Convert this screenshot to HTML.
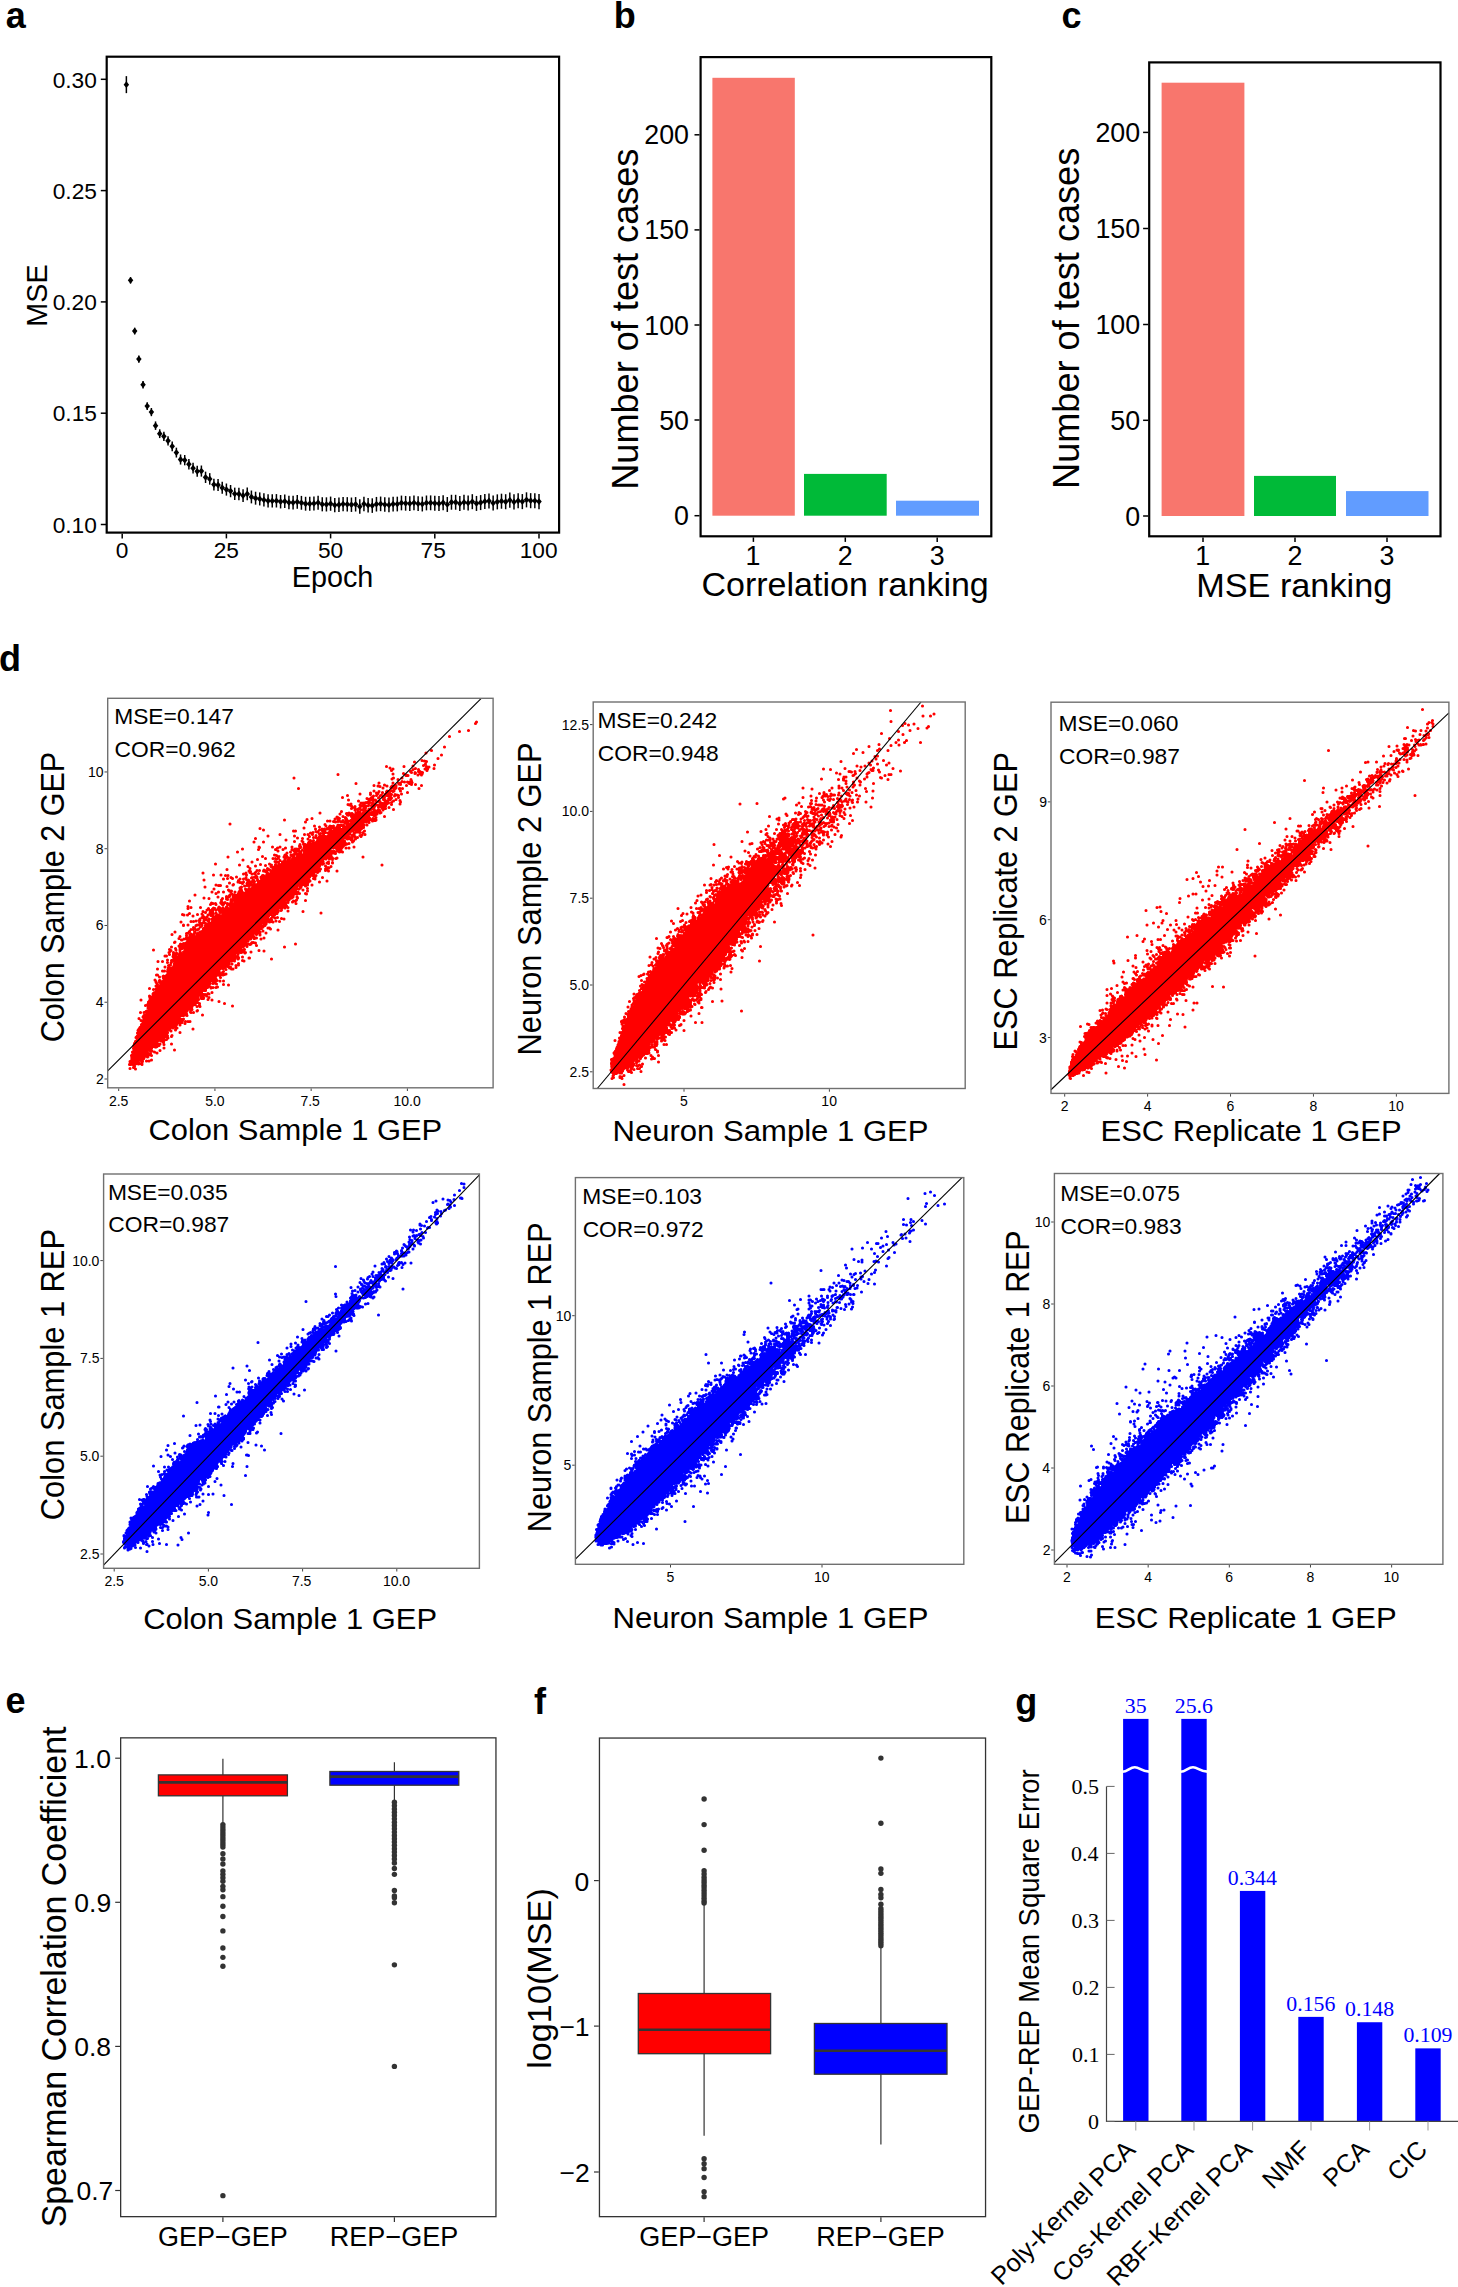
<!DOCTYPE html>
<html><head><meta charset="utf-8"><title>Figure</title>
<style>html,body{margin:0;padding:0;background:#fff;}body{width:1458px;height:2287px;overflow:hidden;}svg{display:block;}</style>
</head><body>
<svg width="1458" height="2287" viewBox="0 0 1458 2287">
<rect x="0" y="0" width="1458" height="2287" fill="#fff"/>
<text x="5.82" y="28.40" font-family='"Liberation Sans", sans-serif' font-size="36" font-weight="bold" fill="#000">a</text>
<text x="613.66" y="28.00" font-family='"Liberation Sans", sans-serif' font-size="36" font-weight="bold" fill="#000">b</text>
<text x="1061.56" y="27.80" font-family='"Liberation Sans", sans-serif' font-size="36" font-weight="bold" fill="#000">c</text>
<text x="-0.94" y="671.00" font-family='"Liberation Sans", sans-serif' font-size="36" font-weight="bold" fill="#000">d</text>
<text x="5.46" y="1713.20" font-family='"Liberation Sans", sans-serif' font-size="36" font-weight="bold" fill="#000">e</text>
<text x="534.06" y="1714.30" font-family='"Liberation Sans", sans-serif' font-size="36" font-weight="bold" fill="#000">f</text>
<text x="1015.26" y="1713.50" font-family='"Liberation Sans", sans-serif' font-size="36" font-weight="bold" fill="#000">g</text>
<rect x="106.70" y="56.70" width="452.40" height="475.90" fill="none" stroke="#000" stroke-width="2.2"/>
<line x1="100.80" y1="79.30" x2="106.00" y2="79.30" stroke="#000" stroke-width="1.5"/>
<text x="52.64" y="87.50" font-family='"Liberation Sans", sans-serif' font-size="22.7" fill="#000">0.30</text>
<line x1="100.80" y1="190.60" x2="106.00" y2="190.60" stroke="#000" stroke-width="1.5"/>
<text x="52.76" y="198.80" font-family='"Liberation Sans", sans-serif' font-size="22.7" fill="#000">0.25</text>
<line x1="100.80" y1="301.90" x2="106.00" y2="301.90" stroke="#000" stroke-width="1.5"/>
<text x="52.64" y="310.10" font-family='"Liberation Sans", sans-serif' font-size="22.7" fill="#000">0.20</text>
<line x1="100.80" y1="413.20" x2="106.00" y2="413.20" stroke="#000" stroke-width="1.5"/>
<text x="52.76" y="421.40" font-family='"Liberation Sans", sans-serif' font-size="22.7" fill="#000">0.15</text>
<line x1="100.80" y1="524.50" x2="106.00" y2="524.50" stroke="#000" stroke-width="1.5"/>
<text x="52.64" y="532.70" font-family='"Liberation Sans", sans-serif' font-size="22.7" fill="#000">0.10</text>
<line x1="122.20" y1="533.70" x2="122.20" y2="538.40" stroke="#000" stroke-width="1.5"/>
<text x="115.84" y="558.40" font-family='"Liberation Sans", sans-serif' font-size="22.7" fill="#000">0</text>
<line x1="226.40" y1="533.70" x2="226.40" y2="538.40" stroke="#000" stroke-width="1.5"/>
<text x="213.69" y="558.40" font-family='"Liberation Sans", sans-serif' font-size="22.7" fill="#000">25</text>
<line x1="330.60" y1="533.70" x2="330.60" y2="538.40" stroke="#000" stroke-width="1.5"/>
<text x="317.94" y="558.40" font-family='"Liberation Sans", sans-serif' font-size="22.7" fill="#000">50</text>
<line x1="434.80" y1="533.70" x2="434.80" y2="538.40" stroke="#000" stroke-width="1.5"/>
<text x="420.61" y="558.40" font-family='"Liberation Sans", sans-serif' font-size="22.7" fill="#000">75</text>
<line x1="539.00" y1="533.70" x2="539.00" y2="538.40" stroke="#000" stroke-width="1.5"/>
<text x="519.65" y="558.40" font-family='"Liberation Sans", sans-serif' font-size="22.7" fill="#000">100</text>
<text x="291.70" y="586.80" font-family='"Liberation Sans", sans-serif' font-size="28.8" fill="#000" textLength="81.59" lengthAdjust="spacingAndGlyphs">Epoch</text>
<text transform="translate(47.00,324.35) rotate(-90)" x="-2.30" y="0" font-family='"Liberation Sans", sans-serif' font-size="28.7" fill="#000">MSE</text>
<line x1="126.37" y1="76.14" x2="126.37" y2="93.14" stroke="#000" stroke-width="1.5"/>
<line x1="130.54" y1="277.11" x2="130.54" y2="283.51" stroke="#000" stroke-width="1.5"/>
<line x1="134.70" y1="327.67" x2="134.70" y2="334.46" stroke="#000" stroke-width="1.5"/>
<line x1="138.87" y1="355.53" x2="138.87" y2="362.69" stroke="#000" stroke-width="1.5"/>
<line x1="143.04" y1="380.95" x2="143.04" y2="388.47" stroke="#000" stroke-width="1.5"/>
<line x1="147.21" y1="402.15" x2="147.21" y2="410.01" stroke="#000" stroke-width="1.5"/>
<line x1="151.38" y1="407.99" x2="151.38" y2="416.18" stroke="#000" stroke-width="1.5"/>
<line x1="155.54" y1="421.42" x2="155.54" y2="429.92" stroke="#000" stroke-width="1.5"/>
<line x1="159.71" y1="429.28" x2="159.71" y2="438.08" stroke="#000" stroke-width="1.5"/>
<line x1="163.88" y1="431.81" x2="163.88" y2="440.89" stroke="#000" stroke-width="1.5"/>
<line x1="168.05" y1="436.13" x2="168.05" y2="445.48" stroke="#000" stroke-width="1.5"/>
<line x1="172.22" y1="441.56" x2="172.22" y2="451.17" stroke="#000" stroke-width="1.5"/>
<line x1="176.38" y1="447.67" x2="176.38" y2="457.53" stroke="#000" stroke-width="1.5"/>
<line x1="180.55" y1="454.45" x2="180.55" y2="464.55" stroke="#000" stroke-width="1.5"/>
<line x1="184.72" y1="455.01" x2="184.72" y2="465.33" stroke="#000" stroke-width="1.5"/>
<line x1="188.89" y1="458.90" x2="188.89" y2="469.45" stroke="#000" stroke-width="1.5"/>
<line x1="193.06" y1="462.81" x2="193.06" y2="473.56" stroke="#000" stroke-width="1.5"/>
<line x1="197.22" y1="465.82" x2="197.22" y2="476.77" stroke="#000" stroke-width="1.5"/>
<line x1="201.39" y1="465.51" x2="201.39" y2="476.64" stroke="#000" stroke-width="1.5"/>
<line x1="205.56" y1="471.65" x2="205.56" y2="482.97" stroke="#000" stroke-width="1.5"/>
<line x1="209.73" y1="473.15" x2="209.73" y2="484.64" stroke="#000" stroke-width="1.5"/>
<line x1="213.90" y1="478.78" x2="213.90" y2="490.43" stroke="#000" stroke-width="1.5"/>
<line x1="218.06" y1="479.07" x2="218.06" y2="490.89" stroke="#000" stroke-width="1.5"/>
<line x1="222.23" y1="481.77" x2="222.23" y2="493.73" stroke="#000" stroke-width="1.5"/>
<line x1="226.40" y1="483.51" x2="226.40" y2="495.62" stroke="#000" stroke-width="1.5"/>
<line x1="230.57" y1="484.98" x2="230.57" y2="497.22" stroke="#000" stroke-width="1.5"/>
<line x1="234.74" y1="487.63" x2="234.74" y2="500.01" stroke="#000" stroke-width="1.5"/>
<line x1="238.90" y1="487.73" x2="238.90" y2="500.23" stroke="#000" stroke-width="1.5"/>
<line x1="243.07" y1="489.31" x2="243.07" y2="501.93" stroke="#000" stroke-width="1.5"/>
<line x1="247.24" y1="487.54" x2="247.24" y2="500.27" stroke="#000" stroke-width="1.5"/>
<line x1="251.41" y1="490.52" x2="251.41" y2="503.37" stroke="#000" stroke-width="1.5"/>
<line x1="255.58" y1="491.72" x2="255.58" y2="504.67" stroke="#000" stroke-width="1.5"/>
<line x1="259.74" y1="492.40" x2="259.74" y2="505.45" stroke="#000" stroke-width="1.5"/>
<line x1="263.91" y1="493.31" x2="263.91" y2="506.46" stroke="#000" stroke-width="1.5"/>
<line x1="268.08" y1="494.15" x2="268.08" y2="507.38" stroke="#000" stroke-width="1.5"/>
<line x1="272.25" y1="494.22" x2="272.25" y2="507.54" stroke="#000" stroke-width="1.5"/>
<line x1="276.42" y1="494.09" x2="276.42" y2="507.50" stroke="#000" stroke-width="1.5"/>
<line x1="280.58" y1="494.98" x2="280.58" y2="508.46" stroke="#000" stroke-width="1.5"/>
<line x1="284.75" y1="494.54" x2="284.75" y2="508.10" stroke="#000" stroke-width="1.5"/>
<line x1="288.92" y1="495.63" x2="288.92" y2="509.27" stroke="#000" stroke-width="1.5"/>
<line x1="293.09" y1="495.77" x2="293.09" y2="509.47" stroke="#000" stroke-width="1.5"/>
<line x1="297.26" y1="495.00" x2="297.26" y2="508.78" stroke="#000" stroke-width="1.5"/>
<line x1="301.42" y1="495.90" x2="301.42" y2="509.73" stroke="#000" stroke-width="1.5"/>
<line x1="305.59" y1="496.80" x2="305.59" y2="510.69" stroke="#000" stroke-width="1.5"/>
<line x1="309.76" y1="496.76" x2="309.76" y2="510.71" stroke="#000" stroke-width="1.5"/>
<line x1="313.93" y1="496.43" x2="313.93" y2="510.44" stroke="#000" stroke-width="1.5"/>
<line x1="318.10" y1="495.64" x2="318.10" y2="509.70" stroke="#000" stroke-width="1.5"/>
<line x1="322.26" y1="497.23" x2="322.26" y2="511.34" stroke="#000" stroke-width="1.5"/>
<line x1="326.43" y1="497.32" x2="326.43" y2="511.48" stroke="#000" stroke-width="1.5"/>
<line x1="330.60" y1="496.58" x2="330.60" y2="510.79" stroke="#000" stroke-width="1.5"/>
<line x1="334.77" y1="497.93" x2="334.77" y2="512.18" stroke="#000" stroke-width="1.5"/>
<line x1="338.94" y1="497.60" x2="338.94" y2="511.90" stroke="#000" stroke-width="1.5"/>
<line x1="343.10" y1="496.88" x2="343.10" y2="511.22" stroke="#000" stroke-width="1.5"/>
<line x1="347.27" y1="497.14" x2="347.27" y2="511.51" stroke="#000" stroke-width="1.5"/>
<line x1="351.44" y1="497.52" x2="351.44" y2="511.93" stroke="#000" stroke-width="1.5"/>
<line x1="355.61" y1="497.06" x2="355.61" y2="511.51" stroke="#000" stroke-width="1.5"/>
<line x1="359.78" y1="499.33" x2="359.78" y2="513.81" stroke="#000" stroke-width="1.5"/>
<line x1="363.94" y1="496.68" x2="363.94" y2="511.19" stroke="#000" stroke-width="1.5"/>
<line x1="368.11" y1="497.92" x2="368.11" y2="512.46" stroke="#000" stroke-width="1.5"/>
<line x1="372.28" y1="498.31" x2="372.28" y2="512.88" stroke="#000" stroke-width="1.5"/>
<line x1="376.45" y1="496.93" x2="376.45" y2="511.52" stroke="#000" stroke-width="1.5"/>
<line x1="380.62" y1="496.55" x2="380.62" y2="511.18" stroke="#000" stroke-width="1.5"/>
<line x1="384.78" y1="497.22" x2="384.78" y2="511.87" stroke="#000" stroke-width="1.5"/>
<line x1="388.95" y1="497.55" x2="388.95" y2="512.22" stroke="#000" stroke-width="1.5"/>
<line x1="393.12" y1="496.71" x2="393.12" y2="511.41" stroke="#000" stroke-width="1.5"/>
<line x1="397.29" y1="496.67" x2="397.29" y2="511.39" stroke="#000" stroke-width="1.5"/>
<line x1="401.46" y1="495.59" x2="401.46" y2="510.33" stroke="#000" stroke-width="1.5"/>
<line x1="405.62" y1="495.93" x2="405.62" y2="510.69" stroke="#000" stroke-width="1.5"/>
<line x1="409.79" y1="496.19" x2="409.79" y2="510.97" stroke="#000" stroke-width="1.5"/>
<line x1="413.96" y1="495.47" x2="413.96" y2="510.27" stroke="#000" stroke-width="1.5"/>
<line x1="418.13" y1="496.25" x2="418.13" y2="511.06" stroke="#000" stroke-width="1.5"/>
<line x1="422.30" y1="496.62" x2="422.30" y2="511.46" stroke="#000" stroke-width="1.5"/>
<line x1="426.46" y1="495.50" x2="426.46" y2="510.36" stroke="#000" stroke-width="1.5"/>
<line x1="430.63" y1="495.40" x2="430.63" y2="510.26" stroke="#000" stroke-width="1.5"/>
<line x1="434.80" y1="495.82" x2="434.80" y2="510.70" stroke="#000" stroke-width="1.5"/>
<line x1="438.97" y1="496.09" x2="438.97" y2="510.99" stroke="#000" stroke-width="1.5"/>
<line x1="443.14" y1="495.30" x2="443.14" y2="510.21" stroke="#000" stroke-width="1.5"/>
<line x1="447.30" y1="497.01" x2="447.30" y2="511.94" stroke="#000" stroke-width="1.5"/>
<line x1="451.47" y1="494.78" x2="451.47" y2="509.71" stroke="#000" stroke-width="1.5"/>
<line x1="455.64" y1="494.80" x2="455.64" y2="509.74" stroke="#000" stroke-width="1.5"/>
<line x1="459.81" y1="496.11" x2="459.81" y2="511.07" stroke="#000" stroke-width="1.5"/>
<line x1="463.98" y1="494.86" x2="463.98" y2="509.83" stroke="#000" stroke-width="1.5"/>
<line x1="468.14" y1="495.44" x2="468.14" y2="510.42" stroke="#000" stroke-width="1.5"/>
<line x1="472.31" y1="494.18" x2="472.31" y2="509.17" stroke="#000" stroke-width="1.5"/>
<line x1="476.48" y1="495.93" x2="476.48" y2="510.93" stroke="#000" stroke-width="1.5"/>
<line x1="480.65" y1="495.07" x2="480.65" y2="510.08" stroke="#000" stroke-width="1.5"/>
<line x1="484.82" y1="493.88" x2="484.82" y2="508.89" stroke="#000" stroke-width="1.5"/>
<line x1="488.98" y1="493.47" x2="488.98" y2="508.49" stroke="#000" stroke-width="1.5"/>
<line x1="493.15" y1="495.57" x2="493.15" y2="510.60" stroke="#000" stroke-width="1.5"/>
<line x1="497.32" y1="494.35" x2="497.32" y2="509.39" stroke="#000" stroke-width="1.5"/>
<line x1="501.49" y1="493.69" x2="501.49" y2="508.73" stroke="#000" stroke-width="1.5"/>
<line x1="505.66" y1="494.20" x2="505.66" y2="509.25" stroke="#000" stroke-width="1.5"/>
<line x1="509.82" y1="492.62" x2="509.82" y2="507.68" stroke="#000" stroke-width="1.5"/>
<line x1="513.99" y1="494.37" x2="513.99" y2="509.43" stroke="#000" stroke-width="1.5"/>
<line x1="518.16" y1="493.22" x2="518.16" y2="508.30" stroke="#000" stroke-width="1.5"/>
<line x1="522.33" y1="494.05" x2="522.33" y2="509.13" stroke="#000" stroke-width="1.5"/>
<line x1="526.50" y1="492.30" x2="526.50" y2="507.38" stroke="#000" stroke-width="1.5"/>
<line x1="530.66" y1="493.14" x2="530.66" y2="508.23" stroke="#000" stroke-width="1.5"/>
<line x1="534.83" y1="493.27" x2="534.83" y2="508.36" stroke="#000" stroke-width="1.5"/>
<line x1="539.00" y1="494.05" x2="539.00" y2="509.15" stroke="#000" stroke-width="1.5"/>
<g fill="#000"><path d="M123.62 84.64L126.37 81.24L129.12 84.64L126.37 88.04Z"/><path d="M127.79 280.31L130.54 276.91L133.29 280.31L130.54 283.71Z"/><path d="M131.95 331.06L134.70 327.66L137.45 331.06L134.70 334.46Z"/><path d="M136.12 359.11L138.87 355.71L141.62 359.11L138.87 362.51Z"/><path d="M140.29 384.71L143.04 381.31L145.79 384.71L143.04 388.11Z"/><path d="M144.46 406.08L147.21 402.68L149.96 406.08L147.21 409.48Z"/><path d="M148.63 412.09L151.38 408.69L154.13 412.09L151.38 415.49Z"/><path d="M152.79 425.67L155.54 422.27L158.29 425.67L155.54 429.07Z"/><path d="M156.96 433.68L159.71 430.28L162.46 433.68L159.71 437.08Z"/><path d="M161.13 436.35L163.88 432.95L166.63 436.35L163.88 439.75Z"/><path d="M165.30 440.80L168.05 437.40L170.80 440.80L168.05 444.20Z"/><path d="M169.47 446.37L172.22 442.97L174.97 446.37L172.22 449.77Z"/><path d="M173.63 452.60L176.38 449.20L179.13 452.60L176.38 456.00Z"/><path d="M177.80 459.50L180.55 456.10L183.30 459.50L180.55 462.90Z"/><path d="M181.97 460.17L184.72 456.77L187.47 460.17L184.72 463.57Z"/><path d="M186.14 464.18L188.89 460.78L191.64 464.18L188.89 467.58Z"/><path d="M190.31 468.18L193.06 464.78L195.81 468.18L193.06 471.58Z"/><path d="M194.47 471.30L197.22 467.90L199.97 471.30L197.22 474.70Z"/><path d="M198.64 471.08L201.39 467.68L204.14 471.08L201.39 474.48Z"/><path d="M202.81 477.31L205.56 473.91L208.31 477.31L205.56 480.71Z"/><path d="M206.98 478.90L209.73 475.50L212.48 478.90L209.73 482.30Z"/><path d="M211.15 484.60L213.90 481.20L216.65 484.60L213.90 488.00Z"/><path d="M215.31 484.98L218.06 481.58L220.81 484.98L218.06 488.38Z"/><path d="M219.48 487.75L222.23 484.35L224.98 487.75L222.23 491.15Z"/><path d="M223.65 489.57L226.40 486.17L229.15 489.57L226.40 492.97Z"/><path d="M227.82 491.10L230.57 487.70L233.32 491.10L230.57 494.50Z"/><path d="M231.99 493.82L234.74 490.42L237.49 493.82L234.74 497.22Z"/><path d="M236.15 493.98L238.90 490.58L241.65 493.98L238.90 497.38Z"/><path d="M240.32 495.62L243.07 492.22L245.82 495.62L243.07 499.02Z"/><path d="M244.49 493.90L247.24 490.50L249.99 493.90L247.24 497.30Z"/><path d="M248.66 496.94L251.41 493.54L254.16 496.94L251.41 500.34Z"/><path d="M252.83 498.20L255.58 494.80L258.33 498.20L255.58 501.60Z"/><path d="M256.99 498.93L259.74 495.53L262.49 498.93L259.74 502.33Z"/><path d="M261.16 499.88L263.91 496.48L266.66 499.88L263.91 503.28Z"/><path d="M265.33 500.76L268.08 497.36L270.83 500.76L268.08 504.16Z"/><path d="M269.50 500.88L272.25 497.48L275.00 500.88L272.25 504.28Z"/><path d="M273.67 500.79L276.42 497.39L279.17 500.79L276.42 504.19Z"/><path d="M277.83 501.72L280.58 498.32L283.33 501.72L280.58 505.12Z"/><path d="M282.00 501.32L284.75 497.92L287.50 501.32L284.75 504.72Z"/><path d="M286.17 502.45L288.92 499.05L291.67 502.45L288.92 505.85Z"/><path d="M290.34 502.62L293.09 499.22L295.84 502.62L293.09 506.02Z"/><path d="M294.51 501.89L297.26 498.49L300.01 501.89L297.26 505.29Z"/><path d="M298.67 502.81L301.42 499.41L304.17 502.81L301.42 506.21Z"/><path d="M302.84 503.74L305.59 500.34L308.34 503.74L305.59 507.14Z"/><path d="M307.01 503.73L309.76 500.33L312.51 503.73L309.76 507.13Z"/><path d="M311.18 503.43L313.93 500.03L316.68 503.43L313.93 506.83Z"/><path d="M315.35 502.67L318.10 499.27L320.85 502.67L318.10 506.07Z"/><path d="M319.51 504.29L322.26 500.89L325.01 504.29L322.26 507.69Z"/><path d="M323.68 504.40L326.43 501.00L329.18 504.40L326.43 507.80Z"/><path d="M327.85 503.69L330.60 500.29L333.35 503.69L330.60 507.09Z"/><path d="M332.02 505.05L334.77 501.65L337.52 505.05L334.77 508.45Z"/><path d="M336.19 504.75L338.94 501.35L341.69 504.75L338.94 508.15Z"/><path d="M340.35 504.05L343.10 500.65L345.85 504.05L343.10 507.45Z"/><path d="M344.52 504.33L347.27 500.93L350.02 504.33L347.27 507.73Z"/><path d="M348.69 504.72L351.44 501.32L354.19 504.72L351.44 508.12Z"/><path d="M352.86 504.29L355.61 500.89L358.36 504.29L355.61 507.69Z"/><path d="M357.03 506.57L359.78 503.17L362.53 506.57L359.78 509.97Z"/><path d="M361.19 503.94L363.94 500.54L366.69 503.94L363.94 507.34Z"/><path d="M365.36 505.19L368.11 501.79L370.86 505.19L368.11 508.59Z"/><path d="M369.53 505.60L372.28 502.20L375.03 505.60L372.28 509.00Z"/><path d="M373.70 504.22L376.45 500.82L379.20 504.22L376.45 507.62Z"/><path d="M377.87 503.86L380.62 500.46L383.37 503.86L380.62 507.26Z"/><path d="M382.03 504.55L384.78 501.15L387.53 504.55L384.78 507.95Z"/><path d="M386.20 504.88L388.95 501.48L391.70 504.88L388.95 508.28Z"/><path d="M390.37 504.06L393.12 500.66L395.87 504.06L393.12 507.46Z"/><path d="M394.54 504.03L397.29 500.63L400.04 504.03L397.29 507.43Z"/><path d="M398.71 502.96L401.46 499.56L404.21 502.96L401.46 506.36Z"/><path d="M402.87 503.31L405.62 499.91L408.37 503.31L405.62 506.71Z"/><path d="M407.04 503.58L409.79 500.18L412.54 503.58L409.79 506.98Z"/><path d="M411.21 502.87L413.96 499.47L416.71 502.87L413.96 506.27Z"/><path d="M415.38 503.66L418.13 500.26L420.88 503.66L418.13 507.06Z"/><path d="M419.55 504.04L422.30 500.64L425.05 504.04L422.30 507.44Z"/><path d="M423.71 502.93L426.46 499.53L429.21 502.93L426.46 506.33Z"/><path d="M427.88 502.83L430.63 499.43L433.38 502.83L430.63 506.23Z"/><path d="M432.05 503.26L434.80 499.86L437.55 503.26L434.80 506.66Z"/><path d="M436.22 503.54L438.97 500.14L441.72 503.54L438.97 506.94Z"/><path d="M440.39 502.76L443.14 499.36L445.89 502.76L443.14 506.16Z"/><path d="M444.55 504.47L447.30 501.07L450.05 504.47L447.30 507.87Z"/><path d="M448.72 502.24L451.47 498.84L454.22 502.24L451.47 505.64Z"/><path d="M452.89 502.27L455.64 498.87L458.39 502.27L455.64 505.67Z"/><path d="M457.06 503.59L459.81 500.19L462.56 503.59L459.81 506.99Z"/><path d="M461.23 502.35L463.98 498.95L466.73 502.35L463.98 505.75Z"/><path d="M465.39 502.93L468.14 499.53L470.89 502.93L468.14 506.33Z"/><path d="M469.56 501.67L472.31 498.27L475.06 501.67L472.31 505.07Z"/><path d="M473.73 503.43L476.48 500.03L479.23 503.43L476.48 506.83Z"/><path d="M477.90 502.58L480.65 499.18L483.40 502.58L480.65 505.98Z"/><path d="M482.07 501.38L484.82 497.98L487.57 501.38L484.82 504.78Z"/><path d="M486.23 500.98L488.98 497.58L491.73 500.98L488.98 504.38Z"/><path d="M490.40 503.08L493.15 499.68L495.90 503.08L493.15 506.48Z"/><path d="M494.57 501.87L497.32 498.47L500.07 501.87L497.32 505.27Z"/><path d="M498.74 501.21L501.49 497.81L504.24 501.21L501.49 504.61Z"/><path d="M502.91 501.73L505.66 498.33L508.41 501.73L505.66 505.13Z"/><path d="M507.07 500.15L509.82 496.75L512.57 500.15L509.82 503.55Z"/><path d="M511.24 501.90L513.99 498.50L516.74 501.90L513.99 505.30Z"/><path d="M515.41 500.76L518.16 497.36L520.91 500.76L518.16 504.16Z"/><path d="M519.58 501.59L522.33 498.19L525.08 501.59L522.33 504.99Z"/><path d="M523.75 499.84L526.50 496.44L529.25 499.84L526.50 503.24Z"/><path d="M527.91 500.69L530.66 497.29L533.41 500.69L530.66 504.09Z"/><path d="M532.08 500.81L534.83 497.41L537.58 500.81L534.83 504.21Z"/><path d="M536.25 501.60L539.00 498.20L541.75 501.60L539.00 505.00Z"/></g>
<rect x="712.40" y="77.80" width="82.40" height="437.90" fill="#F8766D"/>
<rect x="804.00" y="473.90" width="82.70" height="41.80" fill="#00BA38"/>
<rect x="896.00" y="500.70" width="83.00" height="15.00" fill="#619CFF"/>
<rect x="700.60" y="57.10" width="290.70" height="479.20" fill="none" stroke="#000" stroke-width="2.2"/>
<line x1="694.50" y1="515.70" x2="699.50" y2="515.70" stroke="#000" stroke-width="1.5"/>
<text x="674.06" y="525.20" font-family='"Liberation Sans", sans-serif' font-size="26.8" fill="#000">0</text>
<line x1="694.50" y1="420.00" x2="699.50" y2="420.00" stroke="#000" stroke-width="1.5"/>
<text x="659.19" y="429.50" font-family='"Liberation Sans", sans-serif' font-size="26.8" fill="#000">50</text>
<line x1="694.50" y1="325.00" x2="699.50" y2="325.00" stroke="#000" stroke-width="1.5"/>
<text x="644.32" y="334.50" font-family='"Liberation Sans", sans-serif' font-size="26.8" fill="#000">100</text>
<line x1="694.50" y1="229.90" x2="699.50" y2="229.90" stroke="#000" stroke-width="1.5"/>
<text x="644.32" y="239.40" font-family='"Liberation Sans", sans-serif' font-size="26.8" fill="#000">150</text>
<line x1="694.50" y1="134.80" x2="699.50" y2="134.80" stroke="#000" stroke-width="1.5"/>
<text x="644.32" y="144.30" font-family='"Liberation Sans", sans-serif' font-size="26.8" fill="#000">200</text>
<line x1="753.40" y1="537.40" x2="753.40" y2="541.90" stroke="#000" stroke-width="1.5"/>
<text x="745.56" y="565.10" font-family='"Liberation Sans", sans-serif' font-size="26.8" fill="#000">1</text>
<line x1="845.30" y1="537.40" x2="845.30" y2="541.90" stroke="#000" stroke-width="1.5"/>
<text x="837.86" y="565.10" font-family='"Liberation Sans", sans-serif' font-size="26.8" fill="#000">2</text>
<line x1="937.20" y1="537.40" x2="937.20" y2="541.90" stroke="#000" stroke-width="1.5"/>
<text x="929.76" y="565.10" font-family='"Liberation Sans", sans-serif' font-size="26.8" fill="#000">3</text>
<text x="701.50" y="595.90" font-family='"Liberation Sans", sans-serif' font-size="34.1" fill="#000" textLength="287.28" lengthAdjust="spacingAndGlyphs">Correlation ranking</text>
<text transform="translate(637.50,486.90) rotate(-90)" x="-2.89" y="0" font-family='"Liberation Sans", sans-serif' font-size="36.1" fill="#000" textLength="341.19" lengthAdjust="spacingAndGlyphs">Number of test cases</text>
<rect x="1161.60" y="82.70" width="82.80" height="433.30" fill="#F8766D"/>
<rect x="1254.00" y="475.90" width="82.00" height="40.10" fill="#00BA38"/>
<rect x="1346.00" y="491.10" width="82.50" height="24.90" fill="#619CFF"/>
<rect x="1149.20" y="62.40" width="291.30" height="473.90" fill="none" stroke="#000" stroke-width="2.2"/>
<line x1="1143.10" y1="516.00" x2="1148.10" y2="516.00" stroke="#000" stroke-width="1.5"/>
<text x="1125.16" y="525.50" font-family='"Liberation Sans", sans-serif' font-size="26.8" fill="#000">0</text>
<line x1="1143.10" y1="420.30" x2="1148.10" y2="420.30" stroke="#000" stroke-width="1.5"/>
<text x="1110.29" y="429.80" font-family='"Liberation Sans", sans-serif' font-size="26.8" fill="#000">50</text>
<line x1="1143.10" y1="324.50" x2="1148.10" y2="324.50" stroke="#000" stroke-width="1.5"/>
<text x="1095.42" y="334.00" font-family='"Liberation Sans", sans-serif' font-size="26.8" fill="#000">100</text>
<line x1="1143.10" y1="228.50" x2="1148.10" y2="228.50" stroke="#000" stroke-width="1.5"/>
<text x="1095.42" y="238.00" font-family='"Liberation Sans", sans-serif' font-size="26.8" fill="#000">150</text>
<line x1="1143.10" y1="132.40" x2="1148.10" y2="132.40" stroke="#000" stroke-width="1.5"/>
<text x="1095.42" y="141.90" font-family='"Liberation Sans", sans-serif' font-size="26.8" fill="#000">200</text>
<line x1="1203.00" y1="537.40" x2="1203.00" y2="541.90" stroke="#000" stroke-width="1.5"/>
<text x="1195.16" y="565.10" font-family='"Liberation Sans", sans-serif' font-size="26.8" fill="#000">1</text>
<line x1="1295.00" y1="537.40" x2="1295.00" y2="541.90" stroke="#000" stroke-width="1.5"/>
<text x="1287.56" y="565.10" font-family='"Liberation Sans", sans-serif' font-size="26.8" fill="#000">2</text>
<line x1="1387.00" y1="537.40" x2="1387.00" y2="541.90" stroke="#000" stroke-width="1.5"/>
<text x="1379.56" y="565.10" font-family='"Liberation Sans", sans-serif' font-size="26.8" fill="#000">3</text>
<text x="1196.26" y="597.00" font-family='"Liberation Sans", sans-serif' font-size="34.1" fill="#000" textLength="195.96" lengthAdjust="spacingAndGlyphs">MSE ranking</text>
<text transform="translate(1078.70,486.00) rotate(-90)" x="-2.89" y="0" font-family='"Liberation Sans", sans-serif' font-size="36.1" fill="#000" textLength="341.09" lengthAdjust="spacingAndGlyphs">Number of test cases</text>
<path d="M204.5 916.1 202.8 917.1 202.5 918.6 203.2 920.1 205.0 921.1 206.8 920.1 207.0 918.6 206.5 917.1ZM220.5 900.9 219.5 902.1 219.8 903.9 221.8 905.6 223.8 905.6 225.0 904.1 224.8 902.6 222.5 900.9ZM285.8 853.6 284.8 853.9 283.0 856.1 283.2 857.6 285.2 858.9 287.2 858.1 288.2 856.9 287.8 854.9ZM323.8 829.4 322.0 830.4 321.8 832.1 323.0 833.6 324.2 833.9 326.0 832.9 326.2 831.4 325.0 829.6ZM363.0 803.9 362.0 805.1 362.2 806.9 363.8 808.4 365.8 808.4 366.8 807.1 366.5 805.4 365.0 803.9ZM375.2 802.6 372.5 802.6 370.5 805.4 371.0 809.4 372.0 810.6 372.8 810.6 372.8 811.1 369.8 811.6 368.5 809.9 364.8 809.4 363.0 810.4 362.2 812.4 359.5 812.6 358.8 813.4 357.8 812.1 356.8 811.9 355.8 812.1 354.5 813.6 353.8 813.6 352.8 812.6 350.5 812.6 349.0 811.9 346.8 812.6 345.8 813.9 346.0 815.4 348.0 816.6 350.0 816.1 351.5 818.1 350.0 820.1 350.2 822.6 349.0 822.4 349.2 820.9 347.8 819.1 345.8 819.1 343.2 821.6 343.5 823.1 346.0 824.6 345.8 825.6 343.8 825.9 342.2 828.1 341.2 828.1 340.8 827.6 340.8 826.1 339.8 824.9 337.0 824.9 335.2 827.4 334.0 827.4 333.2 828.1 332.5 830.4 332.0 829.6 333.0 827.6 332.8 826.1 331.8 825.1 329.2 825.1 327.5 827.9 327.8 829.4 329.5 830.9 327.5 832.6 328.0 834.9 326.2 835.6 323.2 834.4 322.0 834.9 319.5 834.6 317.2 837.6 316.2 840.6 315.0 841.4 313.0 841.4 311.8 842.9 310.5 841.1 308.5 841.1 306.8 844.1 305.0 843.4 303.2 844.4 303.0 847.9 304.0 849.1 302.8 850.6 303.2 852.6 302.5 853.9 301.2 852.4 300.2 852.1 298.2 853.1 297.2 852.9 299.8 850.6 299.8 849.4 298.8 848.1 296.0 847.9 293.8 848.4 292.8 849.4 292.5 850.9 294.5 853.6 296.8 853.9 296.0 856.4 295.2 856.4 294.0 854.4 292.0 854.4 291.0 855.6 291.0 856.6 291.8 857.6 291.0 859.4 290.0 858.1 288.0 858.1 286.8 860.4 286.0 859.6 284.0 859.6 281.2 861.9 280.8 863.4 279.5 863.1 277.2 864.6 275.0 864.6 272.0 867.1 272.0 869.1 270.2 870.4 270.0 872.6 267.8 871.9 266.8 872.1 265.0 875.4 263.0 874.4 260.0 876.4 259.8 878.1 260.8 879.6 258.5 880.6 257.0 883.1 255.8 883.4 254.2 882.6 252.5 883.4 252.5 881.6 251.5 880.4 250.2 880.4 248.5 879.4 247.5 879.6 245.8 882.9 246.2 885.6 248.5 886.9 251.0 885.9 251.5 887.1 250.8 887.6 248.5 887.6 247.2 888.9 246.5 888.9 245.2 890.4 245.5 891.6 244.8 892.1 242.8 891.1 242.8 889.9 241.8 888.6 239.8 888.6 236.8 894.6 235.0 893.6 233.5 893.9 232.0 896.4 232.5 898.1 232.2 899.9 233.5 901.4 233.5 902.1 233.0 902.4 231.2 901.6 229.2 902.4 228.2 903.4 228.0 905.1 229.5 906.9 229.2 907.6 227.0 906.1 225.8 906.4 224.5 908.1 223.8 907.4 221.8 907.4 219.2 906.1 217.5 907.1 217.2 908.9 218.0 911.1 219.8 913.4 221.2 913.4 221.8 913.9 221.0 915.6 220.0 914.4 217.2 913.6 216.2 913.9 214.2 916.1 214.5 913.9 213.5 910.1 211.8 909.1 210.2 909.4 209.5 910.1 208.8 914.1 211.0 916.6 212.2 917.1 211.2 918.6 211.5 921.4 210.8 922.1 209.5 921.9 207.8 922.9 206.0 922.9 204.2 926.4 202.5 927.6 201.8 929.9 200.0 931.1 199.5 933.4 198.8 932.6 196.8 932.6 195.8 933.9 195.5 935.6 192.0 933.4 189.8 933.4 188.8 934.6 188.8 936.4 186.2 936.6 185.2 937.9 185.5 939.4 186.8 940.6 185.0 943.1 181.0 943.1 179.2 944.1 178.5 945.4 179.2 948.9 181.0 949.9 183.8 949.1 183.8 950.4 182.5 951.9 182.5 953.1 180.5 952.4 179.2 952.6 178.0 953.9 177.2 955.9 176.8 955.6 177.0 954.1 176.0 952.9 174.5 952.6 172.8 953.6 171.8 956.1 172.8 958.9 171.8 960.1 171.8 961.1 173.5 962.6 173.0 963.9 173.2 966.4 170.8 966.9 169.0 965.9 167.2 966.9 166.5 971.6 167.5 973.1 164.8 975.1 163.2 975.1 162.5 975.9 162.2 978.6 162.8 979.4 161.8 980.4 160.5 979.9 158.8 980.9 158.5 982.4 159.5 983.6 159.5 984.6 157.0 985.9 157.0 987.6 156.0 987.9 155.0 989.1 155.2 991.1 153.5 991.6 152.0 993.1 152.0 995.6 150.5 995.4 148.8 996.4 148.5 998.1 149.2 999.1 146.2 1004.6 146.2 1005.6 148.2 1009.6 146.0 1009.9 145.0 1010.9 144.8 1012.4 145.8 1013.6 144.0 1014.1 142.2 1016.1 142.0 1017.6 142.8 1018.6 142.8 1019.9 141.8 1021.1 141.8 1022.9 137.0 1030.1 137.5 1031.8 136.8 1032.8 137.0 1034.6 135.5 1036.3 135.5 1037.6 136.5 1038.8 134.5 1040.8 133.2 1043.3 132.5 1046.6 133.0 1050.3 131.5 1051.8 131.8 1053.8 130.5 1055.3 130.8 1059.3 129.0 1061.6 128.8 1064.3 129.8 1065.6 132.2 1065.8 134.0 1066.8 137.2 1064.8 138.8 1064.8 139.8 1063.6 139.8 1061.1 140.8 1061.8 142.8 1061.8 145.0 1059.1 145.5 1057.6 148.2 1057.3 149.2 1056.1 150.0 1056.1 151.0 1054.8 151.0 1053.8 150.0 1052.6 148.5 1052.1 149.0 1051.6 151.2 1051.6 153.2 1048.1 156.0 1048.3 157.8 1047.3 158.0 1045.8 157.2 1044.8 158.2 1043.6 158.2 1042.1 160.2 1041.8 163.0 1042.8 164.0 1042.6 165.2 1041.1 164.8 1038.3 166.5 1038.6 168.2 1037.6 168.5 1035.3 168.0 1034.6 168.8 1033.1 168.2 1031.1 170.2 1030.8 172.0 1028.6 173.2 1029.1 176.0 1028.1 178.5 1024.3 179.8 1024.8 180.8 1024.6 183.0 1023.1 184.0 1019.4 183.0 1018.1 180.5 1017.9 180.2 1017.4 180.8 1016.9 183.2 1017.1 185.0 1016.1 187.0 1016.1 188.0 1014.9 187.2 1012.6 188.8 1010.4 191.0 1011.4 192.8 1010.4 193.0 1008.6 192.5 1007.9 193.0 1006.6 195.0 1005.9 196.5 1003.9 197.5 1003.6 198.5 1002.4 198.5 1001.1 199.5 999.9 199.0 996.6 199.8 997.1 199.8 998.1 200.8 999.4 202.8 999.6 204.5 998.6 204.8 994.4 203.8 993.1 203.0 993.1 202.8 992.4 203.2 991.9 205.8 991.6 206.5 990.9 206.8 989.4 209.8 986.6 211.5 981.9 212.5 982.9 214.5 982.9 215.5 981.4 217.0 980.4 217.2 978.9 216.5 977.6 217.5 976.6 220.5 976.6 221.2 975.9 221.5 974.4 220.8 973.4 220.2 970.6 221.8 969.6 225.2 969.4 227.0 967.6 228.5 967.4 230.2 964.4 230.2 961.4 231.8 962.1 234.5 961.6 235.5 960.4 236.5 957.4 236.5 956.1 235.8 955.1 236.2 954.6 238.5 954.6 240.2 953.4 243.2 953.6 245.0 952.6 245.0 949.6 244.2 948.9 242.2 948.9 241.8 948.4 243.8 947.9 245.5 946.6 247.0 946.6 247.8 945.9 248.0 944.4 247.0 942.4 248.0 942.1 249.5 939.9 251.5 939.9 252.5 938.6 253.8 938.6 254.5 937.9 254.8 936.1 254.0 935.1 254.5 934.6 256.2 935.4 258.0 934.4 260.2 934.4 261.0 933.6 261.2 931.9 260.0 930.4 260.8 928.1 260.0 927.1 262.0 925.9 262.5 924.4 263.8 925.6 266.0 925.6 267.0 924.6 267.8 922.4 269.5 923.1 271.5 922.6 272.5 921.6 272.5 918.9 271.8 918.1 270.5 917.9 269.2 918.4 268.8 917.9 269.8 916.1 271.2 915.6 272.8 913.9 273.8 915.1 274.8 915.4 277.5 914.4 279.2 911.9 279.5 908.9 282.2 909.1 283.2 907.9 286.0 907.9 287.2 906.6 287.5 904.9 285.5 901.6 288.8 901.6 290.8 899.4 292.2 899.1 294.0 897.4 294.2 895.6 295.2 894.4 295.0 892.9 296.5 891.9 296.8 890.1 297.8 888.9 298.0 886.4 299.2 884.9 300.5 886.4 301.5 886.6 303.0 885.9 306.0 886.6 308.5 885.4 308.8 883.6 310.5 881.1 310.5 880.1 309.5 878.9 311.8 876.6 314.0 876.6 315.0 875.4 314.8 874.1 315.8 872.9 318.2 872.9 320.5 871.4 321.2 868.9 319.8 867.4 321.2 865.6 323.2 865.4 324.2 864.4 324.2 859.9 326.0 860.1 327.8 859.1 329.5 859.9 331.8 859.1 332.8 857.9 332.8 856.9 330.8 855.1 332.2 854.4 335.5 854.4 336.8 851.9 339.5 853.1 341.5 852.9 342.2 852.1 342.2 849.1 347.2 844.4 347.0 842.9 345.5 840.9 344.0 839.9 344.2 839.6 349.0 839.9 351.5 841.1 353.2 840.1 353.2 837.1 352.5 836.4 349.2 836.1 350.5 834.6 350.2 832.6 353.2 831.9 354.2 830.9 355.8 833.4 359.5 833.4 360.5 832.1 360.2 830.6 362.8 829.6 364.5 827.9 365.0 824.9 364.0 823.6 364.5 823.1 369.0 822.6 371.0 819.9 372.2 821.4 375.2 821.9 377.0 820.9 377.2 819.4 376.0 817.6 372.5 817.6 371.2 819.1 370.0 817.1 370.2 815.4 374.0 816.4 376.2 815.9 378.0 814.4 378.5 812.9 380.0 812.9 381.0 811.6 381.0 810.1 380.0 808.9 377.5 808.9 376.5 809.9 375.2 809.1 375.0 807.9 376.2 805.1 376.2 803.9ZM336.2 850.9 334.2 850.1 331.8 850.6 331.2 849.4 331.8 848.9 333.5 849.4 335.0 848.6 336.2 850.1ZM368.8 800.4 367.8 800.6 366.8 801.9 367.0 803.4 368.8 804.4 369.8 804.1 370.8 802.9 370.5 801.4ZM389.0 800.9 388.2 800.1 386.0 799.9 384.2 800.9 383.8 802.4 381.5 801.9 379.8 802.1 377.5 805.4 377.8 806.9 378.5 807.6 380.5 807.9 382.0 809.9 385.0 809.6 386.0 808.4 386.8 805.6 389.5 803.1ZM372.0 796.6 371.0 796.9 370.0 798.1 370.2 799.6 372.0 800.6 373.0 800.4 374.0 799.1 373.8 797.6ZM386.5 790.1 385.5 791.4 385.8 792.9 384.5 793.9 384.2 795.4 385.2 796.6 388.2 797.4 388.2 798.9 389.2 800.1 391.2 800.1 392.2 798.9 391.5 796.4 392.5 795.1 392.5 794.1 388.8 790.1ZM390.0 786.6 389.8 788.1 390.8 789.4 392.5 789.4 394.2 790.4 395.5 790.1 397.2 788.1 397.0 785.6 395.2 784.6 392.0 784.9ZM407.8 781.6 407.5 783.1 409.2 784.9 412.0 784.9 413.2 783.1 413.2 782.1 412.2 780.9 409.5 780.6ZM421.2 771.1 419.5 772.1 419.2 773.6 420.5 775.1 421.5 775.4 423.2 774.4 423.5 772.6 422.5 771.4ZM427.0 766.6 426.0 766.9 425.0 768.1 425.2 769.9 427.0 770.9 428.0 770.6 429.0 769.4 428.8 767.6Z" fill="#FF0000" fill-rule="evenodd"/><path d="M129.5 1064.5h0m0.5 4h0m0 -7h0m0 2.5h0m0 0h0m0.5 -2.5h0m0 3h0m1 -9h0m0.5 4h0m0 -1h0m0 -2h0m0 1h0m0 2.5h0m0.5 -8h0m0.5 1h0m0 0.5h0m0 -1.5h0m0.5 15.5h0m0 -19h0m0.5 17h0m0 -18.5h0m0 19.5h0m0 -21h0m0 4h0m0.5 17h0m0 -16.5h0m0 -6h0m0.5 -1h0m0.5 -1h0m0 27h0m0 -27.5h0m0.5 -4h0m0.5 -0.5h0m0.5 0h0m0.5 -1h0m0 4h0m0 -7h0m0.5 -2.5h0m0 30.5h0m0.5 3h0m0 -0.5h0m0.5 -45h0m0 10.5h0m0.5 34.5h0m0.5 -36h0m0.5 -15h0m0.5 8h0m0 -20.5h0m0.5 61h0m0 -36.5h0m0.5 36.5h0m0 0h0m0 2h0m0 1.5h0m0 -3h0m0.5 0h0m0.5 -44.5h0m0 5h0m0 -1h0m0.5 37.5h0m0.5 -1h0m0 -38h0m0 -4h0m0 -3h0m1 3h0m0.5 -3.5h0m0 -6.5h0m0.5 6h0m0.5 49.5h0m0.5 -50h0m0 2h0m0.5 43h0m0 1h0m0.5 -0.5h0m0 -52h0m0 3.5h0m0.5 -6h0m0.5 59h0m0.5 -72.5h0m0 21.5h0m0 44.5h0m0 -58.5h0m0.5 1.5h0m0 53h0m0 -50.5h0m0.5 53.5h0m0.5 -3.5h0m0.5 5.5h0m0 -7.5h0m0 12h0m0.5 -9h0m1 -57h0m0.5 -44h0m0 39.5h0m0.5 3.5h0m0.5 59h0m0.5 -72h0m0.5 67h0m0.5 -58h0m0 -7.5h0m0 65.5h0m0 -61h0m0 -4h0m0.5 8h0m0 -7h0m0 -8h0m0.5 68h0m0 10h0m0 -6.5h0m0.5 -3h0m0 -74.5h0m0 6h0m0 9.5h0m0.5 -23h0m0 25.5h0m1 58.5h0m0.5 -63.5h0m0 0h0m0 -1.5h0m0 -3.5h0m0.5 73.5h0m0 -6.5h0m0 -63.5h0m1 3.5h0m0.5 57h0m1 -79.5h0m0 9.5h0m0.5 5.5h0m0.5 66h0m0 -4h0m0 -60.5h0m0 61.5h0m0 -63.5h0m0.5 64.5h0m0 4h0m0 3.5h0m0.5 -77h0m0.5 -15h0m0 11h0m1.5 72.5h0m0 -83.5h0m0.5 77.5h0m0 -1.5h0m0.5 4h0m0 -76h0m0 72.5h0m0 -58h0m0 -12h0m0 9h0m0.5 66.5h0m0 -68.5h0m0.5 -1.5h0m0 -2.5h0m0.5 7h0m0 -20h0m0 14.5h0m0.5 -12.5h0m0 -5h0m0 80.5h0m0.5 -78.5h0m0.5 13.5h0m0.5 -14.5h0m0 80.5h0m0 -68h0m0.5 -1h0m0 74.5h0m0 -89.5h0m0 97h0m0 -83.5h0m0.5 75h0m0 -67.5h0m0 -7.5h0m0 -26h0m1 22h0m0 11h0m0 0h0m0 60.5h0m0.5 -75.5h0m0 1.5h0m0 0.5h0m0.5 11.5h0m0 -8h0m0 1.5h0m0 6h0m0.5 84.5h0m0 -85.5h0m0 -22h0m0 21h0m0.5 -0.5h0m0 -21h0m0 85h0m0 -95h0m0.5 28h0m0 70h0m0 -81.5h0m0 77.5h0m0.5 -6.5h0m0 -69.5h0m0 4.5h0m0 70.5h0m0.5 -72h0m0 14h0m0.5 61h0m1.5 -9.5h0m0.5 -62.5h0m0 -17.5h0m0 16h0m0 -8.5h0m0.5 8.5h0m0.5 -4h0m0 82h0m0 -7.5h0m0 -72.5h0m0 -16h0m0 11.5h0m0 70.5h0m0 0.5h0m0 -69.5h0m0.5 -5.5h0m0 8.5h0m0 1h0m0.5 -5.5h0m0 -26h0m0.5 18h0m0 0h0m0.5 0h0m0 8.5h0m0 74h0m0.5 -2h0m0 -106h0m0 101h0m1 -90.5h0m0 94h0m0 -3.5h0m0 -63.5h0m0 -26.5h0m0 18h0m0.5 -28.5h0m0 24h0m1 10h0m0 1.5h0m0 -7h0m0 80h0m0.5 -2h0m0.5 -6.5h0m0 -72h0m0 69h0m0.5 -76.5h0m0 78.5h0m0 -80.5h0m0 5.5h0m0 -1.5h0m0 1h0m0.5 72.5h0m0 4.5h0m0.5 -70h0m0 -30.5h0m0.5 27h0m0 -9h0m0 88.5h0m0 -115h0m0 34.5h0m0 -16h0m0 -16.5h0m1.5 23h0m0 -30.5h0m0 12.5h0m0.5 108h0m0 -86.5h0m0 1h0m0 0.5h0m0.5 75.5h0m0.5 -90.5h0m0 8h0m0 83h0m0 -78.5h0m0 73.5h0m0 -100h0m0.5 100.5h0m0.5 -1.5h0m0 3h0m1 -93.5h0m0 113h0m0.5 -107.5h0m0 14.5h0m0 -6.5h0m0 -2h0m0 85h0m0.5 -78.5h0m0.5 -2h0m0 -4h0m0.5 0.5h0m0 76h0m0 -109.5h0m0.5 108.5h0m0.5 -82.5h0m0 4.5h0m0.5 4.5h0m0.5 76.5h0m0 -73h0m0 2h0m0 -10.5h0m0 86h0m0.5 -14.5h0m0 -66.5h0m0 72.5h0m0 -88h0m0 96h0m0 -12.5h0m0.5 -73h0m0 8.5h0m0.5 66h0m0 -70.5h0m0.5 -8.5h0m0 4h0m0.5 80.5h0m0 -1.5h0m0 -81.5h0m0.5 10h0m0 -12h0m0 86.5h0m0 -87.5h0m0.5 8h0m0 -19.5h0m0.5 16.5h0m0 8h0m0 65.5h0m0.5 1h0m0 -5.5h0m0.5 -79h0m0 11.5h0m0 -8h0m0.5 5.5h0m0 92h0m0.5 -99.5h0m0 -4h0m0 -38.5h0m0.5 56.5h0m0 69h0m0 -70h0m0 69h0m0 -79.5h0m0.5 -20h0m0 22.5h0m0 74h0m0 -114.5h0m0 37.5h0m1 -30.5h0m0 103.5h0m0 -67.5h0m0.5 67.5h0m0 -64.5h0m0 64h0m0 -1h0m0 -76.5h0m0 13h0m0 69h0m0 -75h0m0.5 0h0m0 75.5h0m0.5 1h0m0 -72h0m0.5 -7h0m0 -7h0m0.5 77.5h0m0.5 6h0m0 6h0m0 -84.5h0m0 6h0m0.5 -12.5h0m0 12h0m0 65.5h0m0.5 0h0m0 -87.5h0m0 99h0m0 -77.5h0m0 2h0m0 72h0m0 -75h0m1 64.5h0m0 -73h0m0 3.5h0m0 -1h0m0.5 -8.5h0m0 82.5h0m0.5 1h0m0 -72.5h0m0.5 -12.5h0m0.5 -11h0m0 100.5h0m0 -73.5h0m0 81h0m0.5 -91h0m0 10.5h0m0 2h0m0 -8h0m0 -1.5h0m0.5 1.5h0m0 -3.5h0m0 73.5h0m0 -69h0m0 -11h0m0 84h0m0.5 -112.5h0m0 42h0m0 -9h0m0.5 73.5h0m0 -92.5h0m1 93.5h0m0 -74h0m0 68.5h0m0 6h0m0.5 -79.5h0m0 -39.5h0m0.5 115h0m0 8.5h0m0 -94h0m0 90h0m0 -73.5h0m0 -25h0m0 28h0m0 -8.5h0m0.5 79.5h0m0 -68.5h0m0.5 65h0m0.5 6.5h0m0.5 -72h0m0 -18h0m0.5 -5h0m0 16.5h0m0 -23h0m0.5 86h0m0 -64.5h0m0 94.5h0m0 -91.5h0m0.5 -24.5h0m0 87.5h0m0 2h0m0.5 -62.5h0m0 63h0m0 5.5h0m0 -65.5h0m0.5 62h0m0 -92h0m0.5 17h0m0 72h0m0 -56h0m0 -43.5h0m0 28h0m0.5 -3h0m1 74h0m0 -1.5h0m0 -68h0m0 11h0m0 -17h0m0.5 76.5h0m0 -61.5h0m0 55h0m0 -54h0m0 2h0m0 -8.5h0m0 -3h0m0.5 -13h0m0 79.5h0m0 -92.5h0m0 105.5h0m0 -3.5h0m0.5 -63.5h0m0 -14h0m0.5 71h0m0 29h0m0.5 -101h0m0.5 -27h0m0.5 33h0m0 61h0m0 4.5h0m0.5 -76.5h0m0 9.5h0m0 -10.5h0m0 2.5h0m0.5 -0.5h0m0 -12h0m0 -17h0m0 37.5h0m0.5 -3.5h0m0 -4h0m0 5h0m0 -26h0m0.5 -21.5h0m0 109.5h0m0 -91h0m0 89.5h0m0.5 -75h0m0 95h0m0 -88h0m0.5 65h0m0 2h0m0.5 4h0m0 -85h0m0 8h0m0 5.5h0m0 -1h0m0.5 9.5h0m0 4.5h0m0 58.5h0m0 -144h0m0.5 143h0m0 -72.5h0m0 -3.5h0m0.5 16h0m0 -29.5h0m0 22h0m0 1h0m0 0.5h0m0 -9h0m0.5 -1h0m0 78h0m0 -66.5h0m0 58.5h0m0 0h0m0.5 -60h0m0 -7h0m0 70h0m0.5 -85.5h0m0 127.5h0m0.5 -37h0m0 -84h0m0 14.5h0m0 -2.5h0m0.5 -12.5h0m0 11.5h0m0.5 -1h0m0.5 60.5h0m0 5.5h0m0 -66h0m0.5 63.5h0m0 -57.5h0m0 -9h0m0.5 64.5h0m0.5 11h0m0 -2h0m0.5 -88.5h0m0.5 79.5h0m0 -61.5h0m0.5 -43h0m0.5 102.5h0m0 4h0m0 0.5h0m0 -77h0m0.5 -1.5h0m0 78h0m0 5h0m0 1.5h0m0 -71.5h0m0 64h0m0.5 -65.5h0m0 5.5h0m0.5 -32.5h0m0 33h0m0.5 -10h0m0 -9h0m0 11.5h0m0 -8h0m0.5 13h0m0 -8h0m0.5 1h0m0 -6h0m0 70h0m0.5 -62h0m0 -3.5h0m1 73.5h0m0 -77h0m0 73.5h0m0 -108h0m0.5 98h0m0 -87h0m0 86.5h0m0.5 -72.5h0m0 8h0m0 -3h0m0.5 18h0m0 64h0m0.5 -11.5h0m0 -63.5h0m0 0h0m0.5 67h0m0.5 -0.5h0m0 -63.5h0m0 54h0m0 -0.5h0m0.5 -65h0m0 -4.5h0m0 17.5h0m0.5 -11h0m0 -4.5h0m0.5 15h0m0 -4.5h0m0 -2h0m0 63h0m0.5 -66.5h0m0.5 -13.5h0m0 14.5h0m0 59h0m0 1h0m0 3h0m0.5 -64h0m0.5 78h0m0 -69.5h0m0 -17.5h0m0.5 87h0m0 -72.5h0m0.5 -17h0m0 4h0m0 72h0m0.5 -73h0m0 67.5h0m0.5 5h0m0 -61.5h0m0 61h0m0 8.5h0m0.5 -74h0m0.5 -16h0m0 19.5h0m0 -4h0m0 -3.5h0m0 68.5h0m1 -55.5h0m0.5 -7h0m0 62.5h0m0 -6h0m0 0h0m0.5 1h0m0 -95.5h0m0 96.5h0m0 -55h0m0.5 55h0m0 -57h0m0 -8h0m0 3.5h0m1 61h0m0 -99.5h0m0 34h0m0 70.5h0m0 -77h0m0 11.5h0m0.5 -2h0m0 62.5h0m0 0h0m0 -4h0m0.5 0.5h0m0 3.5h0m0 7.5h0m0.5 -67h0m0 -1.5h0m0 -6.5h0m0 0h0m0.5 -11h0m0 21h0m0 -1h0m1 -30h0m0 77.5h0m0 -53.5h0m0 9.5h0m0.5 67.5h0m0 -20.5h0m0 -83h0m0.5 0.5h0m0 23h0m0.5 64.5h0m0 -106.5h0m0 100h0m0 6h0m0 -2h0m0 -0.5h0m0.5 -51h0m0 -16.5h0m0.5 13h0m0 -0.5h0m0 48.5h0m0 -48.5h0m0 3.5h0m0 58.5h0m0 -13.5h0m0.5 3h0m0 -2h0m0.5 1h0m0 -1.5h0m0 0h0m0.5 -69.5h0m0 19h0m0.5 55.5h0m0 -4h0m0.5 -97h0m0 41h0m0 4.5h0m0 -33.5h0m0.5 109h0m0 -81h0m0 68h0m0 -57.5h0m0.5 45h0m0 0h0m0.5 0h0m0 -55h0m0 54h0m0.5 -66h0m0 7h0m0 6h0m0 -6h0m0.5 67.5h0m0 -9h0m0 -1.5h0m0.5 -51.5h0m0.5 0h0m0 1h0m0 2h0m0.5 -5.5h0m0 49h0m0.5 -81.5h0m0 92h0m0.5 -12h0m0.5 -46.5h0m0.5 52.5h0m0 -38.5h0m0 -4.5h0m0 49h0m0 -64h0m1 65h0m0 -58.5h0m0 0h0m0 0h0m0.5 48h0m0 -4h0m0 -48h0m0.5 92.5h0m0 -39h0m0 -53h0m0 4.5h0m0 -6.5h0m0 56.5h0m0.5 -54.5h0m0.5 12.5h0m0 36.5h0m0 -69h0m0 20.5h0m0.5 -9h0m0 57.5h0m0 1h0m0 5h0m1 -7.5h0m0.5 -59.5h0m0 60h0m0.5 -53.5h0m0 56.5h0m0.5 -59.5h0m0 6h0m0 -15h0m0.5 71.5h0m0.5 -59h0m0 -6.5h0m0.5 3.5h0m0 54.5h0m0 -1h0m0.5 5h0m0 -69.5h0m0.5 63.5h0m0 -60.5h0m0 79h0m0 -20h0m0.5 -52h0m0 4.5h0m0 -5h0m0.5 -1h0m0 8h0m0.5 57h0m0.5 -61h0m0 -26h0m0 12.5h0m1 63.5h0m0.5 -46h0m0 45.5h0m0 8.5h0m0.5 -10.5h0m0 -37.5h0m0.5 -8.5h0m0.5 -12.5h0m1 69.5h0m0 -62h0m0 44.5h0m0.5 0.5h0m0 -82h0m0 127h0m0.5 -92h0m0 14.5h0m0 33.5h0m0 5h0m0 -48.5h0m0.5 -1.5h0m0 -10h0m0 56.5h0m0.5 -64.5h0m0.5 66h0m0 -50h0m0.5 -3h0m0.5 49h0m0.5 9h0m0 -53.5h0m0 45h0m0 -42.5h0m0 47.5h0m0.5 -48.5h0m0.5 41h0m0 -34.5h0m0 -0.5h0m0.5 -7h0m0 0h0m1 -6h0m0.5 3h0m0.5 1h0m0 42h0m0.5 -51h0m0 2.5h0m0 17h0m0.5 35.5h0m0 -36.5h0m0 -6.5h0m0.5 38h0m0 -0.5h0m0.5 -40.5h0m0 -25h0m0 70h0m0 -44.5h0m0 -2h0m0.5 -3.5h0m0 -73h0m0 77h0m0.5 39h0m0 -52.5h0m0 -5.5h0m0.5 13h0m0.5 52h0m0 -47.5h0m0 37.5h0m0 53h0m0 -113h0m0.5 60.5h0m0 12h0m0.5 -3.5h0m0 -46h0m0 32.5h0m0 -37.5h0m0.5 39.5h0m0 -2.5h0m0 11h0m0 -42.5h0m0 39.5h0m0.5 -56h0m0 16.5h0m0 2h0m0 41.5h0m0.5 -13h0m0 7h0m0.5 -103.5h0m0 62.5h0m0.5 -2.5h0m0 3h0m0 37.5h0m0.5 4.5h0m0 -47.5h0m0.5 7h0m0 -6.5h0m0 5h0m0 -7h0m0 42h0m0.5 -40h0m0 41.5h0m0 -40.5h0m0.5 6h0m0 -1.5h0m0 35h0m0.5 -1.5h0m0.5 -44.5h0m0.5 9h0m0 -11.5h0m0.5 73h0m0 -21.5h0m0 -48h0m0.5 2h0m0.5 3.5h0m0 -19.5h0m0 17h0m0.5 6.5h0m0 2h0m0 -19h0m1 10h0m0 49h0m0 7h0m0 -78.5h0m0 64h0m1 8h0m0.5 -74.5h0m0.5 69h0m0 -3.5h0m0 6h0m0.5 -52h0m0 43.5h0m0 -4h0m0 -44h0m0.5 8.5h0m0.5 -1h0m0.5 -5.5h0m0 21.5h0m0 22.5h0m0 -3.5h0m0.5 4h0m0 -38h0m0.5 -2.5h0m0 0h0m0 -7.5h0m1.5 14.5h0m0 37.5h0m0 -66.5h0m0.5 16h0m0 23h0m0.5 18h0m0 -43h0m0 9.5h0m0.5 -1.5h0m0 38h0m0 -4h0m0 -37h0m0.5 35h0m0 6h0m0.5 -2h0m0 -50.5h0m0.5 51.5h0m0 1.5h0m0.5 -50h0m0.5 2.5h0m0 44h0m0 -40h0m0 2h0m1 -5.5h0m0.5 40h0m0 0.5h0m0 -40.5h0m0.5 9h0m0 -0.5h0m0 -1h0m0 -8h0m1 6h0m0 0h0m0.5 -7.5h0m0 36h0m0 -32h0m0 48h0m0 -11h0m0 -44h0m0 41.5h0m0.5 -33h0m0 -22.5h0m0.5 20.5h0m0 35.5h0m0.5 44h0m1 -84h0m0.5 35h0m0 13.5h0m0 -46.5h0m0 29.5h0m0.5 -27h0m0 28h0m0.5 -27h0m0 29h0m1 -34.5h0m0.5 7.5h0m0 -12h0m0.5 8h0m0 33.5h0m0 -36.5h0m0 39.5h0m0 1.5h0m0.5 -14.5h0m0 3h0m0 10h0m0 -43h0m1 55h0m0 -11.5h0m0 -6.5h0m0.5 -42h0m0 7.5h0m0.5 7.5h0m0 31.5h0m0 -38.5h0m0 4h0m0.5 21h0m0 8h0m0 -5h0m0 14h0m0 -34h0m0 26.5h0m0.5 4.5h0m0 -35.5h0m0.5 -5.5h0m0 7.5h0m0 24.5h0m0.5 -33h0m0 23h0m0 1h0m0 -29h0m0.5 9.5h0m0.5 23.5h0m0 -25h0m0 26.5h0m0 11h0m0.5 -40h0m0 5h0m0.5 26h0m0 -24.5h0m0 -1.5h0m0 -4.5h0m0.5 35.5h0m0 -3h0m0 -33h0m0 36.5h0m0 -11.5h0m0 8h0m0.5 -1h0m0.5 -32.5h0m0 -4.5h0m0 26.5h0m0 -17h0m0 -3.5h0m0.5 3h0m0.5 -2h0m0 23h0m0.5 -19.5h0m0 -13h0m0 13.5h0m0.5 21h0m0 -31.5h0m0.5 12.5h0m0 24h0m0.5 -10h0m0.5 9.5h0m0 0h0m0 -31h0m0 44h0m0 -54h0m0.5 34h0m0.5 -26h0m0 -6h0m0 -44.5h0m0 47h0m0 -4h0m0 3.5h0m0.5 -1.5h0m1 -1h0m0 9.5h0m0 -2h0m0 26h0m0.5 -38h0m0.5 7.5h0m0 3.5h0m0.5 0.5h0m0 25h0m0 -0.5h0m0 -25h0m0.5 -13.5h0m0.5 36h0m0.5 4.5h0m0 -12.5h0m0 -17.5h0m0 -24.5h0m0.5 28h0m0 -5h0m0 -4h0m0 27h0m0.5 -18h0m0 0.5h0m0 2h0m1 13h0m0.5 -18h0m0.5 21.5h0m0 -26h0m0 -1h0m0.5 0.5h0m0 30h0m0.5 -27.5h0m0 -7h0m0 5.5h0m0.5 25h0m0 -19h0m0.5 -10.5h0m0 24.5h0m0 -43.5h0m0.5 19.5h0m0 21.5h0m0 -32h0m0.5 -4.5h0m0 15h0m0.5 33h0m0 -4.5h0m0 -22.5h0m0 -8h0m0.5 -8h0m0 29h0m0.5 0h0m0.5 -2.5h0m0.5 -27.5h0m0.5 36h0m0 -31.5h0m0 11.5h0m0 -3.5h0m0 5h0m0 -15.5h0m0.5 29.5h0m0 3h0m0 -25h0m0 22h0m0.5 -28h0m0 28.5h0m0 6h0m0 -23h0m0 12h0m0.5 -13h0m0.5 16.5h0m0 6.5h0m0.5 6h0m0.5 -13.5h0m0 -0.5h0m0.5 -23h0m0 -2h0m0 -1.5h0m0 30.5h0m0 -0.5h0m0 -4h0m0.5 6.5h0m0 -13.5h0m0.5 -42h0m0 29h0m0.5 1h0m0.5 6h0m0 2h0m0.5 8.5h0m0 -0.5h0m0 -16h0m0 24h0m0 -28h0m0 8.5h0m1 -17h0m0 10.5h0m0 15.5h0m0.5 -18.5h0m0 22.5h0m1 -26h0m0 3h0m0 -14h0m0 41.5h0m0 -5.5h0m0 -17.5h0m0 20h0m0.5 -26h0m0.5 3.5h0m0 10h0m0 9h0m0 7.5h0m0 -33.5h0m0 26h0m1 6h0m0 -29h0m1 26.5h0m0 -23h0m0 14h0m0 -20.5h0m0 54h0m0.5 -47h0m0 17.5h0m0 -15h0m0.5 -2h0m0 14.5h0m0 -21h0m0.5 5h0m0 22h0m0 -24h0m0 -4h0m0.5 31.5h0m0.5 -28.5h0m0 2h0m0.5 -5.5h0m0 19.5h0m0.5 -11h0m0 -5h0m0.5 -7.5h0m0 26.5h0m0.5 -22.5h0m0.5 8.5h0m0.5 0h0m0 -5.5h0m0 10.5h0m0.5 6h0m0 -21.5h0m0 8.5h0m0 -5.5h0m0 19h0m0.5 -4.5h0m0 -19h0m0.5 3.5h0m0.5 -8h0m0 25h0m0 -26.5h0m0 17h0m0.5 -10.5h0m0.5 -0.5h0m0 15.5h0m0 -9h0m0 -8h0m0.5 9.5h0m0.5 -9h0m0 9.5h0m0 5h0m0 8.5h0m0 -18h0m0.5 15.5h0m0 -17h0m0 -2.5h0m0.5 -3h0m0.5 19.5h0m0 -6.5h0m0 -23.5h0m0 5.5h0m0.5 15.5h0m0.5 14h0m0 -16.5h0m0.5 10.5h0m0 -14.5h0m0.5 17.5h0m0 2.5h0m0.5 -27h0m0 2.5h0m0 6h0m0.5 12.5h0m0 -9h0m1 -11.5h0m0 16.5h0m0 -24h0m0.5 21.5h0m0 -9.5h0m0.5 -6.5h0m0 -8.5h0m0 23.5h0m0 -5h0m0 8.5h0m0.5 0.5h0m0 0.5h0m0.5 -6.5h0m0 -2.5h0m0 11h0m0 -17h0m0 -9.5h0m0 15h0m1 11h0m0.5 -17.5h0m0.5 70h0m0 -57h0m0.5 -15.5h0m0 11h0m0.5 6.5h0m0 -22h0m0 9.5h0m0.5 2h0m0 -1.5h0m1 18.5h0m0 -19.5h0m0 -12h0m0.5 9.5h0m0 7.5h0m0 -2.5h0m0.5 6.5h0m0 2.5h0m0 -7.5h0m0 4h0m1 -38.5h0m0 25.5h0m0 12h0m0.5 -13h0m0 -5h0m1 15h0m0.5 2h0m0 -4h0m0 -7.5h0m0.5 16h0m0.5 -8h0m0.5 -2h0m0 -29.5h0m0.5 31.5h0m0.5 -12h0m0 3h0m0 4.5h0m0 3.5h0m0.5 -28h0m0 27.5h0m0 6.5h0m0 -10h0m0 8h0m0.5 -16.5h0m0 -7h0m1 4h0m0 -14h0m0 22.5h0m0 -17.5h0m0.5 35.5h0m0 -18.5h0m0 -13h0m0 23h0m0.5 -10h0m0.5 5h0m0 -7h0m0.5 5.5h0m1 5h0m0 -13.5h0m0 2h0m0 -2.5h0m1 9.5h0m1 -15.5h0m0.5 16h0m0 -12.5h0m0 14.5h0m0.5 -13.5h0m0.5 4.5h0m0 0.5h0m0.5 11.5h0m0 -12h0m0 15.5h0m0.5 -13h0m0 11h0m0 -19h0m0 1.5h0m1 9.5h0m0.5 -12.5h0m0 -3.5h0m0.5 10.5h0m1 -15h0m0.5 -7h0m0.5 15.5h0m1.5 -6.5h0m0.5 10h0m0 -10.5h0m1 17.5h0m0 -10.5h0m0.5 -6.5h0m0.5 7h0m1 1h0m1 -12h0m0.5 0h0m0 8h0m0.5 -7h0m0 12h0m0 -3.5h0m0.5 1.5h0m1 -16.5h0m0 3.5h0m1.5 -7.5h0m0.5 10.5h0m0 1h0m0.5 -0.5h0m0 -4.5h0m0 16h0m2.5 -9.5h0m0.5 -5.5h0m0 2h0m0.5 17h0m1 -17h0m0 2h0m0.5 -1.5h0m1 3h0m0 10.5h0m0.5 -25h0m0 13.5h0m0.5 -1.5h0m1 -7h0m1 -4.5h0m0.5 8h0m0.5 -5h0m0.5 -11h0m0.5 8.5h0m0 5h0m0.5 4h0m0.5 -1.5h0m1.5 -2h0m2.5 -16.5h0m2.5 18h0m0.5 -3.5h0m3.5 -6.5h0m3.5 -3.5h0m3 -8h0m5 -10.5h0m10 -5h0m9 -1h0m7 -7h0m1 -1.5h0" stroke="#FF0000" stroke-width="3.1" stroke-linecap="round" fill="none"/>
<line x1="107.70" y1="1070.78" x2="481.25" y2="698.30" stroke="#000" stroke-width="1.1"/>
<rect x="107.70" y="698.30" width="385.40" height="389.50" fill="none" stroke="#707070" stroke-width="1.4"/>
<line x1="118.70" y1="1088.50" x2="118.70" y2="1091.00" stroke="#444" stroke-width="1"/>
<text x="108.90" y="1105.70" font-family='"Liberation Sans", sans-serif' font-size="14" fill="#000">2.5</text>
<line x1="214.93" y1="1088.50" x2="214.93" y2="1091.00" stroke="#444" stroke-width="1"/>
<text x="205.16" y="1105.70" font-family='"Liberation Sans", sans-serif' font-size="14" fill="#000">5.0</text>
<line x1="311.15" y1="1088.50" x2="311.15" y2="1091.00" stroke="#444" stroke-width="1"/>
<text x="300.44" y="1105.70" font-family='"Liberation Sans", sans-serif' font-size="14" fill="#000">7.5</text>
<line x1="407.38" y1="1088.50" x2="407.38" y2="1091.00" stroke="#444" stroke-width="1"/>
<text x="393.48" y="1105.70" font-family='"Liberation Sans", sans-serif' font-size="14" fill="#000">10.0</text>
<line x1="104.50" y1="1079.00" x2="107.00" y2="1079.00" stroke="#444" stroke-width="1"/>
<text x="95.93" y="1084.00" font-family='"Liberation Sans", sans-serif' font-size="14" fill="#000">2</text>
<line x1="104.50" y1="1002.24" x2="107.00" y2="1002.24" stroke="#444" stroke-width="1"/>
<text x="95.65" y="1007.24" font-family='"Liberation Sans", sans-serif' font-size="14" fill="#000">4</text>
<line x1="104.50" y1="925.48" x2="107.00" y2="925.48" stroke="#444" stroke-width="1"/>
<text x="95.79" y="930.48" font-family='"Liberation Sans", sans-serif' font-size="14" fill="#000">6</text>
<line x1="104.50" y1="848.72" x2="107.00" y2="848.72" stroke="#444" stroke-width="1"/>
<text x="95.79" y="853.72" font-family='"Liberation Sans", sans-serif' font-size="14" fill="#000">8</text>
<line x1="104.50" y1="771.96" x2="107.00" y2="771.96" stroke="#444" stroke-width="1"/>
<text x="87.95" y="776.96" font-family='"Liberation Sans", sans-serif' font-size="14" fill="#000">10</text>
<text x="114.18" y="724.30" font-family='"Liberation Sans", sans-serif' font-size="22.8" fill="#000">MSE=0.147</text>
<text x="114.56" y="756.90" font-family='"Liberation Sans", sans-serif' font-size="22.8" fill="#000">COR=0.962</text>
<text x="148.45" y="1140.10" font-family='"Liberation Sans", sans-serif' font-size="28.8" fill="#000" textLength="293.80" lengthAdjust="spacingAndGlyphs">Colon Sample 1 GEP</text>
<text transform="translate(64.00,1040.70) rotate(-90)" x="-1.53" y="0" font-family='"Liberation Sans", sans-serif' font-size="32.8" fill="#000" textLength="290.46" lengthAdjust="spacingAndGlyphs">Colon Sample 2 GEP</text>
<path d="M714.2 975.5 713.0 975.8 711.8 977.3 712.2 979.3 714.0 980.3 715.0 980.0 716.2 978.3 716.0 976.5ZM774.0 886.5 773.0 887.8 773.2 889.3 775.0 891.8 777.0 891.8 778.0 890.5 777.8 888.3 776.0 886.5ZM773.2 841.8 770.8 842.3 769.5 844.5 769.8 846.0 773.2 848.3 774.2 848.0 775.8 845.8 775.0 842.8ZM820.0 840.5 818.8 840.8 817.8 842.0 818.0 843.8 819.8 844.8 820.8 844.5 822.0 843.0 821.8 841.5ZM801.8 840.0 801.5 841.5 803.2 844.0 805.8 844.3 807.5 843.3 808.0 841.0 805.8 838.5 803.5 838.5ZM813.5 832.8 812.2 833.0 811.2 834.3 811.5 836.0 813.2 837.0 814.2 836.8 815.5 835.3 815.2 833.8ZM799.2 838.3 798.2 838.0 796.2 839.0 795.5 837.3 793.8 836.3 790.8 836.5 789.2 838.0 787.8 837.3 788.8 837.0 790.0 835.3 789.8 833.8 787.8 832.5 786.2 833.0 786.5 830.8 785.5 829.5 782.5 829.5 781.0 832.0 779.5 832.3 778.8 833.0 778.5 834.5 779.5 836.0 778.5 836.3 777.2 838.0 777.5 839.5 780.0 841.0 778.2 842.5 777.8 844.5 776.8 845.8 776.8 847.3 775.0 848.3 774.5 850.3 772.5 849.8 771.0 850.0 769.8 852.3 768.5 852.3 766.8 855.0 767.8 858.0 766.0 858.3 765.2 856.8 763.5 855.8 760.8 857.3 759.5 856.8 758.5 857.0 755.8 861.3 755.0 859.8 753.2 858.8 750.5 860.3 749.5 861.5 747.8 861.0 746.0 861.3 744.8 863.0 744.8 864.0 745.8 865.3 748.2 866.3 750.2 865.0 751.2 865.8 751.0 866.8 749.5 867.8 748.0 867.0 744.8 867.5 743.0 869.5 741.5 866.8 739.5 866.8 737.8 868.8 738.2 870.5 737.8 872.0 738.0 873.5 739.8 874.5 743.2 873.0 745.8 874.0 744.8 874.5 741.8 874.5 739.5 876.8 740.0 878.8 740.8 879.5 742.5 879.5 743.5 881.3 741.5 881.5 740.2 882.8 739.0 882.5 737.8 880.3 732.5 879.5 731.5 879.8 730.2 881.3 731.0 884.3 728.0 884.3 726.8 886.8 725.0 885.0 722.5 885.0 721.5 886.3 721.0 888.3 721.2 890.0 720.8 890.5 718.5 890.5 717.5 891.5 717.2 893.3 715.8 894.8 716.5 897.3 715.8 898.0 714.2 898.0 713.2 899.3 713.2 901.0 715.0 902.5 714.8 903.3 714.2 903.5 713.2 902.3 711.2 902.3 710.0 900.8 708.0 900.8 707.0 902.0 707.2 904.0 708.0 905.0 706.2 906.8 705.0 906.8 702.8 909.3 702.5 910.8 703.5 912.0 703.0 913.5 701.5 914.5 701.0 916.3 699.8 915.8 698.5 916.0 697.2 917.5 696.8 920.3 696.2 919.8 696.5 917.8 695.2 916.0 693.0 916.0 691.5 919.0 690.2 919.5 689.2 920.8 689.2 921.8 690.2 923.0 689.8 924.5 688.0 924.8 687.0 925.8 684.8 924.5 683.0 925.5 682.8 927.3 685.0 930.8 682.8 934.5 681.0 935.5 680.5 937.3 679.2 937.3 678.0 939.0 674.8 939.0 673.8 940.8 672.8 941.0 671.8 942.3 672.0 946.5 672.8 947.3 674.2 947.3 674.8 947.8 671.8 948.3 669.8 950.8 666.2 950.5 665.2 951.8 666.0 955.3 664.5 957.5 663.0 954.5 661.0 954.3 659.0 955.5 658.2 957.0 659.0 960.8 656.8 961.0 655.5 962.5 655.8 964.8 657.2 965.5 657.5 966.3 653.5 967.8 652.5 969.0 652.2 971.3 651.2 971.5 650.2 972.5 650.0 973.8 648.2 974.8 648.0 977.0 647.0 977.3 646.0 978.5 646.2 980.5 647.5 982.0 646.0 982.5 644.2 984.3 643.5 984.3 641.0 987.8 641.0 989.0 642.0 991.0 639.8 991.3 636.2 994.0 634.8 997.3 635.5 999.5 634.0 999.8 632.5 1002.5 632.5 1003.8 633.8 1005.5 631.8 1005.8 629.8 1008.8 629.8 1010.0 628.0 1011.0 627.8 1013.0 626.8 1014.3 627.2 1016.0 627.0 1017.5 625.8 1018.5 624.2 1018.5 623.2 1019.5 621.5 1019.8 620.2 1021.3 620.2 1022.3 621.8 1024.5 622.8 1024.8 624.0 1024.3 624.5 1024.8 622.5 1026.0 621.5 1028.0 622.0 1030.8 620.2 1032.3 620.8 1034.3 620.0 1036.5 618.5 1038.0 619.0 1040.3 618.0 1041.5 617.0 1045.5 616.0 1046.8 615.5 1049.8 613.0 1052.3 613.0 1053.8 614.2 1055.8 613.2 1057.3 611.5 1058.0 610.5 1059.3 610.8 1062.0 610.0 1063.0 610.0 1064.0 610.5 1064.8 610.5 1067.0 611.2 1068.3 610.0 1069.8 610.0 1071.5 613.0 1075.0 614.0 1075.3 617.0 1074.5 618.2 1073.0 619.8 1074.0 621.8 1074.0 624.5 1070.0 625.5 1069.3 628.2 1069.3 629.5 1067.0 630.5 1068.3 631.5 1068.5 633.2 1067.8 635.0 1065.3 635.0 1063.8 634.2 1062.5 635.0 1060.8 636.2 1061.3 637.2 1061.0 638.5 1058.5 640.2 1059.3 641.2 1059.0 644.8 1055.0 648.0 1054.8 649.8 1053.5 650.0 1049.3 650.8 1047.0 649.5 1045.5 650.5 1043.8 652.2 1043.8 653.5 1042.5 654.0 1045.5 654.8 1046.3 656.8 1046.3 658.0 1044.5 658.0 1042.5 657.0 1041.3 655.5 1041.3 655.2 1040.0 655.8 1039.5 657.2 1040.3 658.2 1040.0 659.5 1038.5 659.0 1036.5 660.0 1035.8 660.8 1036.0 660.0 1038.5 661.8 1041.0 663.0 1041.3 664.8 1040.3 665.8 1036.5 664.5 1035.0 665.8 1033.8 668.5 1033.8 670.0 1031.8 669.8 1030.3 668.0 1029.3 668.0 1027.8 667.2 1026.8 670.2 1025.3 670.5 1023.8 670.0 1022.0 671.0 1021.8 673.0 1023.5 675.0 1023.5 676.5 1021.3 677.8 1020.5 679.0 1020.5 681.0 1017.8 680.8 1016.3 679.8 1015.3 678.0 1014.8 678.5 1014.0 678.0 1012.0 679.2 1012.0 679.2 1013.8 680.2 1015.0 684.0 1015.3 685.8 1014.3 685.8 1012.0 683.8 1010.3 680.8 1010.5 680.8 1009.3 682.0 1009.8 683.2 1009.3 685.0 1009.8 687.2 1011.8 688.2 1012.0 690.0 1011.0 690.2 1009.5 689.5 1008.3 691.5 1008.0 692.5 1006.8 692.5 1005.8 691.0 1004.3 692.0 1002.5 692.0 1000.8 691.0 999.5 689.2 998.8 689.0 997.3 691.5 996.8 693.0 997.5 694.2 997.3 695.8 996.0 696.0 994.5 697.0 994.3 696.8 996.3 697.8 997.5 698.8 997.8 699.8 997.5 701.5 995.0 701.0 992.8 700.2 992.0 698.5 992.0 698.0 990.5 698.8 989.3 701.0 989.3 702.2 987.8 702.2 986.5 701.2 985.3 700.2 985.0 698.0 985.8 697.5 984.0 698.2 983.3 700.0 984.3 701.8 983.5 704.2 986.3 706.5 986.3 707.8 984.8 707.2 981.8 709.0 980.8 709.2 977.5 711.2 976.3 711.2 973.5 712.8 972.5 713.0 971.5 715.2 972.5 717.2 972.0 718.5 970.3 720.5 969.3 721.0 966.8 722.2 965.8 723.0 964.3 722.2 962.0 722.8 961.8 724.5 962.8 725.5 962.5 728.0 959.5 730.0 959.5 732.5 956.8 732.8 955.3 731.5 953.8 732.0 952.8 732.0 951.5 731.2 950.5 731.5 948.0 729.0 945.8 730.8 945.0 733.8 946.0 734.8 945.8 735.8 944.0 737.5 942.8 737.8 941.3 737.2 940.5 737.8 938.8 737.2 938.0 738.0 937.5 740.0 937.5 741.0 936.3 741.2 933.8 739.8 931.5 740.5 930.8 741.2 931.0 741.2 932.0 742.2 933.3 744.8 933.3 746.5 932.3 746.5 930.0 744.8 929.0 746.0 927.5 745.5 925.3 746.5 924.5 747.8 925.0 749.0 924.8 750.8 923.0 750.8 922.0 749.8 920.8 747.5 920.8 746.8 920.3 747.8 918.3 747.8 917.3 746.8 916.0 749.0 915.8 749.5 918.0 751.2 919.0 753.0 918.0 753.8 915.5 755.8 917.3 757.8 917.3 759.0 915.8 759.0 914.5 757.0 911.8 759.2 909.8 759.8 908.3 761.8 909.0 762.8 908.8 764.5 906.5 764.2 905.0 761.0 903.0 762.0 901.5 762.0 900.5 762.5 900.0 763.2 902.0 765.2 903.3 767.5 902.3 769.2 903.3 771.2 902.0 771.5 900.3 769.5 897.8 771.5 895.8 771.0 892.8 772.0 891.5 772.0 890.3 770.8 887.8 769.0 887.8 768.5 887.3 769.2 885.8 769.2 884.8 768.5 883.8 769.5 882.8 772.5 884.8 774.8 885.0 775.8 884.8 777.8 882.5 779.8 882.8 781.5 884.8 783.0 885.3 784.8 884.3 785.2 882.8 785.0 881.0 785.8 880.0 787.8 881.3 789.0 881.0 790.0 880.0 790.0 877.3 787.8 875.8 786.8 876.0 785.2 878.0 783.8 876.5 782.8 876.3 781.0 877.3 778.2 877.0 777.0 878.8 774.2 877.5 775.2 875.5 779.8 874.5 780.8 873.3 782.5 874.3 787.8 874.8 788.8 873.5 788.8 872.3 787.8 871.0 790.5 870.8 791.8 870.3 792.8 869.0 792.8 868.0 791.5 866.5 788.0 866.3 787.0 866.5 786.0 867.8 783.5 867.5 782.0 870.5 779.8 868.3 780.8 867.0 780.8 866.0 779.5 864.5 778.5 864.3 776.8 865.3 775.5 865.3 773.2 863.5 776.0 863.3 777.0 862.0 776.8 860.8 777.5 860.0 779.2 862.8 782.5 863.3 785.8 862.0 786.8 860.8 786.5 859.0 787.5 857.8 787.5 856.8 786.0 853.8 785.2 853.0 783.2 852.5 780.8 849.5 779.8 849.3 781.2 847.0 782.0 847.3 782.0 848.5 783.0 849.8 785.2 850.0 786.0 852.8 787.5 853.5 789.0 855.8 790.2 856.0 790.8 857.8 792.8 859.0 791.5 860.5 791.8 862.0 792.8 863.0 794.8 863.0 796.0 861.5 795.5 859.8 797.5 857.8 799.0 858.0 800.8 857.0 801.2 854.8 802.8 853.5 803.5 852.0 803.5 850.3 802.5 849.0 801.5 848.8 799.2 849.5 798.8 847.0 795.8 845.3 793.8 846.5 793.2 848.5 790.2 847.0 791.8 846.0 793.0 846.0 794.2 843.8 796.2 844.8 800.0 842.8 801.0 841.5 801.0 840.5ZM728.2 953.3 729.0 954.0 726.8 957.3 725.5 957.3 725.0 956.5 726.8 955.3 727.0 953.3ZM775.5 855.3 778.2 854.3 780.2 856.5 777.5 856.3ZM807.2 828.8 806.2 828.5 805.0 829.0 803.8 828.5 802.0 829.5 802.0 831.8 801.0 833.0 801.0 834.0 802.0 835.3 804.5 835.3 807.5 833.0 808.2 830.0ZM810.5 822.8 809.5 824.0 809.8 825.8 810.5 826.5 813.5 826.8 814.5 825.5 814.2 823.5 812.5 822.5ZM806.0 822.5 804.0 822.0 801.8 823.5 801.5 825.0 802.8 826.8 805.2 826.8 806.5 825.8 807.0 823.8ZM796.0 821.0 795.0 821.3 791.8 824.3 791.5 825.8 792.5 827.0 794.5 827.0 795.8 828.5 796.8 828.8 798.5 827.8 799.5 826.3 799.5 825.3 798.5 823.8 798.5 822.0 797.8 821.3ZM832.2 817.5 831.2 817.8 829.8 819.3 829.5 821.0 830.8 822.5 832.8 823.0 834.5 822.0 834.8 820.5 834.2 818.8ZM821.5 808.5 821.5 810.8 822.8 812.0 825.5 812.0 825.5 813.8 826.5 815.0 829.0 816.0 830.8 815.0 830.8 812.5 828.8 811.3 826.5 811.5 826.5 809.8 824.8 807.8 823.2 807.5ZM842.0 804.3 838.2 804.0 836.8 805.8 837.0 807.5 839.2 809.0 841.5 808.3 843.0 806.5 843.0 805.5ZM847.5 791.8 845.8 792.8 845.5 794.3 846.8 795.8 847.8 796.0 849.5 795.0 849.8 793.3 848.8 792.0Z" fill="#FF0000" fill-rule="evenodd"/><path d="M611 1070h0m0.5 -6.5h0m0 8h0m0 -12h0m0.5 6.5h0m0 -4h0m0 5h0m0 0h0m0 11.5h0m0.5 -6h0m0 -4.5h0m0.5 8h0m0.5 -1h0m0 2.5h0m0.5 -24.5h0m0.5 -0.5h0m0.5 5h0m0 -3h0m0 0h0m0 -14h0m0 14.5h0m0.5 -4h0m0.5 22.5h0m0.5 -24.5h0m0.5 24h0m0 -25.5h0m0.5 -0.5h0m0.5 -2h0m1 -1.5h0m0 -2h0m0.5 -3.5h0m0.5 1h0m0 -6.5h0m0 45h0m0 -1h0m0 -3.5h0m1.5 4h0m0 0.5h0m0 -56h0m0 11.5h0m0 3.5h0m0 -1h0m0 0.5h0m0 37h0m0.5 5.5h0m0 -54.5h0m0.5 4.5h0m0 -7.5h0m0 50h0m0.5 -45h0m0.5 4.5h0m0 -3.5h0m0.5 48.5h0m0 9h0m0.5 -67.5h0m0 2.5h0m1.5 -6h0m1.5 56.5h0m0.5 -2.5h0m0 -52.5h0m0 -8h0m0.5 11h0m0 -1h0m0 54.5h0m0 -60h0m0.5 1.5h0m0.5 -11.5h0m0 69.5h0m1 0.5h0m0.5 -2h0m0 -2h0m0 -58h0m0 -0.5h0m0.5 59h0m0 4.5h0m0.5 -67.5h0m0 1.5h0m0.5 60h0m0.5 -62.5h0m0 57.5h0m0.5 3.5h0m0 -4.5h0m0 3.5h0m0 -65.5h0m0 66h0m0.5 -64h0m0 2.5h0m0 66.5h0m0 -75.5h0m0.5 3.5h0m0.5 8.5h0m1 -8h0m0.5 67.5h0m0 -4h0m0 1.5h0m0 -67h0m0.5 66h0m0 -3h0m0 -64.5h0m0.5 74h0m1 -3h0m0.5 -72h0m0 -17h0m0 84.5h0m0.5 4h0m0 -74.5h0m0 78h0m1 -82.5h0m0 72.5h0m0 -0.5h0m0.5 13.5h0m0 -96h0m0.5 91h0m0 -86h0m0 76h0m0 -68h0m0.5 -4h0m0.5 79.5h0m1 -89.5h0m0 16.5h0m0 64h0m0 -69.5h0m0 0h0m0 1h0m0.5 -12.5h0m0.5 8h0m1 76h0m1 -74h0m0.5 -5.5h0m0 2.5h0m0 72.5h0m0.5 -69.5h0m0 -10h0m0.5 72h0m0 -1h0m0.5 -73h0m0 79.5h0m0.5 -7h0m0 5.5h0m0 -1.5h0m0 -83h0m0 87.5h0m0 -77.5h0m0.5 71.5h0m0 -70h0m0.5 6h0m0 -0.5h0m0 -25.5h0m0.5 90.5h0m0 -76h0m0.5 84h0m0 -82.5h0m0.5 73.5h0m0 0h0m0 12.5h0m0 -94.5h0m0.5 80h0m0 -82h0m0.5 94.5h0m0.5 -91h0m0 81h0m0.5 11.5h0m0 -87h0m0.5 -12.5h0m0 11h0m0 70.5h0m0 -72h0m0.5 78.5h0m0 11.5h0m0.5 -99.5h0m0 83.5h0m0 1.5h0m0 1.5h0m0.5 -80.5h0m0 84.5h0m0.5 -85h0m0 -7h0m0.5 10h0m0 -29h0m0 107h0m0 -85h0m0 0.5h0m0.5 2.5h0m0 80.5h0m0 -2h0m0 -2.5h0m0.5 11.5h0m0 1h0m0 -90h0m0.5 -8.5h0m0 -5.5h0m0.5 107.5h0m0 -103.5h0m0 11h0m0 -2h0m0 101h0m0 -96.5h0m0.5 72.5h0m0 -74h0m0 0h0m0.5 -3.5h0m0 -2.5h0m0.5 2h0m0 -3.5h0m0 -8h0m0 89.5h0m0.5 -82.5h0m1 85.5h0m0 -97.5h0m0 19h0m0.5 78h0m0 -4h0m0.5 3h0m0 -94h0m0.5 11h0m0 -2h0m0 -8.5h0m0.5 84.5h0m0 -83h0m0.5 97h0m0 -90h0m0 83h0m0 -4h0m0.5 -83.5h0m0 1h0m0.5 89.5h0m0.5 -3.5h0m0.5 -80h0m0.5 -5.5h0m0 81h0m0 -82.5h0m0 81.5h0m0 -1h0m0 14h0m0 -92.5h0m0 1h0m0 -7.5h0m0 82.5h0m0.5 2h0m0 -84h0m0 -8.5h0m0 12.5h0m0 -2h0m0 -3.5h0m0.5 10h0m0 -10.5h0m0 -6.5h0m1 96.5h0m0 -12.5h0m0.5 1h0m0 -86h0m0 88.5h0m0 -82h0m0 88.5h0m0.5 3h0m0 -4h0m0.5 -82h0m0 76.5h0m0 -0.5h0m0.5 0.5h0m0 -93h0m0 7.5h0m0.5 87.5h0m0.5 -79h0m0 84.5h0m0 -84.5h0m0 -27h0m0.5 25.5h0m0 82h0m0 -82h0m0 3h0m0 -8.5h0m0.5 83.5h0m0 -81.5h0m0.5 6.5h0m0 78h0m0 0.5h0m0 -82.5h0m0.5 -6.5h0m0 -15.5h0m0 98.5h0m0 -85.5h0m0.5 87.5h0m0.5 4h0m0 -3h0m0.5 -3.5h0m0 -83h0m0 2h0m0.5 8.5h0m0 -10h0m0 -9h0m0.5 17h0m0 83h0m1.5 -94h0m0 -7.5h0m0 85h0m0.5 -76h0m0 -3h0m0 -26h0m0.5 111h0m0.5 -88h0m0 -1.5h0m0 19.5h0m0.5 59.5h0m0 7.5h0m0 9h0m0 -87h0m0 79h0m0 -6.5h0m0.5 0.5h0m0 0h0m0 -73h0m0 75h0m0 -78h0m0.5 -14h0m0 103.5h0m0.5 -0.5h0m0 -95.5h0m0 6.5h0m0 -8h0m0.5 -12h0m0 0h0m0 16.5h0m0 4h0m0.5 72.5h0m0 -81.5h0m0 0h0m0.5 -6.5h0m0 10h0m0 83.5h0m0 -2.5h0m0 -80h0m0.5 -18h0m0.5 13.5h0m0.5 103.5h0m0 -18.5h0m0 -75h0m0 -2.5h0m0 86h0m0.5 -6.5h0m0 -89h0m0 8.5h0m0 75h0m0 -81h0m0.5 86h0m0 -84h0m0.5 83.5h0m0.5 -90.5h0m0 9.5h0m0.5 2.5h0m0.5 71h0m0 -91.5h0m0.5 97.5h0m0.5 -1h0m0 -12h0m0 -69h0m0 0h0m0 7.5h0m1 -11h0m0 84.5h0m0.5 -89h0m0.5 83h0m0 -83.5h0m0 0h0m0.5 13.5h0m0 69.5h0m0 -8h0m0 8.5h0m0 5.5h0m0 -8h0m0.5 -94.5h0m0 99.5h0m0 -77.5h0m0 86.5h0m0.5 -16h0m0 -76.5h0m0 -11.5h0m0.5 94.5h0m0 -7h0m0.5 -0.5h0m0.5 -86h0m0 6.5h0m0 76.5h0m0 -79h0m0.5 -1.5h0m0.5 85h0m0.5 3.5h0m0 -8.5h0m0 4.5h0m0 -5h0m0.5 -77.5h0m0 87h0m0 -84h0m0 0h0m0 -2h0m0.5 -15.5h0m0 119.5h0m0.5 -22.5h0m0 -15.5h0m0.5 -76h0m0 84.5h0m0 -7h0m0 0h0m0.5 -63h0m0 -22.5h0m0 90h0m0 -1h0m0 6.5h0m0.5 2.5h0m0.5 3.5h0m0 -6h0m0 -75.5h0m0 -24.5h0m0 16.5h0m0.5 6h0m0 -1h0m0.5 96h0m0 -105h0m0 94.5h0m0 0h0m0 -2h0m0.5 -85.5h0m0 81h0m0.5 -4h0m0 -8.5h0m0 7h0m0 -0.5h0m0 -68.5h0m0 -8h0m0 72.5h0m0 -2.5h0m0 -72h0m0 76.5h0m0 -79.5h0m0.5 77h0m0 13h0m0 -75h0m0.5 75.5h0m0 -104.5h0m0 12.5h0m0 91h0m0.5 -88h0m0 97h0m0 -13h0m0 -86h0m0 -6.5h0m0.5 8.5h0m0 -8h0m0 120h0m0 -107.5h0m0 92.5h0m0.5 -20h0m0 -85h0m0.5 2h0m0.5 79h0m0 -74h0m0.5 0.5h0m0 -4h0m0 7h0m0.5 -8h0m0 -20h0m0 103h0m0 -83h0m0 82h0m0 -1.5h0m0.5 -78.5h0m0 -5h0m0 6h0m0.5 84.5h0m0.5 -1h0m0 -9.5h0m0.5 -82.5h0m0 -7h0m0 92.5h0m0 -94.5h0m0.5 94h0m0.5 -85.5h0m0.5 8h0m0 73.5h0m0 -1h0m0 -77.5h0m0 76.5h0m0.5 11h0m0 -86h0m0.5 2h0m0 -1h0m0.5 -14h0m0 97.5h0m0.5 -85.5h0m0 73.5h0m0 -91h0m0 98.5h0m0 -87h0m0 4.5h0m0.5 73.5h0m0 2h0m0 10.5h0m0 -90h0m0.5 -18.5h0m0 6h0m0 96h0m0 -3h0m1 -5.5h0m0 -84.5h0m0 2h0m0.5 112h0m0 -13.5h0m0 -85h0m0 -9.5h0m0.5 81h0m0 3.5h0m0.5 -86.5h0m0 6h0m0 -32.5h0m0 115h0m0 -81.5h0m0.5 78.5h0m0 -92h0m0 97.5h0m0 -85.5h0m0 83h0m0 -135.5h0m0.5 131h0m0 -74.5h0m0 78.5h0m0 -80.5h0m0 -4h0m0.5 77h0m0 -81.5h0m0 85.5h0m0.5 -94h0m0.5 12.5h0m0 0.5h0m0.5 -10.5h0m0 18.5h0m0 57.5h0m0 -69.5h0m0 80h0m0 -90.5h0m0.5 7.5h0m0 0.5h0m0 7h0m0.5 82.5h0m0 -81h0m1 -4.5h0m0 1.5h0m0.5 -10h0m0 -2.5h0m0 87.5h0m0.5 -6h0m0 6h0m0 -113.5h0m0 36h0m0 76.5h0m0.5 -79.5h0m0 -9h0m0.5 94.5h0m0 5.5h0m0.5 9.5h0m0 -23.5h0m0 -82h0m0 78h0m0.5 -75.5h0m0 -8h0m0 86h0m0.5 -80h0m0 7.5h0m0 109.5h0m0.5 -114.5h0m0 3h0m0 -1.5h0m0.5 15.5h0m0.5 -34.5h0m0 11.5h0m0 22h0m0 -21.5h0m0.5 83h0m0 4h0m0.5 -4h0m0 -2.5h0m0 -75.5h0m0 80.5h0m0.5 -90.5h0m0 3h0m0 86.5h0m0 -4h0m0.5 -65h0m0 0h0m0 57.5h0m0 12h0m0 -85.5h0m0 72.5h0m0 -14h0m0.5 0.5h0m0.5 -72h0m0 0h0m0 92h0m0 -75.5h0m0 -2h0m0 12.5h0m0.5 0h0m0 -11h0m0 19h0m0 1h0m0 55.5h0m0 -1h0m0 -82.5h0m0 1h0m0 4h0m0.5 85.5h0m0 -91.5h0m0 83.5h0m0.5 -12h0m0 -77h0m0 16.5h0m0.5 -18.5h0m0 17.5h0m0 62.5h0m0.5 -62h0m0 71.5h0m0 -24h0m0 5.5h0m0 0.5h0m0 -50h0m0.5 -3h0m0 10.5h0m0 63.5h0m0 -5h0m0.5 -10.5h0m0 -65h0m0 71h0m0 9h0m0.5 -5.5h0m0 12h0m0.5 6.5h0m0 -15.5h0m0 -99.5h0m0 15h0m0 10h0m0 70h0m0.5 -4h0m0 -63.5h0m0.5 71h0m0 -71h0m0 -15h0m0 99h0m0.5 -32.5h0m0 -55.5h0m0 -4h0m0 68h0m0 -57.5h0m0 -15h0m0.5 2h0m0 77.5h0m0 -16.5h0m0 16.5h0m0 -14h0m0 -50h0m1 63.5h0m0 -74.5h0m0 11.5h0m0 -10h0m0.5 -11.5h0m0 88h0m0 -70h0m0 60.5h0m0 -67.5h0m0.5 3.5h0m0 -2.5h0m0.5 77h0m1 -18.5h0m0 -50h0m0 52.5h0m0 -2h0m0.5 4.5h0m0 -73h0m0.5 9.5h0m0 -17h0m0 19.5h0m0.5 0h0m0 -1h0m0.5 -2h0m0.5 -0.5h0m0 -0.5h0m0 56h0m0 -60.5h0m0 64h0m0 -11h0m0 -62.5h0m0 21h0m0.5 -8.5h0m0 1h0m0 -6h0m0 75h0m0 -10h0m0 -67.5h0m0.5 5.5h0m0 -69.5h0m0 72.5h0m1 3h0m0 62h0m0.5 -78h0m0 79.5h0m0 -6h0m0 74h0m0 -143h0m0 -5.5h0m0 87.5h0m0.5 -16.5h0m0 -67h0m0 -4.5h0m0 -20.5h0m0 31h0m0 10.5h0m0 74.5h0m0.5 -82h0m0 50h0m0 -43h0m0 55h0m0 -7h0m0 20.5h0m0 -25.5h0m0 7h0m1 -43.5h0m0.5 -8.5h0m0 60.5h0m0.5 1h0m0 -17.5h0m0 7.5h0m0 -5h0m0 -11.5h0m0 -48h0m0 81h0m0.5 -76h0m0 -21.5h0m0 76.5h0m0 -58.5h0m0.5 61.5h0m0 -2.5h0m0 -7.5h0m0 0h0m0 -56.5h0m0 0h0m0.5 71h0m0 0h0m0.5 -73.5h0m0 70.5h0m0 -14h0m0.5 14h0m0 -41.5h0m0 -16h0m0 -12.5h0m0 26.5h0m0 29.5h0m0.5 -28.5h0m0 -21h0m0 3h0m0 43.5h0m0 -83h0m0.5 104.5h0m0 -10.5h0m0 6h0m0 -67.5h0m0 60h0m0 -57.5h0m0 62h0m0 12.5h0m0.5 -79h0m0 72.5h0m0 -17h0m0 -65.5h0m0 77.5h0m0 -65.5h0m0 55h0m0 -54.5h0m0.5 1h0m0 8.5h0m0 47.5h0m0 8h0m0 -11.5h0m0.5 12.5h0m0 -8h0m0.5 -67h0m0 -12h0m0 87h0m0.5 -60h0m0 45.5h0m0.5 -43h0m0 62.5h0m0 -5.5h0m0 -59h0m0 -10h0m0 69h0m0.5 7.5h0m0.5 -66h0m0 55h0m0 -62h0m0 -21.5h0m0 72h0m0.5 19.5h0m0 -15.5h0m0 -1.5h0m0 -51.5h0m0 67.5h0m0 -69h0m0 17.5h0m0 31h0m0 -55h0m0 1.5h0m0.5 -1.5h0m0 1.5h0m0 0h0m0 62h0m1 -61.5h0m0 -4h0m0.5 68h0m0 1h0m0.5 5h0m0 -52h0m0 -5.5h0m0 42h0m0 -58h0m0.5 0h0m0 8h0m0 47.5h0m0.5 5.5h0m0 -6.5h0m0 -29h0m0 28.5h0m0 -56.5h0m0 61.5h0m0.5 -37.5h0m0 -12h0m0 46.5h0m0.5 -109.5h0m0 118.5h0m0 -5h0m0 17.5h0m0 -73.5h0m0 19.5h0m0.5 -19h0m0 19h0m0 40.5h0m0 -6.5h0m0 -65.5h0m1 7h0m0 53h0m0 -50.5h0m0.5 64h0m0 -65h0m0 58h0m0 13h0m0.5 -16.5h0m0 -60.5h0m0 70.5h0m0 39h0m0 -102.5h0m0.5 56h0m0 -50h0m0 -17h0m0.5 20h0m0 -16.5h0m0 95.5h0m0 -29.5h0m0.5 -15.5h0m0 -70h0m0 73h0m0 -62h0m0.5 9h0m0.5 50.5h0m0 -57.5h0m0 6h0m0 61.5h0m0.5 -4h0m0 -58.5h0m0 72h0m0 -9h0m0.5 8h0m0 -73.5h0m0 29h0m0 30.5h0m0 8.5h0m0.5 -58h0m0 -15.5h0m0 9.5h0m0 4.5h0m0 37h0m0.5 -35.5h0m0 -9h0m0 53h0m0.5 -59h0m0.5 1.5h0m0 59h0m0 7h0m0 0.5h0m0 -54.5h0m0 48.5h0m0 12h0m0 -12.5h0m0.5 -47.5h0m0 55h0m0 -55.5h0m0 -5h0m0 5h0m0.5 1h0m0 -27h0m0 5h0m0.5 56.5h0m0 -40h0m0 4.5h0m0 58.5h0m0 -74h0m0 35.5h0m0.5 -42h0m0 12h0m0 68h0m0.5 -29.5h0m0 -31.5h0m0 -2.5h0m0 36h0m0 -30.5h0m0.5 57h0m0 -53.5h0m0 46h0m0 -68.5h0m0 48.5h0m0 19h0m0 3h0m0 -56h0m0 31.5h0m0.5 -42.5h0m0 5.5h0m0 0.5h0m0 -20h0m0.5 27.5h0m0 44.5h0m0 1.5h0m0 -41.5h0m0.5 1h0m0 -11.5h0m0 45h0m0 0.5h0m0 -76.5h0m0.5 66h0m0 -42.5h0m0 -2h0m0 8h0m0 56h0m0.5 -6h0m0 -53.5h0m0 47.5h0m0 -1.5h0m0.5 -45h0m0 39h0m0 13h0m0.5 -44h0m0 -2h0m0 50.5h0m0.5 9.5h0m0 -46.5h0m0.5 28.5h0m0.5 5h0m0 -48.5h0m0 -9h0m0 39h0m0 14h0m0 13h0m0 -20.5h0m0.5 11h0m0 0.5h0m0 -53.5h0m0 9h0m0 -4h0m0.5 29h0m0 12h0m0 -47.5h0m0 3h0m0 51h0m0 1.5h0m0 -54.5h0m0 0.5h0m0.5 -9h0m0 12h0m0 76.5h0m0.5 -35h0m0 -24.5h0m0 24.5h0m0 1h0m0 2.5h0m0.5 -42h0m0 31h0m0 3.5h0m0 11.5h0m0 -45.5h0m0.5 36h0m0 -28h0m0 42h0m0 -57.5h0m0 21h0m0.5 -33h0m0 73.5h0m0 -14h0m0 12.5h0m0.5 -62.5h0m0 46.5h0m0 -32h0m0 -34.5h0m0.5 74h0m0 -43.5h0m0 -10.5h0m0.5 60.5h0m0 -15h0m0 -8.5h0m0 9.5h0m0 -39.5h0m0 0.5h0m0 48.5h0m0 -18h0m0 14h0m0 -55.5h0m0.5 3.5h0m0 40h0m0 -14h0m0 -30h0m0 51.5h0m0 -62.5h0m0 41.5h0m0.5 -45.5h0m0 37h0m0 8.5h0m0 12h0m0 -33h0m0 0h0m0 18h0m0 19h0m0 4h0m0 -8h0m0 -39.5h0m0 -20h0m0 42h0m0.5 13.5h0m0 5h0m0 -35.5h0m0 4.5h0m0 48.5h0m0 -26.5h0m0 -15h0m0 -7h0m0.5 51.5h0m0 -65.5h0m0 17.5h0m0.5 36h0m0 -36.5h0m0 -10h0m0 48h0m0.5 2.5h0m0 -24h0m0 36.5h0m0.5 2h0m0 -69h0m0 54.5h0m0 -35.5h0m0 27.5h0m0 -8h0m0 -45.5h0m0 23h0m0.5 20.5h0m0.5 -24h0m0 35h0m0 -6.5h0m0 -13h0m0 -32.5h0m0.5 30.5h0m0 3.5h0m0 -18.5h0m0 20.5h0m0.5 2.5h0m0 -71.5h0m0 26h0m0 53h0m0 -8.5h0m0.5 14.5h0m0 -18.5h0m0 16.5h0m0 5h0m0.5 -38h0m0 30.5h0m0 -6h0m0 -46h0m0 5h0m0.5 22h0m0 -0.5h0m0 15h0m0 -9.5h0m0 -3.5h0m0 -58h0m0 32h0m0.5 18h0m0 -17h0m0 18h0m0 -25.5h0m0 29.5h0m0.5 33h0m0 -25.5h0m0 -35h0m0 12.5h0m0 -24h0m0 43.5h0m0.5 21.5h0m0 -17.5h0m0 10h0m0 -21.5h0m0 14h0m0 -12h0m0.5 -36.5h0m0 58.5h0m0 11.5h0m0 -9h0m0 -16h0m0.5 7.5h0m0 12h0m0 13.5h0m0 -18h0m0 -9h0m0 -37.5h0m0 5h0m0.5 23.5h0m0 15h0m0 3.5h0m0 -15.5h0m0 -21.5h0m0 10h0m0.5 -18h0m0 27.5h0m0 1h0m0 -23.5h0m0 8.5h0m0 37.5h0m0 -54.5h0m0 31.5h0m0 -32.5h0m0.5 8h0m0 -9.5h0m0 53h0m0 1.5h0m0 -56.5h0m0 38.5h0m0 -8h0m0.5 1.5h0m0 15h0m0 -8h0m0.5 -20h0m0.5 4.5h0m0 -24.5h0m0 53.5h0m0 -54h0m0.5 17h0m0 29h0m0.5 -9.5h0m0 -28.5h0m0 56.5h0m0 -58.5h0m0 0h0m0 10.5h0m0.5 -8.5h0m0 39.5h0m0 16h0m0 -58h0m0 29.5h0m0 -19h0m0 -3.5h0m0.5 27h0m0 -10h0m0 13.5h0m0 -45h0m0 25h0m0 16h0m0.5 -36h0m0 24h0m0 -3h0m0 19.5h0m0 7.5h0m0 -9h0m0.5 -44h0m0 12h0m0 -5h0m0 3.5h0m0 43.5h0m0 -11h0m0.5 -39h0m0 11.5h0m0 -0.5h0m0 3h0m0 -5h0m0 0h0m0.5 -1h0m0 7h0m0 -9.5h0m0 19h0m0 11.5h0m0 2h0m0 -13.5h0m0.5 20h0m0 -9.5h0m0 -39h0m0 26h0m0.5 -32.5h0m0 8h0m0 30h0m0.5 -6h0m0 22.5h0m0 -40.5h0m0 30.5h0m0 -38.5h0m0 30.5h0m0 -16.5h0m0 38h0m0 -34.5h0m0.5 33h0m0 -64.5h0m0 38.5h0m0.5 -16.5h0m0 8.5h0m0.5 47h0m0 -54.5h0m0 4.5h0m0 -7.5h0m0.5 -2.5h0m0 25h0m0 -8.5h0m0.5 3.5h0m0 7.5h0m0 10h0m0 -45.5h0m0 25h0m0 12.5h0m0.5 -49h0m0 9.5h0m0.5 44.5h0m0 -26.5h0m0 29.5h0m0 25.5h0m0 -59.5h0m0.5 30.5h0m0 -1.5h0m0 -14h0m0 3.5h0m0 -15h0m0.5 27.5h0m0 20.5h0m0 -41.5h0m0 25h0m0 10h0m0 -57.5h0m0 8.5h0m0 46.5h0m0 -27h0m0.5 0h0m0 33.5h0m0 -37.5h0m0 12.5h0m0 -13.5h0m0 0h0m0 23h0m0 -40.5h0m0.5 43.5h0m0 -16h0m0 6.5h0m0 -46.5h0m0 34.5h0m0.5 -5.5h0m0 1h0m0 -8h0m0.5 23h0m0 -4h0m0 -14h0m0 7.5h0m0 0h0m0 -12h0m0 -4.5h0m0 2h0m0 22h0m0 1h0m0.5 -5h0m0 -56.5h0m0 29.5h0m0 41.5h0m0 -28h0m0 32.5h0m0 -66h0m0.5 46h0m0 -13.5h0m0 13.5h0m0 -14.5h0m0 1h0m0.5 -7h0m0 -6.5h0m0 22h0m0 -15h0m0.5 10.5h0m0 24h0m0 -37.5h0m0 -4.5h0m0 37.5h0m0.5 -5.5h0m0 21.5h0m0 -31.5h0m0.5 -26.5h0m0 3h0m0 24h0m0.5 -14.5h0m0.5 2.5h0m0 6h0m0 -3h0m0.5 11.5h0m0 -24.5h0m0 13h0m0 -17h0m0 33.5h0m0 -10h0m0 8h0m0 -9h0m0.5 -15.5h0m0 25.5h0m0 1.5h0m0 -24h0m0 8h0m0.5 -14.5h0m0 18.5h0m0 29.5h0m0 -3.5h0m0.5 -53.5h0m0.5 51.5h0m0.5 -38h0m0 10h0m0 15h0m0 6h0m0 -28.5h0m0 3h0m0.5 17h0m0 22.5h0m0.5 -11.5h0m0 -47.5h0m0 14h0m0 4.5h0m0 -21.5h0m0 40h0m0.5 -47.5h0m0 16.5h0m0 35h0m0 -1h0m0.5 -35h0m0 -11h0m0 41h0m0 -38h0m0.5 5.5h0m0 23h0m0 -8h0m0 -35h0m0 24h0m0 24.5h0m0 -2.5h0m0.5 -4h0m0 0h0m0 9.5h0m0 7.5h0m0 12h0m0 -52h0m0.5 5.5h0m0 13h0m0 108.5h0m0.5 -109h0m0 -6h0m0 4h0m0 10h0m0 -7h0m0 13h0m0.5 -30.5h0m0 35h0m0 -37h0m0 32h0m0 -22.5h0m0 -4h0m0 8.5h0m1 0.5h0m0 46h0m0 -20.5h0m0 -0.5h0m0 -12h0m0 -4h0m0 -3h0m0 -9h0m0.5 -8.5h0m0 25.5h0m0 -21.5h0m0 40.5h0m0.5 -41.5h0m0 -12.5h0m0 3.5h0m0 44.5h0m0.5 -12h0m0 -23h0m0 32.5h0m0 -48.5h0m0 11.5h0m0.5 10h0m0 7h0m0 3h0m0 12h0m1 0.5h0m0 -33.5h0m0.5 -3.5h0m0 7h0m0 18.5h0m0 -14.5h0m0.5 10h0m0 7h0m0 -11h0m0.5 7.5h0m0 14h0m0 -50h0m0 51h0m0 -20h0m0 13.5h0m0.5 -33h0m0 16.5h0m0 20h0m0.5 -17h0m0 -5h0m0 0h0m0 -8h0m0 12.5h0m0 5h0m0.5 -6h0m0 -4.5h0m0 9.5h0m0 2.5h0m0.5 -15.5h0m0 17h0m0 -53h0m0 36h0m0.5 -17.5h0m0 45.5h0m0 -38h0m0 5h0m0 13.5h0m1 -27h0m0 -0.5h0m0 13h0m0 22.5h0m0.5 2.5h0m0 -65h0m0 48.5h0m0 22.5h0m0 -40h0m0 32.5h0m0 -21h0m0 11h0m0 12.5h0m0.5 -41.5h0m0 33h0m0 -34h0m0 16h0m0.5 -6.5h0m0 4h0m0 26h0m0.5 -21h0m0.5 14.5h0m0 -2h0m0 -27.5h0m0.5 18h0m0.5 -19.5h0m0 15.5h0m0 0.5h0m0.5 2h0m0 11h0m0 11.5h0m0.5 -17h0m0 14h0m0 -23h0m0 25h0m0.5 10h0m0 -47.5h0m0 3h0m0.5 37.5h0m0 -28h0m0.5 14h0m0 3.5h0m0 -19h0m0 8h0m0.5 -15h0m0 12h0m0 -12h0m0 -10h0m0.5 23.5h0m0 1.5h0m0.5 4.5h0m0 -50.5h0m0 26.5h0m0 3h0m0 47.5h0m0.5 -52.5h0m0 27.5h0m0.5 -4.5h0m0 13h0m0 -4h0m0 -4.5h0m0.5 3.5h0m0 -17h0m0 -20h0m0 53.5h0m0.5 -24.5h0m0.5 0.5h0m0 -22.5h0m0.5 24.5h0m0 -7h0m0 -13h0m0 22h0m0 0.5h0m0 -15h0m0 -1.5h0m0.5 21.5h0m0.5 -18.5h0m0 -13.5h0m0 18.5h0m0.5 3.5h0m0 17.5h0m1 -20.5h0m0.5 -2.5h0m0 -38.5h0m0 55h0m0 -16.5h0m0.5 -5h0m0 13h0m0.5 -21h0m0 12h0m0 -8h0m0.5 22h0m0 6.5h0m0.5 -36h0m0 -15.5h0m0 28.5h0m0 -3.5h0m0.5 -16.5h0m0 5h0m0 8h0m0 7h0m0 -22h0m0.5 19.5h0m0 5h0m0.5 -36.5h0m0 25h0m0 13.5h0m0 3h0m1 -54h0m0 39h0m0 36.5h0m0 -26.5h0m0.5 -3.5h0m0 -11h0m0 39.5h0m0.5 -47.5h0m0 28.5h0m0 -11.5h0m0 -3h0m0.5 4h0m1 -15.5h0m0 -10.5h0m0 -1.5h0m0 0.5h0m0.5 33.5h0m0 -35.5h0m0 41.5h0m0.5 -17.5h0m0.5 -32.5h0m0 46h0m0 -5.5h0m0.5 -9h0m0.5 -16.5h0m0 -2.5h0m0 12.5h0m0 5.5h0m0 -22h0m1 10h0m0 14.5h0m0 -8.5h0m0.5 1.5h0m0 10h0m0.5 -2.5h0m0.5 -7h0m0 -1.5h0m0.5 -22h0m0.5 28h0m0 24h0m0 -33.5h0m0.5 6h0m0 -24.5h0m0 36.5h0m0.5 7.5h0m1 -43.5h0m0.5 29.5h0m0 -9h0m0.5 10h0m0 -2.5h0m0 20.5h0m0.5 -33.5h0m0 -11.5h0m0.5 9h0m0 -31h0m0 28.5h0m0.5 -7h0m0 10.5h0m0 -0.5h0m0 22h0m0.5 -22h0m0.5 -13.5h0m0.5 2h0m0.5 17h0m0.5 -41h0m0 45.5h0m0.5 -29h0m0 12h0m0.5 24h0m0.5 -3h0m1.5 -3h0m0 -15h0m0.5 4h0m0 -14.5h0m0 11h0m0.5 0.5h0m0.5 -15h0m2 -14.5h0m1.5 26.5h0m0.5 -13h0m0.5 22.5h0m0.5 13.5h0m0.5 -10.5h0m0.5 -14.5h0m0 -3h0m1 -1h0m1 -10h0m0 -16.5h0m0 26h0m1.5 -7.5h0m0.5 4.5h0m0 37.5h0m1 -36.5h0m0 -9.5h0m0.5 37h0m0.5 -27.5h0m0 20.5h0m0.5 -7.5h0m0 -15.5h0m1.5 -11.5h0m1 2.5h0m1.5 -3h0m0 -5.5h0m0 13.5h0m1 6h0m0.5 -25.5h0m0.5 27.5h0m0 -23h0m1 28.5h0m1 0.5h0m0 -44.5h0m2 27h0m1.5 15h0m1.5 -10.5h0m1.5 -14.5h0m0 29h0m1 -5h0m0 -11.5h0m0.5 -24.5h0m1 -28h0m0.5 64h0m0 -53h0m0 24h0m2 23h0m3 -26h0m2.5 -11h0m0 8.5h0m0.5 5h0m1.5 26h0m2 -45.5h0m0.5 9h0m1.5 8h0m0.5 -19h0m1.5 17h0m2 -15.5h0m1.5 5.5h0m4 -6.5h0m4 4.5h0m2.5 14h0m2 -36.5h0m0.5 10h0m4 12h0m1.5 -1.5h0m2 -10.5h0m3.5 -2h0" stroke="#FF0000" stroke-width="3.1" stroke-linecap="round" fill="none"/>
<line x1="597.31" y1="1088.50" x2="921.03" y2="702.00" stroke="#000" stroke-width="1.1"/>
<rect x="593.20" y="702.00" width="372.00" height="386.50" fill="none" stroke="#707070" stroke-width="1.4"/>
<line x1="684.00" y1="1089.20" x2="684.00" y2="1091.70" stroke="#444" stroke-width="1"/>
<text x="680.12" y="1106.40" font-family='"Liberation Sans", sans-serif' font-size="14" fill="#000">5</text>
<line x1="829.40" y1="1089.20" x2="829.40" y2="1091.70" stroke="#444" stroke-width="1"/>
<text x="821.35" y="1106.40" font-family='"Liberation Sans", sans-serif' font-size="14" fill="#000">10</text>
<line x1="590.00" y1="1071.80" x2="592.50" y2="1071.80" stroke="#444" stroke-width="1"/>
<text x="569.60" y="1076.80" font-family='"Liberation Sans", sans-serif' font-size="14" fill="#000">2.5</text>
<line x1="590.00" y1="985.00" x2="592.50" y2="985.00" stroke="#444" stroke-width="1"/>
<text x="569.53" y="990.00" font-family='"Liberation Sans", sans-serif' font-size="14" fill="#000">5.0</text>
<line x1="590.00" y1="898.20" x2="592.50" y2="898.20" stroke="#444" stroke-width="1"/>
<text x="569.60" y="903.20" font-family='"Liberation Sans", sans-serif' font-size="14" fill="#000">7.5</text>
<line x1="590.00" y1="811.40" x2="592.50" y2="811.40" stroke="#444" stroke-width="1"/>
<text x="561.76" y="816.40" font-family='"Liberation Sans", sans-serif' font-size="14" fill="#000">10.0</text>
<line x1="590.00" y1="724.60" x2="592.50" y2="724.60" stroke="#444" stroke-width="1"/>
<text x="561.83" y="729.60" font-family='"Liberation Sans", sans-serif' font-size="14" fill="#000">12.5</text>
<text x="597.38" y="728.30" font-family='"Liberation Sans", sans-serif' font-size="22.8" fill="#000">MSE=0.242</text>
<text x="597.76" y="760.90" font-family='"Liberation Sans", sans-serif' font-size="22.8" fill="#000">COR=0.948</text>
<text x="612.51" y="1141.10" font-family='"Liberation Sans", sans-serif' font-size="28.8" fill="#000" textLength="316.01" lengthAdjust="spacingAndGlyphs">Neuron Sample 1 GEP</text>
<text transform="translate(541.00,1053.00) rotate(-90)" x="-2.46" y="0" font-family='"Liberation Sans", sans-serif' font-size="32.8" fill="#000" textLength="313.07" lengthAdjust="spacingAndGlyphs">Neuron Sample 2 GEP</text>
<path d="M1276.5 892.5 1274.8 893.5 1274.5 895.2 1275.8 897.0 1277.0 897.2 1279.0 896.0 1279.3 894.2 1278.3 893.0ZM1234.8 885.8 1232.8 885.8 1231.0 887.2 1230.8 888.8 1232.0 890.2 1233.3 890.5 1235.0 889.5 1235.8 887.0ZM1245.0 877.5 1243.8 879.5 1244.0 881.0 1245.3 882.2 1248.0 882.2 1249.5 879.8 1249.3 878.2 1247.5 877.2ZM1350.0 807.2 1349.3 806.5 1347.5 806.5 1346.8 805.8 1345.3 805.5 1343.8 806.0 1342.5 807.5 1341.5 807.2 1339.5 808.5 1337.5 808.5 1336.0 810.5 1333.8 809.2 1332.0 809.8 1330.8 811.0 1329.8 813.5 1328.5 814.5 1328.3 816.0 1328.8 817.0 1327.5 818.5 1327.5 819.8 1329.5 822.2 1329.5 823.2 1329.0 823.2 1328.0 821.5 1327.3 821.5 1326.3 820.5 1325.0 820.2 1323.3 821.2 1321.5 820.2 1320.0 820.8 1319.0 822.0 1319.0 823.2 1320.0 824.5 1322.0 824.5 1322.8 823.8 1323.3 824.2 1321.5 828.0 1319.5 826.8 1318.5 827.0 1316.0 829.2 1314.8 829.0 1313.3 829.8 1311.8 827.8 1309.3 828.0 1307.5 830.2 1308.3 833.5 1307.5 834.0 1305.0 834.0 1304.0 835.2 1304.5 837.0 1302.5 837.2 1301.0 840.0 1299.3 840.0 1298.3 841.2 1298.0 843.0 1297.3 843.5 1295.8 843.0 1294.0 844.0 1293.3 848.2 1291.8 849.0 1290.8 850.2 1291.0 852.0 1292.0 853.2 1293.0 853.5 1292.8 854.2 1292.0 854.2 1291.0 853.2 1289.5 853.2 1288.0 852.5 1287.0 852.8 1285.8 850.2 1283.5 850.2 1282.3 851.8 1282.3 855.5 1283.3 857.0 1281.8 858.0 1281.5 859.2 1280.5 860.2 1278.0 859.2 1276.0 859.8 1274.5 862.5 1271.8 862.8 1270.5 865.0 1269.0 865.2 1266.8 863.0 1264.8 863.0 1263.8 864.2 1263.8 866.2 1265.0 867.8 1266.0 868.0 1262.5 869.2 1261.5 870.5 1261.5 872.5 1259.8 873.2 1258.5 875.5 1257.8 875.2 1256.8 873.2 1253.3 873.0 1251.5 874.0 1251.3 875.5 1252.0 876.5 1252.0 877.5 1253.0 879.5 1254.8 880.5 1252.5 882.2 1252.3 884.8 1250.8 884.5 1249.5 883.0 1248.5 882.8 1246.5 883.5 1245.0 882.8 1243.5 883.0 1242.5 884.2 1243.5 887.5 1243.0 888.0 1242.0 887.0 1240.5 886.8 1239.5 887.0 1237.5 889.0 1237.5 890.0 1238.5 891.2 1240.8 892.0 1242.5 891.5 1242.5 892.8 1241.8 893.5 1239.5 893.5 1238.0 895.0 1237.3 894.8 1235.8 892.8 1232.5 892.5 1231.3 893.8 1230.0 893.8 1226.0 899.8 1224.3 896.8 1221.3 896.8 1220.3 898.0 1221.3 901.5 1218.8 900.8 1216.8 901.0 1215.8 902.2 1215.8 903.2 1216.8 904.5 1219.3 905.2 1220.5 905.0 1221.5 903.8 1222.5 906.8 1220.3 905.8 1218.5 906.5 1216.0 904.8 1214.0 904.8 1213.0 906.0 1213.0 907.0 1214.0 908.2 1213.8 909.5 1211.5 909.8 1210.5 910.8 1209.3 910.8 1208.3 912.0 1208.5 915.0 1209.3 915.8 1210.5 915.8 1211.0 917.2 1208.8 916.5 1207.5 916.8 1207.0 916.2 1207.3 915.0 1206.3 913.8 1203.3 913.5 1200.8 916.5 1200.8 918.0 1201.8 919.8 1198.3 920.0 1197.3 921.2 1196.3 924.2 1193.3 923.5 1191.5 924.5 1190.5 926.5 1190.5 928.0 1191.5 929.2 1193.3 929.2 1193.8 930.2 1192.3 931.2 1191.8 932.8 1191.3 932.5 1191.5 931.0 1190.5 929.8 1188.8 929.0 1187.8 929.2 1186.8 930.5 1186.8 931.8 1188.8 933.5 1187.8 933.8 1185.5 935.8 1184.8 938.0 1181.3 938.2 1179.5 940.5 1178.0 941.2 1176.0 944.5 1174.5 944.0 1172.8 945.0 1171.5 947.8 1171.8 950.2 1171.0 952.2 1170.5 952.2 1168.8 950.0 1166.8 950.0 1166.0 950.8 1164.3 951.0 1162.8 952.2 1162.5 953.8 1163.0 954.5 1162.3 956.2 1158.3 956.0 1157.0 957.5 1157.3 959.0 1158.5 960.2 1157.5 961.5 1158.0 963.5 1157.0 964.5 1156.8 965.8 1154.3 966.0 1153.0 967.2 1152.5 968.8 1151.0 968.8 1150.3 969.5 1149.5 971.2 1147.3 971.2 1146.0 973.0 1144.8 973.0 1144.0 973.8 1143.8 975.2 1145.3 977.2 1145.0 977.8 1143.3 977.8 1142.0 979.0 1139.3 977.8 1137.3 978.2 1136.0 980.0 1136.5 982.5 1135.8 983.0 1134.8 982.0 1133.5 981.8 1131.3 983.2 1131.0 984.8 1131.8 985.8 1131.3 987.2 1129.3 987.2 1128.3 988.2 1125.3 988.2 1124.3 989.5 1124.8 991.5 1124.3 995.2 1124.8 996.0 1123.8 996.5 1122.0 995.0 1120.0 995.0 1119.0 996.2 1119.0 998.2 1117.5 998.5 1116.5 999.8 1116.3 1003.8 1115.3 1005.8 1113.0 1004.8 1111.0 1005.0 1110.3 1005.8 1110.3 1007.5 1107.8 1012.5 1108.0 1014.0 1105.8 1015.5 1105.3 1017.2 1104.0 1017.2 1103.3 1018.0 1103.0 1019.8 1102.0 1020.2 1100.3 1019.5 1098.8 1020.2 1097.3 1020.2 1095.8 1022.0 1095.5 1023.5 1097.5 1025.5 1095.3 1026.5 1093.8 1026.0 1091.5 1026.2 1090.5 1027.2 1090.3 1028.8 1088.8 1030.2 1089.0 1031.5 1086.0 1032.0 1085.3 1032.8 1085.0 1034.2 1085.8 1035.2 1084.3 1036.8 1084.8 1039.5 1084.3 1041.0 1082.8 1043.2 1081.3 1043.2 1078.3 1046.8 1077.3 1049.2 1077.5 1051.0 1075.8 1052.5 1076.0 1053.8 1074.8 1055.8 1072.3 1057.0 1071.3 1059.2 1071.3 1060.5 1070.3 1061.8 1070.0 1065.2 1068.5 1066.8 1069.0 1069.2 1068.0 1071.2 1068.5 1073.0 1067.8 1074.0 1068.0 1075.5 1070.3 1077.0 1073.8 1076.5 1075.3 1075.8 1076.3 1074.5 1079.3 1074.0 1081.3 1071.0 1083.3 1071.0 1086.3 1069.0 1088.0 1069.2 1090.8 1068.2 1094.8 1064.5 1094.8 1062.2 1096.5 1062.0 1097.8 1059.5 1100.0 1059.5 1101.8 1057.0 1103.8 1057.8 1105.5 1057.5 1108.0 1053.0 1110.8 1053.8 1113.5 1052.5 1114.8 1051.0 1114.8 1049.5 1113.8 1048.2 1112.8 1048.0 1113.0 1047.5 1115.8 1047.8 1117.5 1046.2 1118.0 1044.2 1119.3 1044.8 1121.0 1044.5 1122.3 1042.5 1123.8 1042.0 1125.5 1040.2 1126.0 1038.2 1128.0 1038.0 1131.8 1035.8 1133.8 1032.5 1136.3 1031.0 1136.5 1029.5 1135.5 1028.2 1137.3 1028.0 1138.3 1027.0 1138.8 1025.2 1141.3 1025.2 1142.5 1023.5 1144.3 1024.2 1145.3 1024.0 1147.8 1019.0 1149.3 1019.0 1150.5 1017.5 1152.5 1017.5 1155.0 1015.5 1156.5 1015.2 1157.8 1014.2 1158.0 1012.0 1156.8 1010.2 1157.8 1009.0 1159.5 1009.0 1160.3 1008.2 1160.3 1006.0 1161.5 1005.5 1162.5 1006.8 1164.8 1006.8 1165.8 1005.5 1165.3 1003.5 1165.5 1001.2 1167.8 1000.5 1169.8 1000.8 1171.5 999.8 1171.8 998.2 1170.5 996.8 1170.3 995.5 1170.8 995.0 1172.3 995.2 1175.8 994.0 1177.0 992.0 1181.5 991.5 1182.5 990.2 1182.3 988.2 1184.0 986.8 1184.0 984.2 1185.8 984.5 1187.5 983.5 1187.8 982.0 1187.3 980.0 1188.3 978.2 1189.5 980.0 1190.5 980.2 1192.0 980.0 1194.5 976.5 1194.3 974.5 1195.0 971.5 1196.3 972.0 1197.3 971.8 1200.0 967.5 1201.3 970.0 1203.8 970.2 1205.5 969.2 1206.0 968.2 1205.8 966.8 1204.8 965.8 1203.3 965.5 1202.5 964.5 1204.5 960.8 1205.0 961.2 1204.5 962.2 1204.8 963.8 1206.8 964.8 1209.5 963.2 1209.5 960.5 1210.0 960.0 1212.3 961.5 1213.8 961.2 1215.8 958.5 1215.8 957.5 1215.0 956.5 1215.8 954.8 1217.5 957.0 1220.5 957.0 1221.5 955.8 1221.3 954.2 1222.8 953.5 1224.0 952.0 1223.8 949.2 1222.8 948.0 1223.5 945.8 1222.5 944.2 1224.8 943.0 1225.8 943.2 1227.3 942.5 1229.3 943.2 1230.5 943.0 1232.5 940.5 1232.3 937.2 1233.0 935.2 1235.8 934.8 1237.5 935.8 1238.5 935.5 1239.5 934.2 1239.3 932.2 1236.3 929.5 1240.5 929.0 1241.5 927.8 1241.8 924.0 1242.3 923.8 1243.5 925.2 1245.5 925.2 1247.0 923.2 1249.0 922.8 1250.3 921.8 1250.3 920.0 1252.0 918.8 1252.5 917.2 1254.0 917.8 1255.8 916.8 1256.0 915.2 1255.3 913.0 1251.5 910.0 1253.0 909.0 1254.3 909.5 1255.0 912.0 1256.5 913.0 1257.8 913.2 1259.8 912.2 1260.8 911.0 1260.8 910.0 1259.8 908.8 1262.0 908.5 1263.3 906.0 1264.5 906.5 1266.0 906.2 1267.8 904.0 1267.8 902.8 1267.0 901.8 1267.3 899.2 1265.0 896.8 1265.8 896.5 1267.3 898.0 1269.8 898.0 1270.8 896.8 1270.8 895.8 1270.0 894.8 1270.5 893.8 1272.0 894.5 1273.0 894.2 1274.3 892.2 1276.0 892.2 1277.8 890.0 1280.5 889.5 1281.5 887.5 1283.3 886.0 1283.0 884.2 1281.3 883.0 1281.0 881.0 1283.8 881.0 1284.8 879.8 1285.3 877.8 1286.3 878.0 1287.3 879.2 1289.0 879.5 1290.0 879.2 1291.3 877.2 1293.0 878.0 1294.8 877.0 1294.8 875.0 1293.0 873.5 1291.5 873.0 1294.3 868.8 1294.0 867.2 1295.5 866.8 1296.8 867.2 1300.3 865.5 1301.3 864.2 1301.3 863.0 1300.5 862.0 1300.8 861.2 1303.0 862.0 1304.0 861.8 1305.0 860.5 1306.0 861.8 1307.0 862.0 1308.5 861.2 1310.0 861.2 1311.3 860.2 1311.8 858.2 1310.3 855.2 1312.3 854.0 1312.8 852.5 1312.5 850.8 1311.3 849.8 1313.5 849.0 1314.8 847.5 1314.8 845.0 1313.8 843.8 1316.0 842.5 1318.3 843.2 1321.3 842.5 1322.5 840.2 1324.0 842.2 1325.3 842.5 1327.0 841.5 1327.3 840.0 1326.0 838.5 1326.0 837.5 1328.0 837.2 1329.0 836.0 1329.0 834.5 1327.8 833.0 1327.8 831.2 1327.0 830.2 1327.3 829.0 1328.0 830.8 1329.8 831.8 1330.8 831.5 1331.8 829.8 1333.0 829.0 1334.8 830.0 1336.0 831.8 1338.0 831.8 1338.8 831.0 1339.3 829.2 1339.0 827.5 1334.5 822.8 1337.5 822.5 1338.3 821.8 1338.5 823.2 1339.8 824.8 1341.8 824.8 1343.5 823.0 1343.8 821.5 1345.0 820.0 1345.0 819.0 1344.0 817.8 1340.5 817.2 1338.8 818.2 1338.5 816.5 1340.8 816.2 1342.3 814.0 1343.3 815.0 1345.8 815.0 1347.0 813.5 1346.5 811.0 1348.3 811.5 1350.0 810.5ZM1344.3 798.8 1343.3 800.0 1343.3 802.5 1345.0 803.5 1347.0 803.2 1348.0 802.0 1347.8 800.2 1346.3 798.8ZM1359.5 788.8 1357.5 788.8 1356.5 789.8 1356.3 791.2 1357.3 792.5 1356.8 793.2 1355.3 792.8 1354.0 793.0 1353.0 794.0 1351.5 794.0 1350.5 795.0 1347.8 795.2 1346.8 796.5 1346.8 797.8 1347.8 799.0 1349.3 799.2 1350.8 801.2 1352.5 801.2 1353.0 801.8 1350.3 805.5 1350.3 806.8 1351.3 808.0 1353.5 808.0 1355.8 806.8 1356.8 805.5 1356.5 804.2 1357.5 803.0 1360.5 803.0 1362.3 800.5 1362.3 799.5 1361.0 798.0 1362.3 796.2 1361.5 792.8 1360.0 791.8 1360.5 790.0ZM1357.5 795.5 1358.8 797.8 1356.3 800.8 1355.3 800.2 1355.3 798.2ZM1364.0 784.2 1363.0 784.5 1362.0 785.8 1362.0 787.5 1362.8 789.0 1361.8 790.0 1361.5 791.5 1362.5 792.8 1363.3 792.8 1364.3 794.2 1363.8 795.2 1364.0 796.8 1365.8 797.8 1368.8 795.8 1369.3 793.5 1367.8 791.2 1367.8 789.2 1365.8 788.0 1366.5 786.8 1366.3 785.2 1365.5 784.5ZM1379.5 778.8 1378.5 779.0 1377.5 780.2 1377.8 782.0 1379.5 783.0 1380.5 782.8 1381.5 781.5 1381.3 779.8ZM1372.8 777.5 1370.8 777.5 1369.8 778.8 1367.0 778.5 1366.3 779.2 1366.3 781.5 1368.5 784.5 1369.8 784.8 1371.5 784.2 1373.8 782.5 1374.3 780.2ZM1412.5 751.8 1410.3 753.2 1410.0 754.8 1411.3 756.2 1413.0 756.5 1414.8 755.5 1415.0 753.8 1413.8 752.0ZM1406.5 748.0 1405.3 748.2 1404.0 750.2 1404.3 751.8 1406.0 752.8 1407.3 752.5 1408.5 750.5 1408.3 749.0Z" fill="#FF0000" fill-rule="evenodd"/><path d="M1069 1074.5h0m0 0.5h0m0.5 -3h0m0.5 6h0m0 -11h0m0 3.5h0m0 -2h0m0 7.5h0m0.5 2.5h0m0 -10h0m0 0h0m1 -4.5h0m0 2h0m0 -1h0m0 -3h0m0 1h0m1 -6.5h0m0 3.5h0m0.5 -5.5h0m0 21h0m0.5 -18h0m1 17h0m0.5 -23.5h0m1 0.5h0m0 0.5h0m0 0h0m0.5 3h0m0.5 18.5h0m1.5 -24h0m0.5 23.5h0m0 -0.5h0m0.5 -24.5h0m0 23h0m0.5 -24.5h0m0 -4.5h0m0.5 -15.5h0m1 16h0m0 1.5h0m0 0h0m1 26h0m1 5.5h0m1 -33h0m0 27h0m0 -33h0m0.5 -3h0m0.5 0h0m0.5 5h0m0 2.5h0m0 -7h0m1 38h0m0 -37h0m0.5 -11h0m0.5 9h0m0 35h0m1 4.5h0m0 -48h0m0.5 6h0m1.5 -3h0m0.5 41h0m2.5 -41h0m0 36.5h0m2 -4h0m0 -37h0m0.5 38h0m0 -33.5h0m0.5 35.5h0m0 0h0m0.5 -42h0m0 42h0m0 -41h0m1 40h0m0.5 -36h0m1 33h0m0 -48.5h0m0 10h0m0.5 0.5h0m0.5 -6h0m0 47h0m0.5 0.5h0m0 -45h0m1 -7.5h0m0 3.5h0m0.5 -0.5h0m0 5h0m0.5 0h0m0 38.5h0m0.5 -38.5h0m0 1h0m1.5 37.5h0m0 7h0m0 -50h0m0.5 2h0m0 57.5h0m0 -64h0m0.5 45h0m0 -38h0m0 41.5h0m0 -5h0m0.5 -63h0m0 20h0m0 -14h0m0 7.5h0m0.5 54.5h0m0 0.5h0m1.5 -45h0m0.5 39.5h0m0.5 -40.5h0m0 46.5h0m0 -49h0m0.5 -15.5h0m0.5 11.5h0m0 -2.5h0m0 3h0m0 0h0m0 47.5h0m0.5 -65h0m0 20h0m0 39.5h0m0 -40h0m0.5 -8.5h0m0.5 -3.5h0m0 6.5h0m0.5 -5.5h0m0 1.5h0m0.5 -37.5h0m0 45h0m0 45h0m0 -1.5h0m0.5 -48h0m0 3.5h0m0 -42h0m0.5 35h0m0 6.5h0m0 -4h0m0 46h0m0.5 0h0m1 13h0m0.5 -15.5h0m0 -38.5h0m0 0h0m0.5 -20h0m0 64.5h0m0 1h0m0.5 -58.5h0m0 53h0m0 -42.5h0m0 -1h0m0.5 -2.5h0m0 1.5h0m0.5 65.5h0m0.5 -23h0m0.5 4h0m0.5 -49.5h0m0.5 -1.5h0m0 53.5h0m0.5 -7h0m0 -0.5h0m0.5 -46.5h0m0.5 -19h0m0 79h0m0.5 4.5h0m0.5 -70.5h0m0 -8h0m0 63.5h0m0 -5h0m0.5 -68.5h0m1 96h0m0 -80.5h0m0 -4h0m0 56h0m1 -49h0m0 55h0m0 -51h0m0 -6h0m0.5 5.5h0m0 -1.5h0m0.5 69h0m0 -78.5h0m0.5 54h0m0.5 19h0m0 -119h0m0.5 23.5h0m1.5 75.5h0m0.5 0h0m0 -48.5h0m0.5 1h0m0.5 46h0m0.5 0h0m0.5 18.5h0m0 -8h0m0 -60.5h0m0 49h0m0.5 -1h0m0.5 6h0m0 -51.5h0m0 -8.5h0m0 -12.5h0m0.5 17h0m0 -4.5h0m0.5 -6.5h0m0.5 56.5h0m0 -45h0m0 -4h0m0.5 60h0m0 -9h0m0.5 -75h0m0 2.5h0m0 15.5h0m0.5 83h0m0 -26.5h0m0 -62.5h0m0.5 7.5h0m0 56.5h0m0.5 -96h0m0.5 45.5h0m0 44h0m0 -45.5h0m0 -8h0m0.5 11h0m0 45h0m0.5 1h0m0.5 6.5h0m0.5 -6h0m0 -50.5h0m0 -1.5h0m0 50h0m0.5 14h0m0.5 -65h0m0.5 49h0m1.5 0.5h0m0 2h0m0 -54h0m0.5 -11.5h0m0 -20.5h0m0 33.5h0m0.5 -5h0m0.5 9h0m0 43.5h0m0 26.5h0m0.5 -82.5h0m0 -27.5h0m0 98.5h0m0.5 -63.5h0m0 1h0m0 79.5h0m0 -32.5h0m0 7h0m0.5 -6h0m0 2.5h0m0.5 -49.5h0m0 -11h0m0 54.5h0m0 0h0m0 -109h0m0.5 54.5h0m0.5 -40h0m0 40.5h0m0 -15h0m0 77.5h0m0.5 -62.5h0m0 2h0m0 57h0m0 -51.5h0m0 -19h0m0.5 18.5h0m0 -3.5h0m0.5 0h0m0 55h0m0 7h0m0 -67h0m1 54.5h0m0 -50.5h0m0.5 -10h0m1 -6.5h0m0 14.5h0m0 -7h0m0 12.5h0m0 -2h0m0.5 -3.5h0m0 -24.5h0m0.5 84.5h0m0 -1h0m0 -80.5h0m0 73.5h0m1 -53h0m0 -9.5h0m0 84h0m0 -75h0m0.5 -3h0m0 54h0m0 -92.5h0m0.5 42.5h0m0 3h0m0 -12h0m1.5 2.5h0m0 8h0m0 44h0m1 -48h0m0 97h0m0 -42h0m0 -9h0m0 -54.5h0m0.5 -47h0m0 40h0m0 65h0m0 2h0m0 4h0m0.5 -59.5h0m0.5 -19.5h0m0 25.5h0m0 -7h0m0 67.5h0m0.5 18h0m0 -116.5h0m0 35h0m0 -13h0m0.5 2.5h0m0 56.5h0m0 -56.5h0m0 11.5h0m0.5 -15.5h0m0 64.5h0m0 -5h0m0 -50.5h0m0 55.5h0m0.5 -51.5h0m0 -53.5h0m0 103h0m0.5 -56.5h0m0 -14h0m0.5 10.5h0m0 -38.5h0m0 101.5h0m0.5 -4h0m0 -55.5h0m0.5 -30.5h0m0 34.5h0m0.5 78h0m0.5 -115h0m0 25h0m0 60h0m0 -53h0m0.5 3h0m0 51.5h0m0.5 -4h0m0 -43.5h0m0.5 45h0m0 -3h0m0 -66h0m1 16.5h0m0 -5h0m0.5 0.5h0m0.5 57.5h0m0 -56.5h0m0 -35h0m0 86h0m0.5 -40h0m0.5 -9.5h0m0 -20.5h0m0.5 82.5h0m0 -63h0m0 53.5h0m1 -50.5h0m0 44.5h0m0.5 -48h0m0 77h0m1 -100.5h0m0 94.5h0m0 -62.5h0m0 42.5h0m0 -1h0m1 5h0m1 -9h0m0 -53.5h0m0 54.5h0m0 -44h0m0 -3h0m0.5 0.5h0m0.5 -1.5h0m0 56h0m0 -59h0m0.5 -14.5h0m0 63h0m0.5 -47.5h0m1 47h0m0.5 -56.5h0m0 -15.5h0m0 11.5h0m0.5 -7.5h0m0 74.5h0m0.5 -4.5h0m0 5.5h0m0.5 -61h0m0 1.5h0m0 -4.5h0m0 3h0m0 75h0m0.5 -70.5h0m0 -5.5h0m1 -10h0m0 13.5h0m0.5 -39h0m0.5 34.5h0m0 -38.5h0m0 95h0m1 -52.5h0m0 49.5h0m0.5 -43h0m0 42h0m0.5 -59.5h0m0 5h0m0 3.5h0m0 1h0m0.5 51h0m0 -7h0m0 11h0m0.5 20h0m0 -29.5h0m1 9.5h0m0 -7h0m0.5 3h0m0 -66.5h0m0 23.5h0m0 -15h0m0 16h0m0.5 -14.5h0m0 1.5h0m0 91.5h0m1 -98.5h0m0 2.5h0m0 69.5h0m0 -17h0m0 -3h0m0.5 -43.5h0m0 45.5h0m0 -4h0m0 11h0m0.5 -58.5h0m0 -51.5h0m0.5 105.5h0m0.5 -68h0m0.5 18h0m0 -39h0m0.5 33.5h0m0.5 -3h0m0 59.5h0m0 -7h0m0.5 -48h0m0.5 0.5h0m0 47.5h0m0.5 -48h0m0.5 -4h0m0 3.5h0m0.5 -2h0m0 50h0m0.5 -59h0m0 5h0m0.5 85.5h0m0 -23h0m0 -108.5h0m0 15.5h0m0 80h0m0 0h0m0.5 -42h0m0 41h0m0 -52.5h0m0 51.5h0m0.5 31h0m0 -26.5h0m0.5 -52h0m0 4.5h0m1 -9.5h0m0 -6.5h0m0.5 63.5h0m0 -82.5h0m0 31.5h0m0.5 -53h0m0 99h0m0.5 31.5h0m0 -95h0m0 63h0m0 -43h0m0.5 -15h0m0 55.5h0m0 -45h0m0.5 -2.5h0m0.5 53.5h0m0 -54h0m0 47h0m0 -50h0m0 -41h0m0.5 41.5h0m0.5 57h0m0.5 -47.5h0m0.5 1h0m0 -46.5h0m1 83h0m0 0.5h0m0 2h0m0 -49.5h0m0 51h0m0.5 -6h0m0 -44.5h0m0 -2h0m0.5 4.5h0m0 -21h0m0.5 -13.5h0m0 75h0m0 -1h0m0.5 -45h0m0.5 -1.5h0m0 53h0m0.5 -48.5h0m0 49.5h0m0.5 2.5h0m0 -7.5h0m0.5 -55.5h0m0.5 -16.5h0m0 30h0m0 -6h0m0.5 46.5h0m0 4.5h0m0 1h0m0 -52h0m0.5 50h0m0 -47h0m1.5 42.5h0m0 7.5h0m0 -82h0m0.5 32h0m0 -13.5h0m0 62h0m0 -62h0m0 -5.5h0m0 9h0m0.5 -27.5h0m0 34h0m0 48.5h0m0 6h0m0 -57h0m0 1.5h0m0 51h0m1.5 -57.5h0m0.5 56.5h0m0 -58h0m0.5 55h0m0 -50.5h0m0 -14.5h0m0 20.5h0m0.5 70.5h0m1.5 -26.5h0m0 -4.5h0m0 -0.5h0m0 -0.5h0m0 -48h0m1 51.5h0m0 -48.5h0m0 -4h0m0 -20h0m0 78h0m0 -54h0m0.5 -7h0m1 8h0m0.5 -4h0m0 -31.5h0m0 -4h0m0.5 84.5h0m0 -52h0m0 -2h0m1 -34.5h0m0.5 89h0m0 -52h0m1 -1.5h0m0 4.5h0m0.5 -4.5h0m0 46.5h0m0 -43h0m0 49.5h0m0.5 -50.5h0m0.5 -9h0m0 3h0m0 59h0m0 -9.5h0m0.5 -71.5h0m0.5 24.5h0m0 7h0m0 -41.5h0m0 82.5h0m0.5 -40h0m0 43h0m0.5 -9.5h0m0 44h0m0 -82.5h0m0.5 47.5h0m0 -46h0m0 40.5h0m0 -49h0m0.5 0h0m0 -8h0m0.5 58h0m0.5 -52h0m0.5 5h0m0 41.5h0m0 -33.5h0m0 41h0m0 -42h0m0.5 -20h0m0.5 5.5h0m0.5 0.5h0m0 8.5h0m0 -8h0m0 59.5h0m0.5 -63h0m0 8.5h0m0.5 -6h0m0.5 4h0m0 47.5h0m0 -51.5h0m0.5 63h0m0 -23.5h0m0 1.5h0m0 14h0m0.5 -3h0m0 -3.5h0m0 -46.5h0m0.5 53h0m0 4.5h0m0.5 -14.5h0m0 -1h0m0.5 -48h0m0 -0.5h0m0.5 47h0m0 -63.5h0m0.5 68.5h0m0 -7h0m0.5 -40h0m0 -4h0m0 51h0m0 -57.5h0m0.5 2h0m0.5 49h0m0 -45h0m1 -2h0m0 6.5h0m0.5 37h0m0 -36.5h0m0 44h0m0.5 -47h0m0.5 50h0m0 -9.5h0m0 -38.5h0m0 38.5h0m0 4.5h0m0.5 -86.5h0m0.5 78.5h0m0 -38.5h0m1 43.5h0m0 1.5h0m0.5 -44.5h0m0 -1h0m0 -4h0m0 43h0m0.5 -46.5h0m0.5 11.5h0m0 0h0m0 1h0m0 1h0m0 32h0m0 -40.5h0m0 8h0m0.5 31h0m0 0h0m0 -41.5h0m0 56.5h0m0.5 -48.5h0m0.5 37h0m0 -44.5h0m0 0h0m0 4h0m0.5 42.5h0m0.5 -2.5h0m0.5 -48h0m0 4h0m0 51h0m0 -5h0m1 -38h0m0 31h0m0 -39.5h0m0.5 41h0m0 -52.5h0m0 14h0m0.5 38.5h0m0 -47h0m0 6h0m0 -54.5h0m0.5 93.5h0m0.5 -42h0m0.5 -7h0m1 -9h0m0 2.5h0m0.5 13.5h0m0 3.5h0m0 -23.5h0m0 61h0m0 10h0m0.5 -53h0m0.5 -2.5h0m0 5.5h0m0 43h0m0.5 -3.5h0m0.5 -38.5h0m0.5 27.5h0m0 -31h0m0.5 1.5h0m0 -6h0m0 -7h0m0 18h0m1 25.5h0m0.5 7.5h0m0 0h0m0 -36h0m0 -9h0m1 3h0m0 39.5h0m0.5 -37h0m0.5 29h0m0 -34.5h0m0 39h0m0.5 43h0m0 -39h0m0.5 -46.5h0m0 45.5h0m0 4.5h0m0 -41.5h0m0.5 32.5h0m0 -1h0m0.5 23h0m0 -59h0m0 34.5h0m0 -37.5h0m0.5 37.5h0m0.5 -3h0m0 -36h0m0 -3h0m0 46h0m0.5 -42h0m0 -1.5h0m0.5 -1h0m0 45h0m0.5 -4h0m0.5 1.5h0m0 -41.5h0m0 4.5h0m0 -30.5h0m0.5 30.5h0m0.5 33h0m0.5 -47.5h0m0 51h0m0.5 -44h0m0 46.5h0m0.5 -50.5h0m0 43h0m0 2.5h0m0 2.5h0m0 -36h0m0.5 37h0m0 -41h0m0 4h0m0 2h0m0 -5h0m0.5 -8.5h0m1 42h0m0.5 -6.5h0m0.5 -31.5h0m0 2.5h0m0 -5h0m0 -6.5h0m0.5 46.5h0m0.5 -14h0m0 0h0m0 10h0m0 6h0m0 -30.5h0m0 -13h0m0 36.5h0m0.5 -25h0m0 29h0m1 -42h0m0 3.5h0m0.5 32h0m0.5 8h0m0.5 -3h0m0 17h0m0 -25h0m0 3h0m0.5 -0.5h0m0 -35h0m0.5 4.5h0m0 38h0m0 -44h0m0.5 36.5h0m0.5 0h0m0.5 -33h0m0.5 0h0m0 -13h0m0 13.5h0m0 31h0m0 -0.5h0m0 -1.5h0m0.5 9.5h0m0 -8.5h0m0 -38.5h0m1 44h0m0 -5.5h0m0.5 -33.5h0m0.5 -38h0m0 36.5h0m0.5 35h0m0 -24h0m0.5 21h0m0 18h0m0 -56h0m0 44h0m0 -39.5h0m0.5 40h0m0 -7.5h0m0 -29h0m1 32.5h0m0 -15.5h0m0.5 -28h0m0.5 21.5h0m0 -16h0m0 40.5h0m0 -7.5h0m0 -36.5h0m0 7h0m0.5 35.5h0m0 -40.5h0m0.5 -4.5h0m0.5 2h0m0 4.5h0m0 -4.5h0m0.5 31.5h0m0 -1h0m0 -36.5h0m0 37h0m0 -0.5h0m0.5 33h0m0 -26.5h0m0 -9h0m0.5 -24h0m0 22.5h0m0.5 -21h0m0 36h0m0.5 -7h0m0 -38h0m0 36.5h0m0.5 -13h0m0 3.5h0m0 -19.5h0m0 -3.5h0m0 7.5h0m0.5 -13h0m0 33.5h0m0 -10h0m0 11h0m0.5 -2.5h0m0 1h0m0.5 -2h0m0 -24.5h0m0 37h0m0.5 -38.5h0m0 25.5h0m0 7h0m0.5 -2.5h0m0 -41.5h0m0.5 37h0m0 0h0m0 -28.5h0m0 36h0m0 -31.5h0m0.5 -1.5h0m0 24h0m0 -31.5h0m0 3.5h0m0 29h0m0 -28h0m0 -19.5h0m0 42h0m0 9h0m0 -30h0m0 -1.5h0m0.5 36h0m0 -39h0m0.5 -9h0m0 38h0m0.5 -1.5h0m0 8.5h0m0 -3h0m0.5 0h0m0 -24.5h0m0 25h0m0.5 -34.5h0m0 33.5h0m0 -28.5h0m1 -4h0m0 2h0m0 30.5h0m0.5 -29h0m0 -30.5h0m0 22.5h0m0 6h0m0.5 7h0m0 -10h0m0.5 6h0m0 25h0m0.5 5h0m0 -10h0m0 3h0m0 -3h0m0.5 4.5h0m0 -27.5h0m0 -2.5h0m0 -8h0m0 36.5h0m0.5 -21h0m0 25h0m0.5 -10h0m0 1.5h0m0.5 7h0m0 -31.5h0m1 10h0m0 11.5h0m0 -17.5h0m0 14h0m0.5 -17.5h0m0 2.5h0m0 -9h0m0.5 39h0m0 -36h0m0.5 3.5h0m0 36h0m0.5 -8h0m0.5 -6.5h0m0 -35h0m0 37.5h0m1 1.5h0m0 -39h0m0 30h0m0.5 -35h0m0 39.5h0m0 -26h0m0 36.5h0m0.5 -36.5h0m0 8h0m0.5 13.5h0m0 -20.5h0m0 1.5h0m0 -3h0m0.5 24.5h0m0 -28h0m0 -2.5h0m0 30.5h0m0.5 -29.5h0m0 -8h0m0.5 8h0m0 36h0m0.5 -4.5h0m0 4h0m0.5 0h0m0 -31.5h0m0 22.5h0m0 -28.5h0m0.5 4.5h0m0 32h0m0 0h0m0.5 -8h0m0.5 -27h0m0 26.5h0m0.5 5h0m0.5 -30h0m0 -54.5h0m0 91.5h0m0.5 -36.5h0m0 -4h0m0 4h0m0.5 4h0m0.5 24.5h0m0.5 -3.5h0m0 1.5h0m0 -27h0m0.5 15.5h0m0 10.5h0m0 -10.5h0m1.5 -20h0m0.5 -5h0m0 13.5h0m0.5 24.5h0m0 -11h0m0 -18.5h0m0 22.5h0m0 -24.5h0m0 -3h0m0.5 0h0m0 22h0m0 -1h0m1 11.5h0m0.5 -3h0m0 -5h0m0 -24.5h0m1 -3h0m0 25.5h0m0 -37h0m0.5 33.5h0m0.5 -1h0m0.5 9.5h0m0 -2h0m0 -29.5h0m0 10.5h0m0.5 -1.5h0m0 8h0m0 -14h0m0 -16h0m0 18h0m0.5 26.5h0m0 -31h0m0.5 24h0m0 -5h0m0 -25h0m0 3h0m0 29.5h0m0 0h0m0.5 -27h0m0 25h0m0 2.5h0m0 -30.5h0m0.5 -3.5h0m0.5 6.5h0m0.5 10h0m1 7h0m0 -22.5h0m0 27.5h0m0 -5h0m0 2h0m0.5 -16h0m0 18.5h0m0.5 -19h0m0 -1h0m0 -1h0m0.5 10h0m0 -9h0m0 11.5h0m0 -11h0m0 -1.5h0m0 -3.5h0m0 2h0m1 -15.5h0m0.5 15h0m0 -5h0m0 23.5h0m0.5 -21.5h0m0 -8.5h0m0 -3.5h0m0.5 10.5h0m0.5 -26.5h0m0.5 35h0m0 -12.5h0m0 -27h0m0 38.5h0m0 22h0m0.5 -6h0m0 -16.5h0m0.5 15.5h0m0 -17.5h0m0 -2.5h0m0.5 16.5h0m0 -27.5h0m0 11h0m0.5 -1h0m0 -2h0m0 11.5h0m1 11h0m0 -8h0m0 -1.5h0m0 1h0m0 -15.5h0m0 23h0m0.5 1h0m0 -39h0m0 14.5h0m0 -2h0m0.5 21h0m0.5 -12.5h0m0 14h0m0 -2.5h0m0.5 -16h0m0 -68h0m0 64.5h0m0.5 9.5h0m0 -5h0m0 10.5h0m0 0h0m0.5 -10h0m0.5 22.5h0m0 -35.5h0m0 10.5h0m0.5 -10h0m0 23h0m0 -7.5h0m0 10.5h0m0.5 -9.5h0m0 25.5h0m0 -18h0m0 -17.5h0m0.5 6h0m0 11.5h0m0.5 -20h0m1.5 10.5h0m0.5 -17h0m0 28.5h0m0 -23h0m0 -2h0m0.5 24.5h0m0 -12h0m0 -1.5h0m1 5h0m0.5 -34.5h0m0.5 40.5h0m0 -3.5h0m1 -5.5h0m0 -4h0m0 -15.5h0m0 8.5h0m0.5 21h0m0 -22h0m0 -2.5h0m0 21.5h0m0.5 -24.5h0m0.5 32.5h0m0 -3h0m0 -6h0m0.5 -4.5h0m0.5 8h0m0 -4.5h0m0 -28.5h0m0 24h0m0 -19.5h0m0.5 16h0m0 -1.5h0m0 7h0m0.5 0.5h0m0 -5.5h0m0 -11h0m0.5 8h0m0 0h0m0.5 -24h0m0 6.5h0m0 -10.5h0m0.5 15h0m0 19.5h0m0 -25.5h0m0.5 1h0m0 -0.5h0m0 6.5h0m0 14.5h0m1 -20h0m0 3.5h0m0 -4h0m0 16h0m0.5 5.5h0m0 -12.5h0m0 21.5h0m0 -28h0m0.5 -2h0m0 15.5h0m0.5 -2.5h0m0 -11.5h0m0.5 7h0m0 10.5h0m0 -15h0m0 14.5h0m0.5 -3.5h0m0 8h0m0 -2.5h0m0 -16.5h0m0 -16.5h0m0.5 30.5h0m0.5 -3.5h0m0 -16.5h0m0 19.5h0m0.5 -15h0m0 12h0m0 -16.5h0m0 1h0m0.5 7h0m0 7.5h0m0 -7h0m0.5 4h0m0 -11h0m0 9.5h0m0.5 -1h0m0 -1.5h0m0 8.5h0m0 -12h0m0 9h0m0 -9.5h0m0.5 16.5h0m0.5 -21.5h0m0 10h0m0 -5h0m0.5 -1.5h0m0 0h0m0.5 -6.5h0m0 22.5h0m0 -9h0m0.5 7h0m0 -25h0m0.5 -8.5h0m0 27h0m0.5 19.5h0m0 -23h0m1 -14h0m0 11.5h0m0.5 -1.5h0m0 -9.5h0m0 -2.5h0m0 5h0m0 20.5h0m0 -24.5h0m0 4.5h0m0 4h0m0.5 4.5h0m0 -14.5h0m0 14.5h0m0.5 -11.5h0m0 5.5h0m0.5 13.5h0m0.5 -3.5h0m0 2.5h0m0 2.5h0m0.5 -20h0m0.5 3.5h0m0 8.5h0m0 -8.5h0m0.5 9h0m0 -2.5h0m0.5 -3h0m0 -8h0m0 2h0m0.5 1h0m0 -10h0m0 16.5h0m0.5 -14.5h0m0 11.5h0m0 2h0m0 11.5h0m0.5 -7.5h0m0.5 -30h0m0 18h0m0 4h0m0.5 10.5h0m0 -5h0m0 0.5h0m0 8.5h0m0.5 -12.5h0m0 -3.5h0m0 -1.5h0m1 0h0m0.5 0.5h0m0 -5.5h0m0.5 12.5h0m0 -11h0m0.5 9h0m0 -11h0m0.5 14.5h0m0 -12.5h0m0.5 5h0m0.5 -30h0m0 41h0m0 -8.5h0m0 0h0m0.5 -9h0m0 0h0m0.5 11h0m0 -17.5h0m0 18.5h0m0 -12h0m0.5 6.5h0m0.5 -2.5h0m0 -8.5h0m0 5h0m0 8.5h0m0.5 -16h0m0 -17h0m0 84h0m0 -52.5h0m0.5 -9.5h0m0 1h0m0 16.5h0m0 -17h0m0.5 1.5h0m0 22h0m0.5 -32h0m0 7.5h0m0.5 6.5h0m0.5 4h0m0 -11h0m0.5 6.5h0m0.5 -10.5h0m0 18h0m0 -19h0m0.5 -2.5h0m0.5 6.5h0m0 -3.5h0m0 -2.5h0m0.5 22h0m0 -8h0m0 -9.5h0m0 11.5h0m0 -2h0m1.5 -1h0m0 -11.5h0m1 -2h0m0.5 1h0m0.5 -14.5h0m0 23h0m0 -2.5h0m0.5 -10h0m0 17.5h0m0 -5.5h0m0 -12.5h0m0.5 -2.5h0m0.5 6.5h0m0 2h0m0 7h0m0.5 -3.5h0m0.5 -1.5h0m0.5 26.5h0m0 -24.5h0m0.5 -10.5h0m0 1h0m0 16h0m0 -12h0m0 6.5h0m0 8.5h0m0 4h0m0.5 -15h0m0 -6h0m0.5 -4.5h0m0 9.5h0m0 -12.5h0m0 12.5h0m0.5 6.5h0m0 -10.5h0m0.5 -3.5h0m0 7h0m0.5 -2h0m0.5 5.5h0m0.5 -26.5h0m0.5 10h0m0.5 14h0m0 -8h0m0.5 -8.5h0m0.5 12.5h0m1 -1h0m0.5 8h0m0 -10h0m0 3h0m1 -11.5h0m0 0h0m0.5 -1h0m0 0h0m0.5 -17h0m0 22.5h0m0 4.5h0m0 -3h0m0.5 10.5h0m0.5 -1.5h0m1 -4.5h0m0 -19.5h0m0.5 13.5h0m0 -5h0m0.5 4.5h0m1 1h0m0 -2.5h0m0.5 3h0m0.5 -18.5h0m0 12.5h0m0 0h0m0.5 9h0m1.5 -5.5h0m0 -6.5h0m0 2.5h0m0.5 -5h0m0 1h0m0 1.5h0m0.5 -11h0m0 24.5h0m0 -28.5h0m1 16.5h0m0 14h0m0 -10.5h0m0 -15.5h0m0 26h0m0.5 -26.5h0m0.5 13h0m0 9h0m0.5 -19h0m0.5 6.5h0m0.5 -5.5h0m2 -0.5h0m0 17.5h0m0.5 0.5h0m0 -23h0m0 4.5h0m1 -8.5h0m0 9h0m0 6h0m0.5 -11.5h0m0 -9.5h0m0.5 12.5h0m0 -4.5h0m0.5 5h0m0 4.5h0m0 -6.5h0m0 1h0m0 -12h0m1 7h0m0.5 9.5h0m0 -10.5h0m0 15.5h0m0 2h0m0.5 -10h0m0 -4h0m0 -20.5h0m0 22h0m1 19.5h0m0.5 -24h0m1 13.5h0m0.5 -4h0m0.5 3.5h0m0.5 -4h0m0 -13.5h0m0.5 15h0m0.5 -3.5h0m0 -2.5h0m0.5 -13.5h0m0.5 18h0m0 -23.5h0m0.5 24.5h0m0.5 -10h0m0 6h0m0.5 -4.5h0m0 49h0m0.5 -56h0m0 -8.5h0m0.5 18.5h0m0 -8h0m1 -1h0m0.5 3h0m0 0h0m0.5 12h0m1 -15.5h0m0 5h0m1 -10.5h0m0.5 10h0m0.5 0.5h0m0 -14.5h0m0 14.5h0m1.5 -35.5h0m0.5 35h0m0.5 -4h0m0 4h0m0.5 -5h0m0 -4h0m0.5 4h0m1.5 -2.5h0m0 1h0m0 6h0m0 -13h0m0.5 3.5h0m0 0h0m1 -6.5h0m0 -4h0m1 9.5h0m0 0.5h0m0 0.5h0m0.5 -12h0m0 15h0m1.5 -7h0m1.5 -8h0m0.5 -2h0m0.5 6h0m0 -2.5h0" stroke="#FF0000" stroke-width="3.1" stroke-linecap="round" fill="none"/>
<line x1="1051.00" y1="1089.75" x2="1448.90" y2="712.86" stroke="#000" stroke-width="1.1"/>
<rect x="1051.00" y="702.20" width="397.90" height="391.20" fill="none" stroke="#707070" stroke-width="1.4"/>
<line x1="1064.70" y1="1094.10" x2="1064.70" y2="1096.60" stroke="#444" stroke-width="1"/>
<text x="1060.82" y="1111.30" font-family='"Liberation Sans", sans-serif' font-size="14" fill="#000">2</text>
<line x1="1147.62" y1="1094.10" x2="1147.62" y2="1096.60" stroke="#444" stroke-width="1"/>
<text x="1143.81" y="1111.30" font-family='"Liberation Sans", sans-serif' font-size="14" fill="#000">4</text>
<line x1="1230.54" y1="1094.10" x2="1230.54" y2="1096.60" stroke="#444" stroke-width="1"/>
<text x="1226.58" y="1111.30" font-family='"Liberation Sans", sans-serif' font-size="14" fill="#000">6</text>
<line x1="1313.46" y1="1094.10" x2="1313.46" y2="1096.60" stroke="#444" stroke-width="1"/>
<text x="1309.54" y="1111.30" font-family='"Liberation Sans", sans-serif' font-size="14" fill="#000">8</text>
<line x1="1396.38" y1="1094.10" x2="1396.38" y2="1096.60" stroke="#444" stroke-width="1"/>
<text x="1388.33" y="1111.30" font-family='"Liberation Sans", sans-serif' font-size="14" fill="#000">10</text>
<line x1="1047.80" y1="1037.50" x2="1050.30" y2="1037.50" stroke="#444" stroke-width="1"/>
<text x="1039.09" y="1042.50" font-family='"Liberation Sans", sans-serif' font-size="14" fill="#000">3</text>
<line x1="1047.80" y1="919.69" x2="1050.30" y2="919.69" stroke="#444" stroke-width="1"/>
<text x="1039.09" y="924.69" font-family='"Liberation Sans", sans-serif' font-size="14" fill="#000">6</text>
<line x1="1047.80" y1="801.88" x2="1050.30" y2="801.88" stroke="#444" stroke-width="1"/>
<text x="1039.16" y="806.88" font-family='"Liberation Sans", sans-serif' font-size="14" fill="#000">9</text>
<text x="1058.58" y="731.30" font-family='"Liberation Sans", sans-serif' font-size="22.8" fill="#000">MSE=0.060</text>
<text x="1058.96" y="763.90" font-family='"Liberation Sans", sans-serif' font-size="22.8" fill="#000">COR=0.987</text>
<text x="1100.52" y="1140.90" font-family='"Liberation Sans", sans-serif' font-size="28.8" fill="#000" textLength="301.08" lengthAdjust="spacingAndGlyphs">ESC Replicate 1 GEP</text>
<text transform="translate(1016.90,1048.00) rotate(-90)" x="-2.45" y="0" font-family='"Liberation Sans", sans-serif' font-size="32.8" fill="#000" textLength="298.34" lengthAdjust="spacingAndGlyphs">ESC Replicate 2 GEP</text>
<path d="M355.9 1294.3 353.1 1294.0 351.1 1295.3 349.6 1297.5 349.9 1299.8 349.1 1300.8 349.4 1302.3 348.9 1303.8 347.4 1303.0 343.9 1304.0 342.6 1305.0 342.4 1306.5 343.1 1307.8 342.4 1310.0 340.9 1310.0 339.6 1311.5 337.1 1310.5 336.1 1310.8 334.9 1312.0 334.9 1314.0 335.6 1314.8 337.9 1315.0 336.9 1316.0 336.4 1317.8 335.9 1317.8 334.6 1316.0 333.6 1315.8 332.6 1316.0 330.4 1318.0 330.1 1319.5 329.1 1319.8 328.1 1321.0 328.4 1322.5 329.9 1323.5 328.4 1325.3 326.9 1324.8 324.9 1325.0 323.9 1326.3 324.4 1328.0 323.9 1328.5 322.9 1327.3 320.9 1327.3 319.9 1328.3 318.6 1328.5 317.4 1330.8 316.1 1331.3 315.1 1331.0 316.1 1329.8 315.9 1328.3 315.1 1327.5 313.1 1327.5 312.1 1328.8 312.4 1330.3 313.1 1331.0 315.4 1331.3 313.1 1332.5 312.9 1334.3 310.9 1334.8 308.1 1337.0 306.9 1339.0 306.6 1340.8 305.1 1339.3 302.1 1339.3 300.9 1340.8 301.1 1342.3 302.4 1343.3 301.6 1346.0 299.6 1346.3 298.1 1345.5 296.9 1345.8 295.4 1347.5 295.9 1349.5 294.1 1349.8 293.4 1350.5 293.1 1352.0 291.6 1353.5 291.6 1355.3 289.4 1355.3 288.4 1356.5 286.6 1355.8 284.9 1356.0 283.9 1357.3 283.9 1360.5 282.9 1361.8 283.1 1364.0 282.4 1364.8 281.1 1363.8 278.9 1363.8 277.9 1365.0 278.9 1367.8 275.9 1367.5 274.4 1369.3 274.9 1371.5 272.9 1371.5 271.6 1373.0 268.6 1371.8 267.4 1372.0 266.4 1373.3 266.1 1375.5 267.9 1377.5 266.4 1378.5 265.4 1377.5 262.9 1377.5 261.9 1378.8 261.9 1380.8 261.4 1381.3 259.1 1381.3 258.4 1382.0 257.9 1384.0 258.6 1385.3 255.9 1385.5 254.7 1386.8 254.7 1388.5 253.2 1389.3 251.9 1388.5 250.7 1386.8 248.7 1386.8 247.4 1388.3 247.4 1389.3 248.4 1390.5 247.7 1391.8 247.7 1393.8 248.4 1395.3 245.2 1398.3 244.9 1399.8 243.9 1400.0 242.7 1399.5 240.7 1400.8 239.2 1400.0 238.2 1400.3 237.2 1401.5 237.4 1402.8 235.7 1404.3 235.9 1405.8 233.2 1407.3 231.9 1408.8 229.9 1409.0 229.2 1409.8 228.9 1412.0 227.9 1413.0 227.4 1414.8 226.9 1415.3 225.4 1414.5 224.4 1414.8 223.2 1416.0 223.2 1418.0 221.9 1418.5 220.9 1419.8 220.9 1420.8 221.9 1422.0 220.4 1423.5 218.4 1422.5 216.7 1423.5 214.4 1423.5 213.4 1424.8 213.4 1426.0 214.2 1427.0 213.2 1429.3 211.9 1427.0 209.9 1427.0 208.9 1428.3 209.4 1430.0 208.4 1431.3 208.2 1432.8 206.7 1432.0 204.9 1432.3 203.7 1433.8 202.2 1434.5 202.2 1436.5 202.9 1437.3 205.2 1437.5 204.9 1439.8 202.9 1438.8 199.2 1440.3 196.9 1440.3 195.4 1441.5 193.2 1441.8 191.2 1443.3 190.2 1443.0 187.4 1443.8 186.4 1444.8 186.2 1446.5 187.4 1448.0 185.2 1451.8 185.2 1453.0 183.4 1454.5 182.9 1455.8 182.4 1454.5 180.7 1453.5 179.4 1453.8 178.2 1455.5 179.4 1459.0 180.7 1460.3 179.7 1461.3 178.7 1460.0 177.4 1459.8 173.4 1461.3 172.7 1462.0 172.2 1464.0 173.4 1465.5 172.4 1465.8 167.7 1469.8 167.7 1472.8 165.7 1473.0 164.4 1474.0 163.4 1477.8 161.4 1479.0 161.2 1480.5 160.2 1481.5 158.7 1481.8 157.2 1483.0 156.7 1485.0 155.4 1486.0 153.4 1486.0 152.7 1486.8 152.4 1488.3 153.9 1490.3 152.9 1490.8 150.7 1490.0 148.7 1491.3 148.4 1493.0 149.4 1495.8 147.2 1496.3 145.9 1498.5 143.4 1498.3 141.7 1499.3 141.4 1500.8 142.4 1503.0 143.4 1504.3 144.4 1504.5 144.4 1505.3 143.7 1505.5 141.9 1504.5 140.9 1504.8 139.9 1506.8 137.4 1508.3 137.4 1510.0 135.7 1512.5 135.9 1514.3 130.7 1517.8 130.4 1519.3 130.9 1520.3 128.9 1522.0 128.9 1524.5 129.9 1525.8 125.9 1530.0 125.9 1531.3 125.2 1532.3 125.2 1533.5 125.9 1534.8 123.9 1536.0 123.2 1540.0 122.2 1541.8 122.4 1543.3 123.9 1545.0 125.4 1545.5 127.4 1545.0 127.9 1546.3 126.9 1547.3 126.7 1548.8 127.9 1550.3 129.9 1550.3 130.9 1549.0 130.4 1546.8 131.9 1547.3 134.7 1546.0 135.7 1545.0 135.9 1543.5 138.2 1543.3 139.7 1541.0 141.9 1540.8 143.2 1539.0 144.9 1539.5 146.4 1539.0 147.7 1536.8 149.9 1536.8 150.9 1535.5 150.4 1533.8 151.4 1531.8 155.2 1532.0 156.9 1529.8 156.7 1526.0 162.7 1525.0 163.9 1523.3 165.7 1522.8 166.7 1521.5 166.4 1519.0 169.4 1518.5 170.7 1516.8 170.2 1514.5 171.2 1514.3 172.7 1512.0 174.9 1511.5 175.7 1510.8 175.7 1507.0 178.2 1506.5 179.4 1504.8 181.7 1505.5 183.9 1504.8 184.9 1503.5 184.2 1500.5 186.9 1497.5 189.7 1496.5 191.2 1494.3 192.7 1494.3 193.9 1491.8 196.2 1492.8 197.9 1491.8 198.7 1486.5 197.7 1485.3 198.7 1485.0 199.7 1483.8 199.4 1481.0 200.9 1480.3 202.7 1483.0 204.7 1483.0 206.7 1480.5 206.2 1478.0 207.9 1478.5 210.7 1477.0 210.7 1475.0 212.2 1473.5 212.4 1471.8 214.4 1469.5 216.9 1469.5 218.4 1467.8 218.7 1466.3 217.7 1464.5 218.2 1463.3 219.4 1462.3 220.9 1463.0 222.7 1462.0 222.7 1458.5 225.4 1457.8 226.2 1457.0 226.9 1453.3 228.9 1452.0 230.2 1449.0 232.2 1447.8 232.4 1445.5 233.4 1445.3 234.7 1447.3 236.9 1447.3 237.9 1446.0 237.2 1443.3 238.9 1443.3 240.4 1441.0 241.7 1441.5 242.9 1441.3 244.7 1439.8 244.9 1438.3 243.7 1436.3 245.4 1434.3 246.9 1430.8 247.9 1429.8 250.4 1431.0 252.2 1430.8 254.2 1429.5 254.4 1428.0 252.7 1426.5 255.2 1424.3 255.4 1423.3 259.4 1419.8 259.6 1418.5 260.6 1417.8 261.9 1417.8 263.6 1416.0 264.9 1413.8 266.9 1412.0 267.9 1410.0 267.9 1408.8 266.6 1407.0 267.1 1406.5 268.6 1407.3 270.6 1407.3 272.4 1406.3 273.4 1403.3 271.9 1401.8 273.9 1399.3 275.1 1399.3 275.9 1398.5 276.1 1397.5 277.6 1396.0 277.4 1394.5 277.9 1394.0 278.9 1395.3 280.9 1395.3 282.1 1393.8 281.9 1392.0 283.1 1390.8 284.4 1390.8 286.4 1388.3 286.4 1386.8 288.9 1386.5 289.6 1385.8 289.9 1382.8 291.4 1381.3 293.1 1381.5 294.9 1380.5 295.1 1379.3 296.1 1379.0 297.1 1377.8 297.1 1376.3 296.1 1375.0 298.6 1373.3 298.9 1371.0 299.9 1370.5 300.9 1371.8 301.9 1372.0 302.9 1371.8 305.4 1369.5 306.9 1367.3 306.9 1365.8 308.6 1365.3 309.6 1364.0 309.1 1362.3 310.6 1360.8 310.4 1359.3 312.4 1358.8 313.9 1356.3 315.4 1356.0 316.1 1355.3 316.9 1352.0 319.1 1350.5 319.4 1348.5 322.1 1349.8 323.9 1348.8 324.6 1345.3 324.1 1342.3 326.4 1343.5 328.4 1343.0 329.4 1341.8 329.1 1339.5 326.9 1338.0 329.4 1337.8 330.6 1336.0 334.1 1335.5 335.1 1334.3 335.4 1332.0 337.9 1332.0 341.4 1329.0 341.6 1327.0 340.6 1325.5 343.6 1322.0 343.6 1321.0 342.9 1320.0 344.9 1319.8 346.4 1318.0 349.1 1317.0 351.1 1315.0 353.1 1315.0 354.1 1313.8 354.1 1310.0 355.6 1308.8 357.1 1309.3 359.6 1308.8 360.4 1308.0 360.6 1306.5 358.9 1304.0 360.4 1301.5 360.4 1300.5 359.4 1299.3 359.1 1297.8 356.9 1296.3ZM371.9 1286.3 369.1 1285.3 368.1 1285.5 365.9 1287.0 365.4 1288.5 363.6 1288.8 360.6 1290.8 360.4 1292.3 362.6 1295.5 363.9 1295.5 365.1 1297.8 366.4 1298.0 368.6 1297.0 371.1 1297.3 372.1 1296.0 372.1 1295.0 373.4 1294.0 373.4 1291.8 371.6 1290.8 372.9 1288.5 372.9 1287.5ZM383.9 1274.0 382.4 1274.0 380.4 1273.0 379.4 1273.3 377.4 1275.0 377.1 1276.8 374.6 1278.0 374.6 1280.3 373.6 1280.8 370.1 1280.5 369.1 1281.8 369.4 1283.3 371.9 1284.5 373.4 1287.0 375.9 1287.3 376.9 1286.0 376.6 1281.3 380.1 1281.3 380.9 1280.5 383.6 1280.0 384.6 1279.0 384.9 1275.3ZM391.9 1265.5 389.1 1265.5 388.1 1267.3 385.9 1268.8 385.4 1270.8 386.4 1272.0 387.6 1272.3 389.1 1271.5 391.1 1271.5 392.1 1270.5 392.9 1266.8ZM391.6 1257.8 390.6 1258.0 389.1 1259.8 389.6 1262.3 391.4 1263.3 392.4 1263.0 393.9 1261.0 393.6 1259.0ZM397.1 1250.8 395.1 1250.8 393.6 1251.8 393.4 1253.3 394.4 1254.5 396.9 1254.5 397.9 1253.5 398.1 1252.0ZM436.6 1220.8 435.6 1221.0 434.6 1222.3 434.9 1224.0 436.6 1225.0 437.6 1224.8 438.6 1223.5 438.4 1221.8Z" fill="#0000FF" fill-rule="evenodd"/><path d="M123.5 1542h0m0.5 -6h0m0 -0.5h0m0 5.5h0m0.5 3h0m0 3.5h0m0 -7.5h0m0 8h0m0 -9.5h0m0.5 -2h0m0.5 8h0m0.5 -11.5h0m0 13.5h0m0 -13.5h0m1 -2.5h0m0.5 0h0m0.5 17.5h0m0 -18.5h0m0 19.5h0m0 1h0m0.5 -3h0m0 0.5h0m0 -2h0m0.5 1.5h0m0 -19h0m1 -3.5h0m0 24.5h0m0 -27h0m1 -4h0m0 9h0m0 21.5h0m0.5 -29.5h0m0.5 27h0m0 -25.5h0m0.5 25.5h0m2 -1.5h0m0.5 0.5h0m0.5 2.5h0m1.5 -35h0m0 1h0m1 29h0m0 -31h0m0.5 -2.5h0m0 1.5h0m1 -2h0m0 -9h0m1 48.5h0m0 -44h0m0.5 36h0m0 -34h0m0.5 -1.5h0m0 35h0m0.5 -39.5h0m0.5 41h0m0 -37h0m0.5 -3.5h0m0 40.5h0m0.5 -41.5h0m0 44h0m0 -42h0m0 41.5h0m0.5 -43.5h0m0 38.5h0m1.5 -34h0m0.5 37.5h0m0.5 -47h0m0 44h0m0 6h0m0.5 -48h0m0 47.5h0m0 7.5h0m0.5 -65h0m0 52h0m1.5 7.5h0m0 -10h0m0 -0.5h0m0.5 -43.5h0m0 0.5h0m0.5 40h0m0 -38.5h0m0.5 41.5h0m0 -46.5h0m0 6.5h0m1.5 -7.5h0m0.5 53.5h0m0 -4h0m0.5 7h0m0.5 -58h0m0 -20.5h0m0.5 66h0m0 -44h0m0.5 43h0m0.5 -42h0m0 41h0m0 -3h0m0.5 0.5h0m0.5 5.5h0m0 -4h0m1 -4h0m1 -40.5h0m0 -1h0m0.5 55.5h0m0 -67.5h0m1 72h0m0 -60.5h0m0.5 -8h0m0.5 52.5h0m0 -50.5h0m0 47.5h0m0.5 -68h0m0.5 22.5h0m0.5 -4.5h0m0.5 6h0m0 50h0m0 -3h0m1 -2.5h0m1 -51.5h0m0 -2h0m0 -4.5h0m0 11h0m0.5 41h0m0 -43h0m0 44h0m0 -43h0m0 49h0m1 -4h0m0.5 22.5h0m0 -94.5h0m0 76h0m0 -4h0m0.5 -52h0m1 57h0m0 -81.5h0m0 84h0m0 -74.5h0m0.5 16.5h0m0 -4.5h0m0.5 48h0m0.5 4h0m0 0h0m0 -2.5h0m0 -47h0m1 -13h0m1 57h0m0 -45.5h0m1 -8.5h0m0.5 7h0m0 54h0m0.5 -56.5h0m0.5 -1.5h0m0.5 46h0m0 -65h0m0 67h0m0.5 -57.5h0m0.5 9h0m0.5 43.5h0m0 5h0m0.5 -45h0m1 -6h0m0 -2.5h0m0.5 2h0m0 46.5h0m0 39.5h0m0 -84.5h0m0.5 56h0m0.5 -9h0m0.5 1.5h0m0 -54.5h0m0.5 53h0m0.5 -49h0m0.5 79h0m0 -82.5h0m0.5 1h0m0 54h0m0 -4.5h0m0 -44h0m0.5 78h0m0.5 -91.5h0m0.5 53h0m0 -53.5h0m0.5 55.5h0m0 0.5h0m0 -87.5h0m0.5 30h0m0.5 52.5h0m0 15.5h0m0 -59h0m0 48h0m0 -51.5h0m1 46h0m1 6.5h0m0.5 -57.5h0m0.5 50h0m0 -45.5h0m0 -1.5h0m0.5 -4.5h0m0.5 4h0m0 84h0m0 -84.5h0m1 50h0m0 -4h0m0.5 1h0m0 -51.5h0m0 -8.5h0m0.5 66.5h0m1.5 -54.5h0m0 48h0m0 -2.5h0m0 -1.5h0m0.5 1.5h0m0 1.5h0m1 -51.5h0m1.5 -0.5h0m1 -17h0m0 69h0m0.5 -1h0m0 3.5h0m0 -5.5h0m0.5 14.5h0m0 -9h0m0 -7.5h0m0 -87h0m0.5 89.5h0m0 -52.5h0m0.5 47.5h0m0 -5h0m0.5 -1h0m0 -47h0m0.5 63h0m0.5 -13h0m0 -47h0m0.5 50.5h0m0 -62.5h0m0 79.5h0m0.5 -14.5h0m0 -49h0m0.5 -4.5h0m0 52.5h0m0.5 -52h0m0.5 48h0m0.5 -4.5h0m0.5 20.5h0m0 -61h0m0 -3h0m0 45.5h0m0 11.5h0m0.5 -59h0m0 49h0m1 -2.5h0m0.5 1.5h0m0 -4h0m0 -49.5h0m0.5 4h0m0 -3h0m0 -2h0m0 51.5h0m0.5 -50h0m0.5 -0.5h0m0 10h0m0 -1.5h0m0.5 -6.5h0m1 46h0m0 -53h0m0 90.5h0m0.5 -20.5h0m0 -8h0m0 -60.5h0m0 86.5h0m1 -81h0m0 0.5h0m0.5 -12h0m0 56.5h0m0 -47.5h0m0.5 44.5h0m0 -60h0m0 8h0m0 5.5h0m0.5 -3h0m0 48.5h0m0 -0.5h0m0.5 -42.5h0m0 -1h0m0 0.5h0m0.5 41.5h0m0.5 0h0m0.5 23.5h0m0.5 -68.5h0m1 4h0m0.5 -1h0m0 53h0m0 -57.5h0m0 -10.5h0m0.5 -17.5h0m1 72.5h0m0 -3h0m0.5 13h0m0 -15.5h0m0.5 3.5h0m0.5 -47.5h0m0 3.5h0m0.5 -7h0m0 -8.5h0m0 15.5h0m0.5 -15.5h0m0 12.5h0m1 1.5h0m0.5 40.5h0m0.5 23.5h0m0.5 -26.5h0m0 -38h0m0 43h0m0 -45.5h0m0.5 -4h0m0 9.5h0m0 38h0m0.5 -41.5h0m1 -3h0m0 48.5h0m0 -9h0m0.5 39h0m1 -34h0m0 0h0m0.5 -45.5h0m0 38h0m0 0.5h0m0.5 2.5h0m0 -52.5h0m0.5 -10h0m1 57h0m0.5 -49.5h0m0 48h0m0.5 2.5h0m0 -37.5h0m0 39.5h0m0.5 -5.5h0m0 -35.5h0m0 35.5h0m0 4h0m0 -66.5h0m0 21h0m1 4h0m0 -28h0m0.5 26h0m0.5 36h0m0 1.5h0m0.5 3h0m0 54.5h0m0 -54h0m0 -46.5h0m0.5 46.5h0m0.5 16h0m0.5 -3h0m0 -95.5h0m0.5 21h0m0 20h0m0.5 -7h0m0.5 46.5h0m0 -2h0m0.5 0h0m0.5 -39h0m0 36.5h0m0.5 2h0m0.5 -41.5h0m0.5 -12.5h0m0 14h0m0 39h0m1.5 -43.5h0m0 -0.5h0m0 40.5h0m0.5 -0.5h0m0 2h0m0 -42.5h0m0.5 -8.5h0m1.5 55h0m1 -6h0m0.5 -41h0m0.5 35h0m0.5 3h0m0 1h0m0.5 -5h0m0 -37.5h0m0 37h0m0.5 -0.5h0m1 42.5h0m0 -95.5h0m0 51.5h0m0.5 -32h0m0 -1h0m0.5 56.5h0m0.5 11.5h0m0 -100.5h0m0.5 89h0m0.5 -21.5h0m0 -36.5h0m0 45.5h0m0.5 -59h0m0 72h0m0.5 -66.5h0m0 -2h0m0 6.5h0m0 -1h0m0.5 -22h0m0.5 20.5h0m0 4.5h0m0 34.5h0m0 -41.5h0m0 45h0m0 -2h0m1 -38.5h0m0.5 -11h0m0.5 5h0m0 -5.5h0m0.5 43.5h0m0.5 3.5h0m0 1h0m0.5 -1.5h0m0 -37.5h0m1 33.5h0m1 -39.5h0m0 3h0m0.5 33.5h0m0 24h0m0.5 -59.5h0m0 47.5h0m1 -1h0m0.5 -89.5h0m0.5 35.5h0m0 41.5h0m0.5 -36h0m0.5 -2.5h0m0.5 39h0m0 3h0m1.5 -6.5h0m0 29.5h0m1 -30.5h0m0.5 -36.5h0m0 1.5h0m0.5 -2h0m0 35h0m1 36.5h0m0.5 -71.5h0m0.5 29.5h0m0.5 3.5h0m1 -36h0m0.5 -2h0m0 42h0m0.5 -6h0m0.5 -4h0m0.5 0.5h0m0 -34.5h0m0 5h0m0 0.5h0m0.5 -17h0m1 42h0m0.5 10.5h0m0.5 2h0m0 -40.5h0m0 34.5h0m0 -1.5h0m0 -1h0m0.5 -2h0m0 -39.5h0m0.5 34.5h0m0 8.5h0m0.5 -4.5h0m0.5 -30.5h0m0 -3h0m0 3.5h0m0 30h0m0.5 -1.5h0m0 -25.5h0m1 25.5h0m0 -31.5h0m0 28.5h0m0.5 -28.5h0m0.5 -2.5h0m0.5 3.5h0m0 1h0m0.5 24h0m0 -29h0m0.5 -11.5h0m0.5 43h0m1 -37.5h0m0 5h0m0.5 -1.5h0m0 30.5h0m0 -38h0m0 39.5h0m0.5 -32.5h0m0 30h0m0 -27h0m0.5 24.5h0m0.5 42h0m0.5 -79.5h0m0 39.5h0m0.5 -36h0m0 41.5h0m1.5 2h0m0.5 -39h0m0 28h0m0 -33h0m0.5 7.5h0m0.5 22h0m0 5h0m0 0h0m0 -32h0m0.5 -1h0m0 29.5h0m1 -31h0m0.5 -2.5h0m0 -6.5h0m0 7h0m0.5 34h0m0 2.5h0m0.5 -6h0m0.5 -2.5h0m0.5 2h0m0 -31.5h0m1 31.5h0m0 -29.5h0m0 25.5h0m0.5 8.5h0m0.5 -45.5h0m0 2.5h0m1 7.5h0m0.5 -4h0m0 3.5h0m0.5 30h0m1 -2.5h0m0 13h0m0.5 -42.5h0m0 -0.5h0m0.5 35.5h0m0.5 -1.5h0m0 1h0m0 -43h0m0 35h0m0 3h0m0.5 -33h0m0.5 28.5h0m1 -39.5h0m0.5 9h0m0 -1h0m0.5 28h0m0 3h0m0 0h0m0.5 19.5h0m1 -20.5h0m1 -2h0m0.5 -2h0m0.5 -29h0m0 -3.5h0m0.5 2h0m0.5 30.5h0m0 -25h0m0 -16.5h0m0.5 14h0m1 46.5h0m0.5 -50h0m0.5 30.5h0m0.5 0.5h0m0 -69.5h0m0 65.5h0m1.5 -3h0m0.5 5h0m0 -30h0m0 23h0m0 -28h0m0.5 34.5h0m0.5 -4.5h0m0 -26.5h0m0.5 23.5h0m0 -28h0m0.5 28h0m0.5 -28.5h0m0.5 7h0m0 21h0m0.5 -25h0m1 22h0m0 -0.5h0m0 -1h0m0 5h0m0.5 -30.5h0m0 2h0m0.5 -3.5h0m0.5 4.5h0m0 28h0m0 -21.5h0m0.5 15h0m0 -25h0m0.5 -3.5h0m0 28h0m0 -1.5h0m0.5 -25h0m0 24.5h0m0 -24h0m0 23.5h0m0.5 6h0m0.5 -26h0m1 26h0m0.5 -30h0m0 29.5h0m0.5 -7.5h0m0.5 -18.5h0m0 -2h0m0 0h0m0 25h0m0 4.5h0m1 -35.5h0m0 2h0m1 -1h0m0.5 2h0m0.5 -7.5h0m0 9h0m0 21.5h0m0.5 -0.5h0m0 -8.5h0m0.5 2h0m0 -15.5h0m0 19.5h0m0 -22.5h0m0 24.5h0m0.5 -4h0m0 -22.5h0m0 27.5h0m0.5 -29h0m0 2.5h0m0 1h0m1 -1.5h0m0 4.5h0m0.5 14.5h0m0.5 1h0m0 2h0m0 -15.5h0m0 -3h0m0.5 21h0m0 -2.5h0m0 3h0m0 -24.5h0m0 -6.5h0m1 10h0m0 20h0m0.5 -4.5h0m0 -20h0m0 -5.5h0m0 24.5h0m1 -3.5h0m0 -15.5h0m0.5 15h0m0 6.5h0m0 -4.5h0m0 -1.5h0m0 -22.5h0m0 6h0m0.5 4h0m1 10h0m0.5 -4.5h0m0 -11.5h0m0.5 -0.5h0m0.5 -5.5h0m1 3.5h0m0 18h0m0.5 -3h0m0 2h0m0.5 -3.5h0m0.5 -14h0m0.5 -49.5h0m0 27.5h0m0.5 21.5h0m0 35.5h0m0 -38h0m0 2.5h0m0 -2h0m0 -17h0m0.5 13h0m0.5 4h0m0.5 -2.5h0m0 21.5h0m0.5 -15h0m0.5 -1h0m0 -8.5h0m0.5 5h0m0 23h0m0.5 -11.5h0m0.5 4h0m0 -1.5h0m0.5 1h0m0.5 -5h0m0.5 -12.5h0m0 0.5h0m0 -3h0m0 3h0m0 -6h0m1 0.5h0m0 0h0m0.5 16h0m0.5 -15.5h0m0.5 16h0m0 -12.5h0m0 12h0m0.5 -13h0m0 10.5h0m0 -0.5h0m0.5 -13.5h0m0.5 16h0m0.5 0.5h0m1 -19.5h0m0.5 2.5h0m0.5 11.5h0m0.5 4.5h0m0 -16.5h0m1 11.5h0m0.5 3h0m0.5 -15h0m0 -2.5h0m0 1.5h0m0 -4.5h0m0.5 20h0m0 1.5h0m0 -32h0m0.5 12h0m0 21.5h0m0.5 -27.5h0m0 3h0m0.5 18h0m0 -23.5h0m0.5 23h0m0 -2.5h0m0.5 2.5h0m0.5 1.5h0m0 -7h0m1 -18h0m0.5 5h0m0.5 -0.5h0m0.5 13h0m1.5 -5h0m0 2h0m0 -18h0m0 12.5h0m0 -7.5h0m0.5 16h0m0.5 -10.5h0m0 4h0m0.5 -1h0m0 -4h0m0 11h0m0.5 -25h0m0.5 24h0m0 -16.5h0m0 -1h0m0.5 0.5h0m0 -11h0m0 19.5h0m0.5 -6h0m0 -7.5h0m0.5 0h0m0.5 3.5h0m0 5h0m0 14h0m0.5 -12.5h0m0 -8h0m0.5 -0.5h0m0 -6h0m0 18h0m0.5 -16.5h0m0.5 8h0m0.5 -6.5h0m0.5 14.5h0m0 -2h0m0 0h0m0 8.5h0m0 -17.5h0m1.5 10h0m0 -9h0m0 -4h0m0 0h0m0.5 -4.5h0m0 12.5h0m0.5 -14h0m0 26h0m0.5 -18.5h0m1 -2h0m0 -6.5h0m0 6.5h0m0.5 13.5h0m0.5 -14.5h0m0 0.5h0m0 10.5h0m0.5 3h0m0 -6.5h0m0 -9h0m0 16.5h0m0.5 -5h0m0.5 -18h0m0 19.5h0m1 -7h0m0 1.5h0m0 10h0m0 -26h0m0 4.5h0m0.5 16h0m0.5 4.5h0m0 -5.5h0m1 -25.5h0m0 15h0m0 5h0m0.5 6h0m0 -11.5h0m0 -1h0m0 5.5h0m0 -7h0m0 5h0m0.5 -7.5h0m0.5 5h0m0 10h0m0 -3h0m0 0h0m0.5 2.5h0m0 -3.5h0m0.5 -11h0m1 39.5h0m0 -28.5h0m0 -9h0m0 6.5h0m0 -0.5h0m0.5 2.5h0m0 -13.5h0m0.5 8.5h0m0.5 6h0m0 -13.5h0m0.5 0.5h0m1 -2.5h0m0 8h0m0.5 -11h0m0 -4.5h0m0.5 6h0m0.5 -0.5h0m0.5 5.5h0m0 2h0m0 1.5h0m0.5 -3.5h0m0 0h0m0 -12.5h0m0.5 17.5h0m0 -5.5h0m0 -10.5h0m0 8h0m0.5 2.5h0m0.5 6.5h0m0 -14h0m0.5 -0.5h0m0.5 -7.5h0m0 11.5h0m0.5 -1.5h0m0.5 -7.5h0m0 11h0m1 4.5h0m0.5 -20.5h0m0 7h0m0 3h0m1 4h0m0 -10.5h0m0.5 2h0m0.5 8h0m0.5 -2h0m0 -10h0m0.5 8h0m0 -3h0m0.5 -3.5h0m0.5 1h0m0 18h0m1 -11.5h0m0.5 -13h0m0 -1.5h0m0.5 15.5h0m1 -8.5h0m0.5 -8.5h0m0 17.5h0m0.5 -17h0m0 6.5h0m0.5 7.5h0m0 -12h0m1 11h0m0 -9h0m0 1h0m0 7h0m0.5 1h0m0 -8.5h0m0 0h0m0 6.5h0m0.5 0h0m1.5 -6.5h0m0.5 -5h0m0 4.5h0m0 -2h0m0 -3h0m0 12h0m0.5 -6.5h0m0 11.5h0m0.5 -19.5h0m0 4.5h0m0.5 36.5h0m0 -24.5h0m1 -8.5h0m0 -11.5h0m0 8.5h0m1 10h0m0 -17.5h0m1 1h0m0 8.5h0m0 -1.5h0m1.5 -4.5h0m0 3.5h0m0.5 -3.5h0m0.5 -2.5h0m0 2h0m0.5 -6.5h0m0 10h0m0.5 -8h0m0 -7h0m0.5 2.5h0m0 7h0m0.5 -2.5h0m0 -14h0m0.5 33h0m0.5 -19.5h0m0.5 -1.5h0m0 -1.5h0m1 -4.5h0m0 -4h0m0 17h0m0.5 -19h0m0.5 15h0m0 -9.5h0m0.5 10.5h0m0 -10h0m0 9.5h0m0.5 -7h0m1.5 -8h0m0 5h0m0 0.5h0m1 4h0m0.5 2h0m0.5 1h0m0.5 -8.5h0m0.5 6h0m0.5 -15.5h0m0 10h0m0 -11h0m0.5 10h0m0 -5h0m0 6h0m0 9h0m0 -8.5h0m0.5 4.5h0m0.5 -14.5h0m0.5 7h0m1 4h0m0.5 1.5h0m1 -12h0m1 6.5h0m1 -11h0m1 6.5h0m0.5 -0.5h0m1.5 0h0m0 -10h0m1.5 -1h0m0.5 4h0m0 -1h0m1.5 -17h0m1.5 14.5h0m1 -4.5h0m0 2h0m0.5 -13.5h0m0 22h0m0 -1.5h0m0.5 2h0m0 0.5h0m0.5 -5.5h0m0 -8.5h0m0 11.5h0m0.5 -8h0m0 9.5h0m0.5 -12h0m2.5 5h0m0.5 -4.5h0m0.5 2h0m1.5 -14.5h0m1.5 11.5h0m1 -0.5h0m2 -5.5h0m0.5 -4.5h0m0 4h0m1 4.5h0m1 -3.5h0m0 -4.5h0m0.5 6.5h0m0.5 -5h0m3 -2.5h0m0.5 -4.5h0m0 10.5h0m5 -15h0m1 7.5h0m1 -14.5h0m0 14.5h0m0.5 0.5h0m2 -11h0m0 -3.5h0" stroke="#0000FF" stroke-width="3.1" stroke-linecap="round" fill="none"/>
<line x1="103.60" y1="1565.01" x2="479.40" y2="1174.84" stroke="#000" stroke-width="1.1"/>
<rect x="103.60" y="1174.00" width="375.80" height="394.30" fill="none" stroke="#707070" stroke-width="1.4"/>
<line x1="114.20" y1="1569.00" x2="114.20" y2="1571.50" stroke="#444" stroke-width="1"/>
<text x="104.40" y="1586.20" font-family='"Liberation Sans", sans-serif' font-size="14" fill="#000">2.5</text>
<line x1="208.40" y1="1569.00" x2="208.40" y2="1571.50" stroke="#444" stroke-width="1"/>
<text x="198.63" y="1586.20" font-family='"Liberation Sans", sans-serif' font-size="14" fill="#000">5.0</text>
<line x1="302.60" y1="1569.00" x2="302.60" y2="1571.50" stroke="#444" stroke-width="1"/>
<text x="291.89" y="1586.20" font-family='"Liberation Sans", sans-serif' font-size="14" fill="#000">7.5</text>
<line x1="396.80" y1="1569.00" x2="396.80" y2="1571.50" stroke="#444" stroke-width="1"/>
<text x="382.90" y="1586.20" font-family='"Liberation Sans", sans-serif' font-size="14" fill="#000">10.0</text>
<line x1="100.40" y1="1554.00" x2="102.90" y2="1554.00" stroke="#444" stroke-width="1"/>
<text x="80.00" y="1559.00" font-family='"Liberation Sans", sans-serif' font-size="14" fill="#000">2.5</text>
<line x1="100.40" y1="1456.20" x2="102.90" y2="1456.20" stroke="#444" stroke-width="1"/>
<text x="79.93" y="1461.20" font-family='"Liberation Sans", sans-serif' font-size="14" fill="#000">5.0</text>
<line x1="100.40" y1="1358.40" x2="102.90" y2="1358.40" stroke="#444" stroke-width="1"/>
<text x="80.00" y="1363.40" font-family='"Liberation Sans", sans-serif' font-size="14" fill="#000">7.5</text>
<line x1="100.40" y1="1260.60" x2="102.90" y2="1260.60" stroke="#444" stroke-width="1"/>
<text x="72.16" y="1265.60" font-family='"Liberation Sans", sans-serif' font-size="14" fill="#000">10.0</text>
<text x="107.88" y="1199.60" font-family='"Liberation Sans", sans-serif' font-size="22.8" fill="#000">MSE=0.035</text>
<text x="108.26" y="1232.20" font-family='"Liberation Sans", sans-serif' font-size="22.8" fill="#000">COR=0.987</text>
<text x="143.15" y="1628.50" font-family='"Liberation Sans", sans-serif' font-size="28.8" fill="#000" textLength="293.90" lengthAdjust="spacingAndGlyphs">Colon Sample 1 GEP</text>
<text transform="translate(64.00,1518.60) rotate(-90)" x="-1.54" y="0" font-family='"Liberation Sans", sans-serif' font-size="32.8" fill="#000" textLength="291.07" lengthAdjust="spacingAndGlyphs">Colon Sample 1 REP</text>
<path d="M657.0 1508.4 656.0 1508.7 655.0 1509.9 655.2 1511.7 657.0 1512.7 658.0 1512.4 659.0 1511.2 658.7 1509.4ZM712.5 1448.4 710.7 1449.4 710.5 1450.9 711.7 1452.4 712.7 1452.7 714.5 1451.7 714.7 1449.9 713.7 1448.7ZM781.0 1370.7 780.0 1371.9 780.2 1373.4 782.0 1375.2 784.5 1375.2 786.0 1372.9 785.7 1371.4 784.0 1370.4ZM803.0 1342.2 802.0 1342.4 801.0 1343.7 801.2 1345.2 803.0 1346.2 804.0 1345.9 805.0 1344.7 804.7 1343.2ZM789.0 1332.2 787.2 1331.9 785.5 1332.9 785.2 1334.4 786.2 1335.7 786.7 1338.2 786.2 1338.7 784.5 1338.7 783.5 1339.7 783.2 1341.4 781.7 1343.4 780.5 1342.9 779.2 1343.2 778.0 1344.4 776.7 1342.7 774.5 1342.7 773.5 1343.9 773.5 1345.9 771.5 1345.7 768.7 1346.2 766.2 1348.9 765.5 1346.2 764.7 1345.4 762.7 1345.4 761.5 1346.9 761.7 1349.9 762.7 1351.2 765.5 1351.2 766.2 1352.7 762.7 1352.2 761.2 1352.7 759.7 1354.4 760.0 1357.7 758.5 1358.7 757.0 1358.7 754.2 1361.4 753.0 1360.2 750.7 1360.2 749.0 1362.2 748.7 1363.7 750.0 1365.2 751.2 1365.7 748.7 1366.2 747.7 1367.4 747.7 1368.9 746.5 1367.7 744.2 1367.7 743.2 1368.9 743.0 1370.4 741.7 1370.2 740.0 1371.2 739.7 1373.2 736.7 1376.9 735.2 1374.9 732.7 1374.2 730.2 1374.9 729.5 1375.7 729.2 1377.9 728.2 1376.9 726.2 1376.9 725.2 1378.2 724.5 1383.2 720.2 1387.7 718.0 1387.9 717.2 1388.7 717.2 1390.7 715.7 1391.7 715.2 1393.4 713.2 1392.7 711.2 1393.9 709.7 1394.2 706.2 1397.9 706.0 1399.4 706.5 1400.2 705.5 1401.2 705.0 1402.9 704.0 1402.9 704.5 1400.9 704.2 1399.4 703.5 1398.7 701.5 1398.7 700.2 1399.7 699.7 1401.2 697.0 1401.4 696.2 1402.2 696.0 1404.9 697.2 1406.7 697.0 1407.2 695.0 1407.2 694.0 1408.2 692.0 1407.2 689.2 1407.9 688.0 1409.4 687.7 1412.7 689.7 1414.7 688.2 1415.2 686.5 1417.9 684.7 1417.9 682.2 1420.2 682.0 1423.2 680.2 1424.2 679.7 1425.7 677.2 1422.9 674.7 1422.9 673.7 1424.2 673.7 1426.2 674.2 1426.9 673.7 1427.7 674.0 1430.4 673.2 1429.7 671.2 1429.7 669.2 1431.9 669.0 1432.9 666.2 1434.9 666.0 1436.4 666.5 1437.2 666.0 1437.7 664.7 1435.9 662.5 1435.9 661.5 1437.2 661.5 1438.2 662.5 1439.7 662.2 1440.2 659.5 1439.4 657.7 1440.4 657.5 1441.9 658.7 1443.4 658.5 1443.9 657.2 1443.4 656.2 1443.7 655.0 1445.9 654.0 1444.7 653.0 1444.4 651.0 1445.7 648.5 1449.2 648.2 1450.9 648.7 1451.7 646.2 1453.9 645.7 1456.2 645.0 1455.4 643.0 1455.4 640.7 1457.7 640.5 1459.7 638.2 1459.7 637.5 1460.4 636.2 1460.4 635.2 1461.4 635.2 1463.2 633.5 1464.2 633.2 1465.7 636.0 1468.7 635.7 1469.9 634.7 1470.2 633.5 1471.9 632.7 1471.2 630.5 1471.2 629.5 1472.2 628.7 1474.2 626.7 1474.2 624.0 1475.9 623.5 1478.4 625.2 1481.7 623.5 1481.9 620.2 1485.4 619.7 1488.9 619.2 1489.4 615.2 1489.4 613.7 1491.2 613.5 1492.9 615.5 1495.2 615.2 1495.7 612.7 1495.2 611.7 1495.4 610.2 1496.9 610.0 1499.7 608.7 1501.2 609.0 1502.4 606.5 1504.9 606.5 1505.9 607.7 1507.4 606.5 1508.2 604.7 1508.2 604.0 1508.9 603.5 1511.2 603.7 1512.9 602.2 1513.9 602.0 1515.2 600.2 1516.7 599.0 1520.9 599.5 1522.9 598.5 1523.2 597.2 1524.7 597.7 1527.2 595.7 1529.4 596.2 1531.2 595.7 1533.4 594.7 1534.7 594.7 1537.9 595.7 1539.4 595.5 1540.7 596.5 1541.9 597.7 1542.4 598.0 1543.9 599.0 1545.2 602.2 1546.2 604.2 1544.9 609.2 1544.2 610.2 1542.2 612.0 1541.7 613.5 1539.4 619.7 1538.2 620.7 1536.9 620.5 1535.2 621.0 1534.7 623.0 1534.9 626.2 1533.9 628.2 1533.9 629.5 1532.2 631.7 1531.9 633.0 1530.4 632.0 1527.2 633.7 1527.7 635.2 1527.4 636.2 1526.2 636.5 1524.7 639.2 1524.4 640.5 1522.7 639.7 1519.9 641.0 1520.2 642.7 1519.2 643.2 1520.9 644.7 1522.4 647.2 1522.4 648.2 1521.2 648.5 1518.9 647.0 1516.7 649.2 1514.4 651.0 1514.4 651.7 1513.7 652.2 1508.7 655.0 1507.2 655.2 1505.2 657.2 1504.9 658.5 1503.2 660.0 1502.4 660.5 1500.7 662.7 1500.7 664.0 1498.7 665.2 1498.4 666.5 1496.7 666.0 1494.9 668.5 1493.4 669.2 1491.4 671.2 1494.7 673.2 1494.9 675.2 1493.7 675.5 1491.4 673.7 1489.9 674.7 1487.2 673.0 1485.2 675.7 1484.2 679.0 1483.9 680.5 1482.2 681.0 1480.4 682.0 1481.7 683.2 1481.9 687.5 1479.2 687.5 1476.9 685.7 1474.7 683.5 1474.7 683.5 1473.2 685.7 1474.2 686.7 1473.9 689.2 1471.9 689.7 1469.4 692.5 1469.9 694.2 1468.9 694.7 1467.4 696.2 1468.2 697.5 1467.7 698.7 1468.2 700.7 1466.9 700.7 1464.4 700.0 1463.7 698.0 1463.7 696.7 1462.9 698.7 1461.7 698.7 1459.4 700.0 1458.9 701.2 1460.7 703.0 1460.9 704.0 1460.7 705.2 1459.2 705.2 1458.2 704.2 1456.9 702.0 1456.9 701.5 1456.4 701.2 1454.7 704.0 1454.7 705.7 1453.4 707.0 1454.9 708.0 1455.2 709.7 1454.2 709.7 1451.9 707.7 1450.7 709.5 1448.2 708.7 1445.7 710.7 1446.9 712.7 1446.9 715.0 1444.7 715.0 1443.4 714.2 1442.4 715.7 1440.4 715.2 1438.7 715.7 1438.2 717.2 1438.9 719.2 1438.2 722.0 1438.2 723.0 1436.9 722.5 1433.4 723.5 1432.9 725.5 1434.2 728.2 1432.7 730.5 1428.9 730.5 1425.4 729.5 1424.2 729.7 1422.2 730.2 1422.2 731.5 1424.2 732.5 1424.4 733.7 1424.2 735.2 1422.9 736.7 1424.9 737.7 1425.2 739.7 1424.9 740.5 1424.2 740.7 1422.7 739.7 1421.4 737.5 1420.9 735.7 1421.9 734.7 1420.4 735.0 1419.9 738.0 1419.4 738.7 1418.7 738.7 1413.7 742.0 1413.4 742.0 1413.9 740.0 1414.9 739.7 1416.7 741.2 1418.4 743.5 1418.4 744.5 1417.2 744.7 1415.2 743.7 1413.9 742.7 1413.7 743.7 1413.4 744.7 1412.2 744.2 1410.4 746.2 1409.7 747.7 1410.4 749.0 1410.2 750.0 1408.9 749.5 1406.2 750.5 1404.7 752.0 1403.9 752.2 1402.7 753.5 1402.2 754.7 1400.4 756.2 1400.7 758.7 1399.9 759.7 1398.7 759.2 1394.2 758.2 1392.9 756.7 1392.4 757.7 1390.4 757.7 1389.2 756.2 1387.2 756.7 1386.7 758.2 1388.4 759.2 1388.7 762.7 1388.2 764.5 1385.4 764.0 1382.9 764.7 1382.2 766.7 1385.2 768.7 1385.2 770.5 1383.2 770.7 1381.2 773.2 1378.9 773.2 1377.9 772.5 1376.9 772.7 1374.7 775.5 1375.7 776.5 1375.4 778.5 1373.4 778.2 1371.9 775.7 1370.7 774.2 1368.9 773.5 1368.9 773.2 1368.2 774.2 1367.4 775.5 1368.9 776.5 1369.2 780.2 1368.7 781.2 1367.4 781.2 1365.4 780.2 1363.9 781.7 1363.2 783.2 1363.2 784.0 1362.4 784.7 1358.7 786.7 1358.4 788.0 1356.7 789.5 1358.9 792.0 1359.9 793.0 1359.7 795.0 1357.2 794.5 1355.2 793.2 1353.9 795.0 1353.7 796.2 1351.4 798.7 1351.2 799.5 1350.4 799.7 1348.9 798.0 1347.4 798.0 1345.4 796.7 1344.4 794.0 1344.2 794.7 1343.2 794.7 1342.2 793.0 1340.2 792.0 1339.9 790.7 1340.4 790.2 1339.9 789.7 1338.2 790.5 1337.2 790.5 1336.2 789.7 1335.2 790.0 1333.4ZM775.5 1346.7 777.2 1345.7 778.5 1347.4 780.2 1347.7 781.5 1347.2 783.2 1348.7 782.0 1349.2 780.2 1351.7 779.7 1349.7 778.7 1348.7 776.2 1348.4ZM806.0 1331.2 804.2 1332.2 804.0 1334.4 805.0 1335.7 806.5 1335.9 808.2 1334.9 808.5 1333.2 807.0 1331.4ZM802.7 1328.9 801.0 1327.9 799.2 1328.7 797.2 1325.4 794.2 1324.7 793.2 1324.9 792.2 1326.2 792.2 1327.2 793.5 1329.7 793.2 1331.4 794.0 1332.4 792.0 1332.7 791.2 1333.4 791.2 1335.9 792.0 1336.7 794.2 1336.7 795.2 1335.4 794.5 1332.7 796.2 1333.4 797.2 1333.2 798.7 1330.7 800.0 1331.9 802.0 1331.9 803.0 1330.7ZM799.5 1321.4 799.2 1323.2 800.2 1324.4 804.5 1324.2 805.0 1324.7 803.2 1326.7 803.2 1327.7 804.2 1328.9 806.2 1328.9 807.2 1327.7 808.7 1327.4 809.2 1327.9 808.2 1329.2 808.2 1330.2 809.2 1331.4 812.5 1331.7 814.7 1328.4 814.5 1326.2 812.5 1325.2 810.7 1323.4 808.7 1323.2 806.2 1319.9 804.0 1319.7 802.2 1320.7 800.2 1320.7ZM808.2 1313.9 807.0 1315.7 807.0 1316.9 808.0 1318.2 809.7 1318.4 809.7 1320.4 811.0 1321.7 812.5 1321.7 813.5 1322.9 816.0 1322.9 817.0 1321.7 816.0 1318.9 816.0 1317.2 814.2 1316.2 812.2 1317.4 811.0 1317.4 811.0 1314.7 810.2 1313.9ZM822.2 1312.9 821.2 1314.2 821.5 1315.7 822.5 1316.7 825.2 1316.9 826.2 1315.7 826.0 1313.7 824.2 1312.7ZM821.2 1304.4 820.2 1305.7 820.5 1307.2 822.0 1308.7 824.0 1308.7 825.0 1307.4 824.7 1305.2 823.0 1304.2ZM823.2 1298.2 822.2 1298.4 821.2 1299.7 821.5 1301.2 823.2 1302.2 824.2 1301.9 825.2 1300.7 825.0 1299.2ZM839.2 1295.2 838.2 1296.4 838.5 1297.9 840.0 1299.7 842.2 1299.7 844.0 1297.4 843.7 1295.9 842.0 1294.9Z" fill="#0000FF" fill-rule="evenodd"/><path d="M596 1541h0m0 -4h0m0 0.5h0m0 -2.5h0m0.5 3.5h0m0 -9h0m0.5 3.5h0m0 -3h0m0.5 2h0m0.5 12.5h0m0 -19.5h0m0.5 -0.5h0m0.5 2h0m0 15.5h0m0.5 1.5h0m0.5 -22h0m0.5 -1.5h0m0.5 25h0m0 -26.5h0m0.5 -1h0m0 -1h0m1 28.5h0m0.5 -30.5h0m1.5 -2.5h0m0.5 -3h0m0 3.5h0m0 -2h0m0 33h0m0.5 -2h0m0.5 0h0m0.5 2h0m1 -37.5h0m0 -8h0m0.5 7h0m0.5 35.5h0m0 2.5h0m0.5 -39h0m0.5 44h0m0.5 -46.5h0m1 42h0m0 -49h0m0 -6.5h0m0 9.5h0m0 -9h0m0 11.5h0m0.5 47h0m0.5 -54h0m0 0.5h0m0 45.5h0m0.5 2.5h0m0 -45h0m0.5 -4.5h0m0 51.5h0m0.5 -47h0m0.5 47.5h0m0 -6h0m0 4.5h0m1 -49h0m0.5 -5.5h0m0.5 2.5h0m0 0h0m0 -1.5h0m0.5 -2.5h0m0 9.5h0m0 41.5h0m0 -42h0m0 0h0m0.5 -15.5h0m1 5h0m0 56h0m1 -50.5h0m0 -5.5h0m0 50h0m1.5 -54h0m0 56h0m0.5 -48.5h0m0 -2.5h0m0 -7h0m0 58h0m0.5 -49h0m0 -10h0m0.5 59h0m0.5 -52h0m1 48.5h0m0 0h0m0 6h0m0.5 -56.5h0m1 -5h0m0 -2h0m0 -5.5h0m0 9.5h0m0.5 58.5h0m1 -69.5h0m1 72.5h0m0 -66.5h0m0 -21.5h0m0.5 79.5h0m0 1h0m1.5 -66h0m0.5 63h0m0 -56.5h0m0.5 -2h0m0 55h0m0.5 8h0m0.5 -63h0m0 -2.5h0m0 60.5h0m0 -89h0m0 12.5h0m0 4.5h0m0.5 78h0m0 -68h0m0 -13h0m0 74h0m0 -59h0m0 63h0m0 -64h0m1 -1h0m0 76h0m0.5 -18h0m0.5 -60.5h0m0.5 -11h0m0 -3.5h0m0 13.5h0m0.5 6.5h0m0.5 54.5h0m0 -64.5h0m0 68h0m0.5 -71h0m0 9h0m0.5 -4h0m0.5 6.5h0m0.5 -1h0m0 73.5h0m0 -106h0m0.5 83.5h0m0.5 -68h0m0.5 8.5h0m0.5 61h0m0 3h0m0.5 -78.5h0m0 67h0m0.5 -61h0m0 6h0m0.5 61h0m0.5 7.5h0m0.5 -4.5h0m1 -90h0m0 24h0m0 56h0m0 -0.5h0m0 -55h0m0.5 87h0m0 -20h0m0 -74.5h0m0.5 70.5h0m0.5 1h0m0 5h0m1 -76.5h0m0 5.5h0m0 67h0m0.5 -4.5h0m0 1h0m0 -69h0m1 1h0m0 65h0m0 6.5h0m0.5 -65h0m0 62.5h0m0.5 -93h0m1 23.5h0m0 3.5h0m0.5 -2.5h0m1 63h0m0 -3.5h0m0 2h0m0.5 -63.5h0m0 61h0m0 -61.5h0m0.5 70.5h0m0.5 -72h0m0 67h0m0 -77.5h0m0.5 77.5h0m0 -71.5h0m0 4h0m0 61h0m0 0h0m0.5 -65.5h0m0 -1.5h0m0.5 70.5h0m0.5 -5.5h0m0 5h0m0 -3.5h0m0.5 8h0m0 -69.5h0m0 69.5h0m0 -83h0m0 1h0m0.5 4.5h0m0.5 7.5h0m0 66.5h0m0 -66h0m1 -5.5h0m0 4h0m0 85.5h0m0 -25.5h0m0 -62.5h0m0 68.5h0m0.5 -6h0m0 1h0m0.5 10h0m0 -91h0m0 88h0m1 -2.5h0m0 -67.5h0m0.5 59h0m0 -69h0m0 8h0m0 57.5h0m0 5h0m1 -64.5h0m0 5.5h0m1 -23h0m0 79.5h0m0 -58.5h0m0 -3.5h0m0.5 -7.5h0m0.5 78.5h0m0 -72h0m0 -21.5h0m0.5 85h0m0 -3.5h0m0 6h0m0.5 -4.5h0m0 9.5h0m0.5 -68h0m0.5 58h0m0.5 -0.5h0m0.5 -60.5h0m0 -17.5h0m0 77h0m0.5 -62.5h0m0 2h0m0.5 -11.5h0m0 1h0m0.5 85h0m0 -89.5h0m0 81h0m0 -73h0m0.5 75h0m0 -71h0m0.5 -1h0m0 60h0m0 5h0m0 -59h0m0.5 -8h0m0 65.5h0m0.5 -65.5h0m0 -8h0m0 8h0m0 64h0m0 -64.5h0m1 75h0m0 -99h0m0.5 27.5h0m1 60.5h0m0.5 -62h0m0 75.5h0m0.5 -11h0m0.5 -65h0m0 -7.5h0m0.5 65.5h0m0.5 -77h0m0.5 80h0m0.5 -8h0m0 3.5h0m0.5 6.5h0m0 -74h0m0 8.5h0m0 59h0m0 -0.5h0m0 -62.5h0m0 1.5h0m0.5 3.5h0m0.5 2h0m0 57.5h0m0 1h0m0 -69.5h0m0.5 4h0m0 77h0m0 -15h0m0 -63h0m0 1h0m0 59h0m0.5 -66h0m1 8.5h0m0.5 -16h0m0 82h0m0 -8.5h0m0 8.5h0m0.5 -70h0m0 -1h0m0.5 61h0m0.5 -59h0m0.5 -23h0m0.5 86h0m0 -61h0m0 -22h0m0 15.5h0m0.5 0.5h0m0.5 54.5h0m0 -55.5h0m0 55.5h0m0 15.5h0m0.5 -68h0m0 59.5h0m0 -59.5h0m0.5 -4h0m0 65.5h0m0 2h0m0 -60.5h0m0.5 -2h0m0.5 -6.5h0m0 68h0m0 -73.5h0m0.5 65.5h0m0 5h0m0 -69h0m0.5 61h0m0 12h0m0 -65h0m0 102.5h0m0 -46h0m0 -56h0m0 -4h0m0.5 61h0m0 17h0m0 -8.5h0m0.5 -77.5h0m0.5 76.5h0m0 -11.5h0m0.5 -58h0m0 -8.5h0m0.5 71.5h0m0.5 -72h0m0 7h0m0 57h0m0.5 -52.5h0m0 -21h0m0.5 20.5h0m0 -4h0m0 63h0m0.5 -64h0m0 -1.5h0m0 62h0m0 -63h0m0.5 -15.5h0m0.5 83h0m0.5 4.5h0m0 -79.5h0m0 13h0m0 58.5h0m0.5 13h0m0 -17.5h0m0.5 -60.5h0m1 5h0m0 54.5h0m0 -64h0m0 66h0m0.5 -0.5h0m0 37.5h0m0.5 -34h0m0.5 -69.5h0m0 83h0m1 -78h0m0.5 63.5h0m0 -58.5h0m0 -20h0m0 74h0m1 10.5h0m0 -73h0m0 -2h0m0.5 56.5h0m0 1.5h0m0.5 10.5h0m0 4.5h0m0 -76h0m0.5 7h0m0 55h0m0 -59h0m0.5 62h0m0.5 2h0m0 1.5h0m0 -72h0m0.5 80h0m0 -19h0m0.5 20.5h0m0 14h0m0 -92h0m0.5 65.5h0m0.5 -65h0m0 59.5h0m0.5 19.5h0m0 -89.5h0m0 7h0m0.5 58h0m0 0h0m0.5 -52h0m0 -6.5h0m0 4.5h0m0.5 59.5h0m0 -64.5h0m0 3.5h0m1 77h0m0 -19.5h0m0.5 1.5h0m0 -62.5h0m0.5 69h0m0 -11.5h0m0 31h0m0 -31h0m0 -67.5h0m0.5 -31h0m0 30h0m0 10h0m0 -4.5h0m0 5h0m0 63.5h0m0.5 -57h0m0 -3h0m0.5 0h0m0.5 -12.5h0m0 65h0m0 -5.5h0m0 47.5h0m0 -46.5h0m0 34h0m0.5 -96h0m0 67h0m0 3h0m0 4h0m0 1.5h0m0 6h0m0.5 17.5h0m0 -86h0m0 -34.5h0m0 18.5h0m0.5 66.5h0m0 -54h0m0 63.5h0m0.5 -64.5h0m0 60.5h0m1 -58.5h0m0 50h0m0.5 -60.5h0m0 64h0m0 -65.5h0m0.5 65h0m0 2.5h0m0.5 -4h0m0 -55.5h0m0 65.5h0m0 -10h0m0 1h0m0.5 4h0m0 -60h0m0 0h0m0.5 51.5h0m0 -50h0m0 -4.5h0m0.5 62h0m0 -60h0m0 71.5h0m0 -21h0m0.5 9h0m0 -11.5h0m0 0h0m0.5 -49h0m0 -2.5h0m0 60.5h0m0 -3.5h0m0 9h0m0.5 -9h0m0 -64h0m0.5 -4h0m0 15.5h0m0.5 -4.5h0m0.5 57h0m0 -3.5h0m0 2.5h0m0 -50.5h0m0 0h0m0 -7.5h0m0.5 63.5h0m0 -59.5h0m0 53h0m0 0.5h0m0 -63h0m0 69.5h0m0.5 -11.5h0m0 6.5h0m0 -55h0m0.5 -1h0m0 1h0m0.5 1.5h0m0.5 50h0m0 -60.5h0m1 -5h0m0 7h0m0 0.5h0m0 54.5h0m0.5 -57.5h0m0 5h0m0 57.5h0m0.5 -0.5h0m0 1h0m0.5 -64h0m0 56.5h0m0 -72h0m0 111.5h0m0 -87.5h0m0.5 0.5h0m0.5 49.5h0m0.5 -60.5h0m0.5 -6.5h0m0 21.5h0m0.5 -14.5h0m0 60.5h0m0.5 -52.5h0m0 -8h0m0.5 56h0m0.5 33.5h0m0 -33.5h0m0 2h0m0.5 -51.5h0m0 -2.5h0m0.5 -2h0m0 71h0m0.5 -75h0m0 57h0m0.5 -54h0m1 44h0m0 1h0m0 7.5h0m0.5 -2h0m0.5 -13h0m0 -40h0m0.5 50h0m0.5 -55h0m0 7h0m0.5 59.5h0m0 -53h0m0.5 38h0m0.5 3.5h0m0 -3h0m0 18.5h0m0.5 -26h0m0 -40h0m0 49.5h0m0.5 14.5h0m0.5 -18h0m0 13h0m0 -61.5h0m0 -3h0m0.5 -3h0m0.5 9.5h0m0 -16h0m0.5 62h0m0 0.5h0m0 -4h0m0 4h0m0.5 -45.5h0m0 -8h0m0 61.5h0m0.5 -2.5h0m0 -6.5h0m0.5 6.5h0m0.5 -9.5h0m0 -3.5h0m0.5 1.5h0m0 7.5h0m0 -10h0m0.5 8h0m0.5 -4h0m0 -53h0m0.5 10.5h0m0 -10h0m0.5 -6.5h0m0 11.5h0m0 41.5h0m0.5 10.5h0m0 1h0m0.5 31h0m0 -98.5h0m0 59.5h0m0.5 -45.5h0m0 2h0m0 -0.5h0m0 48h0m0 -63.5h0m0 13.5h0m0 47h0m1 -4.5h0m0 3h0m0.5 -49.5h0m0.5 -2.5h0m0.5 2h0m0 9.5h0m0 50h0m0 -6.5h0m0.5 -4.5h0m0 -1h0m0 -57.5h0m0 -20.5h0m0 49h0m0 28.5h0m0 2.5h0m0 1h0m0.5 -1h0m0 -56.5h0m0 11.5h0m0 -37.5h0m0.5 36.5h0m0 44h0m0 -3.5h0m0 -53h0m0 26h0m0.5 32.5h0m0 -48h0m0 -4h0m0.5 5h0m0 1.5h0m0.5 -11.5h0m1 5h0m0 3.5h0m0 8.5h0m0 42h0m0 -7h0m0.5 -47.5h0m0 5h0m0 -4h0m0 -21h0m0.5 65h0m0 -2h0m0 -21h0m0.5 37.5h0m0 -39h0m0 -13.5h0m0.5 -5.5h0m0 -0.5h0m0 -3.5h0m0 35.5h0m0.5 -44.5h0m0 58h0m0 -41.5h0m0.5 -18h0m0 15h0m0.5 -11h0m0 50.5h0m0 -42h0m1 -2.5h0m0.5 3h0m0.5 -4h0m0.5 -9.5h0m0 56h0m0.5 -46h0m0 -5h0m0 3.5h0m0.5 55h0m0 -53.5h0m0 -10.5h0m0 54h0m0 -46.5h0m0.5 31.5h0m0 0.5h0m0.5 -38h0m0 1.5h0m0 41h0m0 -30.5h0m1 28.5h0m0 11.5h0m0 -47.5h0m0 50.5h0m0.5 -2h0m0 -13.5h0m0.5 -29.5h0m0.5 35.5h0m0 1.5h0m0.5 -2.5h0m0 -5.5h0m0 -0.5h0m0.5 -1h0m0 11.5h0m0 -35.5h0m0 30.5h0m0.5 0h0m0.5 -2h0m0 10h0m0 -52h0m0.5 -2h0m0 44h0m0 -36.5h0m0.5 37h0m0 -1.5h0m0 -33h0m0.5 -14h0m0 47.5h0m0 -37h0m0.5 -3h0m0 53h0m0.5 -16.5h0m0 -5h0m0.5 5h0m0 -40.5h0m0 6.5h0m0 -4.5h0m0 30h0m0 -28.5h0m0.5 34.5h0m0 -38h0m0.5 -0.5h0m0.5 48.5h0m0 -48h0m0 18.5h0m0 -17.5h0m0 -10.5h0m0.5 43.5h0m0 -42.5h0m0 15h0m0.5 -8.5h0m0 -1h0m0 37h0m0 -39h0m0 35.5h0m0 -27.5h0m0.5 35h0m0 -23.5h0m0 30.5h0m0 3h0m0 8.5h0m0.5 -62.5h0m0.5 42h0m0 11.5h0m0 -27.5h0m0 22h0m0.5 -40h0m0 18h0m0.5 18h0m0 0.5h0m0 -33h0m0 31h0m0 -55.5h0m0.5 38h0m0 -26h0m0 6h0m0.5 -2h0m0.5 3.5h0m0 18.5h0m0 16.5h0m0.5 -50.5h0m0.5 57h0m0 -47.5h0m0.5 2.5h0m0 31.5h0m0 -92.5h0m0 85h0m0 8.5h0m0.5 -43h0m0 13.5h0m0 27h0m0.5 11h0m0 -6.5h0m0 -10.5h0m0.5 -11.5h0m1 -16.5h0m0 1h0m0.5 29h0m0 8h0m0 -43.5h0m0 12.5h0m0.5 1h0m0 -4h0m0.5 1.5h0m0 31h0m0 -44h0m0.5 36h0m0 6h0m0 1h0m0.5 -37.5h0m0 3h0m0 26.5h0m0.5 -24h0m0 1.5h0m0 -13h0m0 0h0m0 51.5h0m0.5 -11h0m0 -45h0m0 22h0m0 -16.5h0m0 47h0m0.5 -49.5h0m0 42h0m0 1h0m0 -31.5h0m0.5 4h0m0 34h0m0 -12h0m0 -6h0m0.5 -26h0m0.5 31.5h0m0 -25h0m0.5 7h0m0 -3h0m0.5 19h0m0 -35h0m0.5 46.5h0m0 -30.5h0m0 -2.5h0m0 18.5h0m0.5 -31h0m0 39.5h0m0.5 2h0m0 -4.5h0m0 -33h0m0 -7h0m0 10h0m0 29.5h0m0.5 -16.5h0m0 -13h0m0.5 -5h0m0 16.5h0m0 24h0m0.5 -11.5h0m0 -24h0m0 30h0m0 -7h0m0 -30h0m0 28h0m0 0h0m0.5 -16.5h0m0 7h0m0 15.5h0m0 3.5h0m0 -2h0m0 4.5h0m0.5 -32h0m0 16h0m0 26h0m0 -33h0m0 25.5h0m0.5 -32h0m0 21.5h0m0 -29.5h0m0 13.5h0m0.5 19.5h0m0 5h0m0.5 -44.5h0m0 30h0m0 -24h0m0 -9.5h0m0.5 38h0m0 -19h0m0 0h0m0.5 -16.5h0m0 7.5h0m0 -1h0m1 3.5h0m0 12h0m0 16h0m0 -26.5h0m0 20.5h0m0.5 2h0m0.5 -22.5h0m0 25h0m0 -22.5h0m0 -7.5h0m0 1h0m0 36h0m0.5 -30.5h0m0 18.5h0m0.5 -57.5h0m0 36h0m0 6.5h0m1 -21h0m0.5 14.5h0m0 -13.5h0m0 22.5h0m0.5 -28.5h0m0.5 42h0m0 -5.5h0m0 -19.5h0m0 5h0m0 -8h0m0.5 -8h0m0 10h0m0 25h0m0 -23h0m0 5h0m0 -17h0m0 37.5h0m0 -1h0m0.5 -43.5h0m0 39.5h0m0.5 -28.5h0m0 7h0m0 30.5h0m0 -7.5h0m0.5 -31h0m0 11.5h0m0 -9h0m0 8h0m0.5 -5h0m0 -8.5h0m0 34h0m0 -25.5h0m0 -26.5h0m0 37.5h0m0 10h0m0 0.5h0m0.5 -10.5h0m0 -4.5h0m0 -3h0m0.5 -9h0m0 -6h0m0 25.5h0m0 -27h0m0.5 24.5h0m0 -3.5h0m0.5 -7h0m0 2.5h0m0 30h0m0 -18h0m0 -8.5h0m0.5 -8h0m0 -21h0m0 22.5h0m0.5 34.5h0m0 -37.5h0m0.5 -3h0m0 -12h0m0 32h0m0 -37h0m0 32.5h0m0 8.5h0m0.5 0h0m0 -16.5h0m0 15.5h0m0.5 -5.5h0m0.5 -3h0m0 12.5h0m0 -28h0m0 14h0m0 -9h0m0 -1h0m0.5 -8.5h0m0 26h0m0 -6h0m0 -19.5h0m0 25h0m0 -22.5h0m0 14h0m0.5 -13.5h0m0 30.5h0m0 -55h0m0.5 49h0m0 -17h0m0 5.5h0m0 -13.5h0m0.5 10h0m0 -7h0m0 2.5h0m0.5 3h0m0 12h0m0 -17.5h0m0 18h0m0.5 -16h0m0 -10.5h0m0 19h0m0 -9.5h0m0 13h0m0.5 2h0m0 -4h0m0 -7h0m0.5 3.5h0m0 -14.5h0m0.5 14.5h0m0 8h0m0 -16.5h0m0 11.5h0m0 7.5h0m1 -4.5h0m0 -12h0m0.5 4h0m0 21.5h0m0 -26.5h0m0.5 -7h0m0 4.5h0m0.5 9.5h0m0 -4.5h0m0.5 3.5h0m0 -16h0m0 5h0m0.5 16.5h0m0 -13h0m0 7h0m0 -4h0m0.5 12h0m0 -25h0m0.5 -1h0m0 22.5h0m0.5 -42h0m0 13h0m0 6h0m0 -15h0m0 3h0m0.5 21.5h0m0 -7h0m0.5 13h0m0 5h0m0 -30h0m0 -5.5h0m0.5 19.5h0m0 -4h0m0 -7.5h0m0 -8h0m0 19.5h0m0.5 5.5h0m0 -18.5h0m0.5 36h0m0 -22h0m0 -7h0m0 -2h0m0 28.5h0m0.5 -4.5h0m0 -5h0m0 -24.5h0m0.5 27h0m0 -31.5h0m0 27.5h0m0 5h0m0 -1.5h0m1 0h0m0 -6h0m0 -9h0m0.5 5.5h0m0 5.5h0m0 3h0m0.5 -9.5h0m0.5 -10.5h0m0 5h0m0 3.5h0m0.5 -17h0m0 14.5h0m0 -4h0m0.5 17h0m0.5 -31.5h0m0.5 12.5h0m0 12h0m0 -12h0m0.5 10h0m0 -6h0m0 1h0m0 17h0m0.5 -32h0m0 15h0m0.5 -0.5h0m0 5.5h0m0 -14h0m0.5 4.5h0m0 20.5h0m0 10.5h0m0.5 -15h0m0 -17.5h0m0.5 5h0m0.5 -0.5h0m0 -14.5h0m0.5 23h0m0 -19h0m0 -15h0m0 17h0m0 -36h0m0.5 54h0m0 -3.5h0m0 -1.5h0m0 4h0m0 -27.5h0m0.5 18.5h0m0.5 4.5h0m0 2.5h0m0 13.5h0m0 -36h0m0 8.5h0m0.5 -18h0m0 26h0m0.5 17.5h0m0 -31.5h0m0 -2h0m0 5.5h0m0.5 2h0m0 0.5h0m0 17.5h0m0 -35.5h0m0.5 10.5h0m0 8h0m0.5 8h0m0 -1.5h0m0 -2h0m1 17h0m0.5 -16h0m0.5 3.5h0m0 2h0m0.5 -11.5h0m0 16h0m0 -17h0m0 -9h0m0 -1.5h0m0.5 9.5h0m0 -3h0m0 10.5h0m0 -2h0m0.5 10.5h0m0 -5.5h0m0 -5h0m0.5 -21.5h0m0 23.5h0m1 -22h0m0 25.5h0m0 -29.5h0m0.5 32h0m0 -2h0m0 8.5h0m0.5 -25h0m0.5 -1h0m0.5 -3h0m0 -0.5h0m0.5 -8.5h0m0 22.5h0m0 1h0m0.5 -8h0m0 12h0m0 -19.5h0m0.5 15h0m0.5 -27.5h0m0 36.5h0m0.5 -3h0m0 2.5h0m1 -17.5h0m0 -3h0m0 -4h0m0.5 16h0m0 -19.5h0m0 21h0m0.5 -26.5h0m0 16.5h0m0.5 5.5h0m0.5 0h0m0 -10h0m1 -22h0m0.5 7.5h0m0.5 19.5h0m0 -5.5h0m0.5 -1h0m0 -0.5h0m0.5 -9h0m0 12.5h0m0.5 9.5h0m0.5 -9.5h0m0.5 -7.5h0m0 -11.5h0m0.5 6h0m0.5 11h0m0.5 -2.5h0m0 -8h0m0.5 3h0m0 -9h0m0 14.5h0m0.5 14.5h0m0 -19.5h0m0.5 -3.5h0m0.5 18h0m0 -39.5h0m0 27.5h0m0 -0.5h0m0.5 14.5h0m0.5 -38.5h0m0.5 13.5h0m0 8h0m0 5h0m0 -6h0m0.5 6h0m0.5 -1.5h0m0.5 -11.5h0m0.5 22.5h0m1 -21h0m0 5.5h0m0 10h0m0.5 -24.5h0m0 20.5h0m0 -9h0m0 1.5h0m0.5 12.5h0m0.5 9.5h0m0 -7h0m0.5 -53h0m0 28h0m0.5 30h0m0.5 -5.5h0m0 2h0m0.5 -9h0m0 -9h0m0 -1h0m0.5 -25h0m0 15h0m0 20h0m1 -6h0m0.5 -9h0m0 -6h0m1.5 14.5h0m0.5 -2.5h0m1 -24h0m2 11.5h0m0.5 6h0m0 -2h0m0.5 15h0m0.5 -32h0m0 2h0m0.5 -14h0m0 28.5h0m1.5 5h0m1 -10.5h0m2.5 -28.5h0m0.5 41h0m1 -4h0m2.5 -30.5h0m0 25h0m2.5 -12.5h0m0.5 -8h0m0 19h0m0 11.5h0m1 -14h0m0.5 -9h0m0.5 -17.5h0m1 13h0m0.5 -13h0m0.5 18.5h0m2 -14.5h0m1 -9.5h0m1.5 13.5h0m0 -5.5h0m3 -14.5h0m0.5 13h0m0 21.5h0m1 -29.5h0m0.5 22h0m0.5 -8.5h0m0.5 7.5h0m4 -15h0m1 2.5h0m0.5 7.5h0m1.5 -8.5h0m5 -9h0m0.5 -0.5h0m1 4h0m1 -14h0m0 -5h0m1.5 14.5h0m1 4h0m0.5 -13h0m1.5 -26.5h0m1.5 34.5h0m0.5 -2h0m0 10.5h0m0.5 -19h0m0.5 8.5h0m0 -11.5h0m0.5 6h0m2 -4h0m0 8.5h0m8.5 -9.5h0m3 -27h0m0.5 30.5h0m0 -17.5h0m1 -3h0m4 -11.5h0m4 3.5h0m3.5 10h0m6.5 -1.5h0" stroke="#0000FF" stroke-width="3.1" stroke-linecap="round" fill="none"/>
<line x1="575.40" y1="1559.04" x2="961.95" y2="1177.60" stroke="#000" stroke-width="1.1"/>
<rect x="575.40" y="1177.60" width="388.40" height="386.70" fill="none" stroke="#707070" stroke-width="1.4"/>
<line x1="670.50" y1="1565.00" x2="670.50" y2="1567.50" stroke="#444" stroke-width="1"/>
<text x="666.62" y="1582.20" font-family='"Liberation Sans", sans-serif' font-size="14" fill="#000">5</text>
<line x1="822.00" y1="1565.00" x2="822.00" y2="1567.50" stroke="#444" stroke-width="1"/>
<text x="813.95" y="1582.20" font-family='"Liberation Sans", sans-serif' font-size="14" fill="#000">10</text>
<line x1="572.20" y1="1465.20" x2="574.70" y2="1465.20" stroke="#444" stroke-width="1"/>
<text x="563.49" y="1470.20" font-family='"Liberation Sans", sans-serif' font-size="14" fill="#000">5</text>
<line x1="572.20" y1="1315.70" x2="574.70" y2="1315.70" stroke="#444" stroke-width="1"/>
<text x="555.65" y="1320.70" font-family='"Liberation Sans", sans-serif' font-size="14" fill="#000">10</text>
<text x="582.28" y="1203.90" font-family='"Liberation Sans", sans-serif' font-size="22.8" fill="#000">MSE=0.103</text>
<text x="582.66" y="1236.50" font-family='"Liberation Sans", sans-serif' font-size="22.8" fill="#000">COR=0.972</text>
<text x="612.51" y="1628.40" font-family='"Liberation Sans", sans-serif' font-size="28.8" fill="#000" textLength="316.01" lengthAdjust="spacingAndGlyphs">Neuron Sample 1 GEP</text>
<text transform="translate(551.20,1529.80) rotate(-90)" x="-2.45" y="0" font-family='"Liberation Sans", sans-serif' font-size="32.8" fill="#000" textLength="309.83" lengthAdjust="spacingAndGlyphs">Neuron Sample 1 REP</text>
<path d="M1127.5 1442.5 1125.7 1443.5 1125.5 1445.0 1126.7 1446.5 1127.7 1446.8 1129.5 1445.8 1129.7 1444.3 1128.5 1442.8ZM1177.5 1400.5 1176.5 1400.8 1175.0 1402.5 1175.5 1405.3 1177.2 1406.3 1179.0 1405.3 1179.5 1403.3 1179.2 1401.5ZM1204.2 1377.8 1203.2 1378.0 1202.2 1379.3 1202.5 1381.0 1204.2 1382.0 1205.2 1381.8 1206.2 1380.5 1206.0 1378.8ZM1313.0 1311.5 1311.2 1312.5 1311.0 1314.0 1312.2 1315.5 1313.2 1315.8 1315.0 1314.8 1315.2 1313.3 1314.0 1311.8ZM1286.0 1302.8 1284.0 1302.8 1282.5 1304.3 1282.2 1305.8 1283.2 1307.0 1285.5 1307.0 1286.7 1305.8 1287.0 1304.0ZM1331.5 1288.8 1330.5 1289.0 1329.5 1290.3 1329.7 1291.8 1331.5 1292.8 1332.5 1292.5 1333.5 1291.3 1333.2 1289.8ZM1343.5 1272.0 1342.2 1272.0 1340.2 1270.8 1338.5 1271.5 1337.5 1272.8 1336.5 1271.5 1334.7 1271.5 1333.5 1270.3 1332.0 1270.0 1331.2 1269.3 1329.2 1269.3 1328.0 1270.8 1328.2 1273.0 1325.7 1273.0 1324.7 1274.3 1326.0 1277.8 1325.5 1278.3 1322.7 1278.0 1321.0 1279.0 1319.2 1282.5 1319.7 1284.3 1319.0 1287.0 1318.0 1285.8 1317.0 1285.5 1316.0 1285.8 1314.7 1287.5 1313.5 1287.0 1311.5 1287.3 1310.0 1286.5 1308.2 1287.5 1308.2 1289.5 1313.2 1293.0 1313.0 1293.5 1311.7 1293.5 1310.5 1295.8 1308.7 1293.5 1306.7 1293.5 1304.5 1296.5 1304.5 1297.8 1305.2 1298.8 1303.5 1300.3 1301.2 1299.3 1300.2 1299.5 1299.0 1301.3 1297.2 1300.3 1295.5 1300.5 1294.2 1302.0 1294.2 1303.0 1295.2 1304.3 1294.7 1306.0 1290.5 1307.3 1289.5 1308.5 1289.7 1310.8 1287.0 1310.8 1285.2 1313.5 1283.0 1313.5 1282.0 1314.8 1282.2 1316.3 1281.2 1318.0 1278.5 1318.0 1274.7 1316.5 1273.5 1316.8 1272.5 1317.8 1272.2 1319.3 1272.7 1321.3 1273.7 1322.5 1272.0 1322.8 1269.7 1326.3 1267.7 1327.8 1267.5 1329.0 1266.0 1330.5 1266.2 1333.0 1264.2 1334.8 1262.5 1332.3 1259.0 1331.5 1257.2 1332.5 1256.7 1334.0 1255.2 1334.0 1253.0 1336.3 1252.7 1337.8 1253.5 1338.8 1253.5 1339.8 1255.2 1341.3 1255.2 1342.3 1253.5 1343.3 1253.0 1345.5 1252.0 1345.0 1252.5 1344.0 1252.2 1342.5 1251.5 1341.8 1249.5 1341.8 1248.2 1343.5 1248.2 1344.8 1250.0 1346.3 1248.7 1347.3 1248.5 1349.0 1247.0 1350.3 1246.0 1349.8 1245.7 1347.3 1244.0 1346.3 1242.0 1347.5 1240.2 1351.0 1238.7 1350.3 1237.2 1350.5 1236.0 1352.0 1236.0 1353.3 1238.0 1356.5 1237.5 1357.0 1235.7 1357.0 1234.5 1359.5 1232.5 1359.5 1231.5 1361.3 1229.7 1362.5 1227.2 1362.5 1226.0 1365.0 1224.7 1365.8 1223.0 1368.0 1223.0 1370.0 1222.5 1370.5 1221.5 1369.8 1221.7 1368.0 1220.7 1366.8 1218.5 1366.8 1217.2 1368.5 1217.5 1370.5 1216.5 1371.8 1216.5 1373.5 1213.0 1374.8 1212.0 1376.0 1212.2 1377.5 1214.0 1378.5 1213.2 1379.0 1211.7 1378.5 1209.2 1379.5 1208.2 1380.5 1208.0 1381.8 1205.2 1383.8 1199.7 1384.8 1198.7 1386.0 1198.7 1387.3 1199.7 1388.5 1201.2 1389.3 1198.7 1389.5 1197.5 1391.8 1196.0 1391.0 1194.5 1391.8 1192.0 1391.5 1191.0 1392.8 1191.2 1394.8 1190.7 1396.3 1190.0 1396.3 1188.7 1398.0 1187.0 1398.0 1186.0 1399.3 1185.7 1400.8 1184.5 1400.3 1182.5 1400.8 1181.5 1401.8 1181.2 1403.3 1182.5 1405.5 1181.0 1408.0 1178.7 1407.8 1176.5 1408.5 1175.0 1410.5 1173.5 1409.8 1172.0 1410.3 1169.5 1412.0 1169.0 1414.3 1167.0 1414.3 1165.7 1416.0 1163.7 1415.0 1162.2 1415.3 1160.2 1418.3 1160.2 1419.8 1158.2 1420.5 1154.0 1425.5 1154.2 1427.3 1156.5 1428.5 1156.0 1429.5 1152.0 1430.5 1150.5 1432.5 1148.2 1431.0 1146.0 1432.0 1145.0 1434.0 1143.0 1435.8 1143.0 1436.8 1144.0 1438.0 1143.2 1439.3 1142.0 1439.3 1142.2 1437.3 1141.0 1435.8 1139.0 1435.8 1137.2 1438.3 1137.5 1440.3 1136.5 1441.5 1136.5 1442.8 1137.5 1444.0 1138.7 1444.3 1140.5 1443.8 1140.0 1445.8 1138.2 1444.8 1137.2 1445.0 1135.7 1446.8 1133.7 1446.8 1132.5 1448.0 1130.2 1448.0 1129.2 1449.3 1129.0 1451.0 1127.5 1450.5 1125.5 1451.8 1125.2 1453.3 1126.2 1454.5 1125.2 1455.8 1125.5 1457.5 1124.2 1459.0 1122.5 1459.0 1121.2 1461.5 1119.7 1462.5 1117.7 1462.5 1115.5 1465.3 1113.7 1465.3 1111.7 1464.0 1110.0 1465.0 1110.2 1469.5 1113.7 1471.3 1113.2 1471.8 1108.2 1470.0 1106.5 1471.0 1106.2 1472.5 1107.2 1473.8 1107.0 1474.8 1105.7 1475.3 1104.0 1477.5 1101.7 1478.8 1101.2 1481.0 1098.7 1481.5 1097.7 1482.8 1097.7 1483.8 1098.7 1485.0 1101.2 1485.0 1101.5 1485.8 1101.0 1486.3 1099.2 1486.0 1097.0 1486.8 1094.7 1488.5 1094.2 1490.0 1092.7 1489.5 1091.0 1490.5 1090.2 1491.8 1090.5 1494.8 1091.5 1496.0 1093.0 1496.8 1092.0 1497.3 1089.2 1497.0 1087.5 1498.0 1085.7 1501.5 1085.7 1502.8 1086.5 1503.8 1086.5 1506.0 1084.7 1506.8 1083.7 1508.0 1083.0 1508.0 1082.0 1509.3 1081.7 1511.0 1080.7 1511.3 1079.7 1512.5 1080.5 1517.3 1077.2 1517.3 1075.2 1519.5 1075.2 1521.8 1076.0 1522.5 1077.5 1522.5 1078.0 1523.5 1075.7 1524.0 1075.0 1524.8 1074.5 1527.3 1073.5 1528.8 1073.5 1530.3 1071.5 1532.5 1072.5 1536.3 1071.2 1537.8 1070.7 1540.0 1071.7 1544.3 1071.2 1546.0 1072.2 1547.3 1074.2 1547.5 1072.0 1550.0 1072.0 1551.0 1073.0 1552.3 1075.0 1552.3 1076.0 1551.0 1078.2 1551.0 1079.2 1550.0 1081.0 1550.8 1082.0 1550.5 1083.5 1548.8 1086.5 1547.3 1088.0 1545.5 1090.2 1547.0 1092.0 1546.0 1092.5 1544.3 1093.5 1544.5 1095.5 1543.5 1096.5 1544.3 1098.5 1544.3 1099.5 1543.3 1099.7 1541.8 1098.2 1540.0 1099.5 1539.5 1101.0 1540.3 1102.2 1540.0 1103.7 1538.3 1103.5 1536.8 1101.7 1535.8 1104.7 1533.5 1107.7 1533.0 1108.7 1531.8 1108.5 1530.5 1110.0 1529.5 1111.2 1530.0 1112.2 1529.8 1113.2 1528.5 1113.2 1527.5 1112.5 1526.5 1113.0 1525.5 1114.0 1526.5 1116.5 1526.5 1118.0 1524.8 1118.5 1521.5 1119.2 1520.8 1120.5 1521.3 1121.5 1521.0 1122.7 1519.0 1124.7 1518.0 1124.7 1516.3 1126.2 1514.8 1125.7 1512.5 1127.0 1511.0 1128.2 1512.5 1129.2 1512.8 1130.7 1512.5 1132.0 1510.8 1133.2 1511.3 1134.2 1511.0 1135.7 1509.3 1135.5 1507.3 1138.2 1504.3 1137.5 1501.8 1139.2 1501.5 1140.5 1504.0 1141.7 1504.3 1143.5 1503.3 1143.5 1501.3 1142.7 1500.5 1140.7 1500.3 1141.0 1498.3 1143.0 1498.5 1146.2 1497.8 1147.2 1496.8 1147.5 1495.0 1149.0 1493.3 1150.0 1490.8 1152.5 1491.8 1154.0 1491.5 1155.2 1489.8 1155.0 1488.3 1156.0 1487.0 1156.0 1486.0 1158.7 1485.0 1159.7 1483.8 1159.5 1482.3 1161.2 1481.5 1163.2 1479.5 1163.2 1477.0 1165.0 1475.3 1164.7 1473.8 1166.7 1473.3 1167.5 1472.5 1169.0 1472.5 1169.7 1471.8 1170.5 1468.3 1172.2 1466.5 1172.0 1464.3 1173.2 1464.0 1174.5 1465.8 1178.7 1466.0 1180.0 1464.8 1180.2 1463.0 1182.5 1460.5 1182.0 1458.3 1182.7 1457.0 1182.5 1455.3 1185.2 1455.0 1186.7 1453.3 1188.7 1452.3 1189.0 1450.8 1191.0 1449.5 1191.2 1446.3 1192.5 1444.8 1195.2 1444.8 1197.0 1443.8 1197.2 1442.3 1200.0 1439.3 1199.7 1437.5 1201.5 1436.5 1201.5 1434.8 1202.5 1433.3 1204.0 1435.3 1206.0 1435.3 1207.0 1434.0 1206.5 1431.0 1207.7 1430.8 1208.7 1429.8 1212.0 1430.0 1215.0 1427.8 1215.7 1425.0 1216.7 1424.8 1218.0 1423.3 1218.0 1422.0 1216.7 1420.5 1214.2 1420.8 1213.7 1420.3 1215.0 1417.0 1215.7 1416.3 1217.2 1416.5 1217.7 1418.0 1219.5 1419.0 1222.5 1418.5 1224.7 1416.8 1225.2 1414.8 1223.0 1412.5 1225.7 1410.5 1226.0 1409.0 1225.0 1407.8 1223.5 1407.3 1223.7 1406.5 1225.7 1406.3 1227.0 1404.5 1228.2 1405.8 1230.2 1405.8 1232.0 1403.5 1232.0 1402.3 1231.0 1400.5 1234.0 1398.8 1234.7 1396.5 1236.5 1397.5 1240.0 1396.0 1243.5 1396.0 1244.7 1394.3 1244.7 1393.0 1243.7 1391.8 1242.7 1391.5 1243.2 1389.5 1242.2 1388.0 1243.7 1386.5 1245.2 1387.3 1246.2 1387.0 1247.5 1385.5 1248.2 1386.3 1250.2 1386.3 1252.0 1383.0 1254.2 1384.0 1256.0 1383.0 1256.2 1381.5 1254.5 1378.5 1253.5 1378.3 1251.5 1379.3 1249.7 1377.8 1250.7 1377.0 1252.5 1377.8 1254.7 1377.3 1256.0 1375.3 1258.2 1375.3 1259.5 1373.0 1261.5 1372.8 1262.2 1372.0 1262.5 1370.5 1260.7 1367.5 1261.2 1366.0 1262.2 1365.8 1263.5 1364.3 1263.5 1363.0 1262.5 1361.3 1263.2 1361.0 1263.7 1362.3 1265.7 1364.3 1267.0 1364.5 1269.5 1363.8 1270.7 1361.5 1272.5 1361.3 1274.2 1359.3 1275.0 1355.8 1273.2 1353.8 1274.5 1352.3 1274.5 1351.0 1273.7 1349.8 1277.0 1349.5 1279.2 1347.8 1281.0 1348.3 1282.7 1347.3 1283.7 1344.8 1283.7 1343.5 1282.7 1342.3 1282.7 1340.8 1283.5 1339.8 1284.7 1339.3 1286.0 1340.8 1288.0 1340.8 1290.2 1338.3 1291.0 1336.5 1292.5 1339.0 1294.5 1339.0 1295.2 1338.3 1295.5 1336.8 1294.5 1335.5 1293.7 1335.5 1293.5 1334.8 1295.2 1333.5 1297.0 1331.3 1297.0 1329.5 1296.0 1327.8 1298.2 1328.5 1299.2 1328.3 1300.2 1327.0 1300.2 1326.0 1299.2 1324.8 1300.0 1323.8 1300.0 1322.8 1298.2 1320.5 1298.7 1319.0 1300.2 1318.0 1301.5 1319.8 1303.5 1319.8 1309.0 1314.3 1309.0 1313.3 1307.5 1311.0 1309.7 1310.8 1311.7 1308.3 1313.2 1308.3 1314.7 1306.0 1317.2 1305.8 1318.2 1304.8 1318.2 1302.8 1317.5 1302.0 1316.0 1302.0 1315.7 1300.5 1318.7 1298.3 1319.2 1296.5 1320.2 1297.5 1321.7 1297.5 1322.7 1298.8 1323.7 1299.0 1325.7 1298.0 1326.0 1294.3 1327.0 1294.0 1328.7 1291.8 1328.5 1290.3 1327.0 1289.3 1327.5 1288.5 1327.0 1285.3 1329.2 1285.3 1330.5 1283.0 1331.2 1284.5 1333.2 1285.5 1334.2 1286.8 1338.0 1287.0 1339.0 1285.8 1338.7 1284.5 1340.2 1282.8 1340.0 1281.3 1338.7 1280.0 1340.2 1278.5 1342.2 1280.5 1343.2 1280.8 1344.5 1280.5 1346.0 1279.3 1347.0 1277.8 1347.0 1276.8ZM1346.5 1265.8 1344.2 1265.8 1343.2 1266.8 1342.0 1269.0 1342.0 1270.0 1343.0 1271.3 1345.0 1271.3 1347.2 1268.5 1347.5 1267.0ZM1344.7 1260.3 1343.5 1261.8 1343.7 1263.3 1348.7 1266.3 1348.5 1267.8 1349.0 1269.8 1350.0 1271.0 1352.0 1271.0 1353.2 1269.5 1352.7 1267.8 1353.5 1266.8 1352.5 1263.8 1350.5 1262.5 1350.5 1261.5 1349.5 1260.3ZM1350.2 1254.3 1348.7 1256.0 1349.0 1257.8 1349.7 1258.5 1353.0 1258.8 1354.0 1257.5 1353.5 1255.0 1351.7 1254.0ZM1357.2 1248.3 1357.2 1250.8 1358.2 1251.8 1359.0 1251.8 1360.2 1253.3 1362.2 1253.5 1364.0 1252.5 1364.2 1250.8 1363.0 1249.3 1361.2 1249.3 1360.0 1247.5 1359.0 1247.3ZM1358.7 1241.5 1358.7 1242.8 1360.0 1244.5 1360.2 1246.3 1361.7 1248.0 1363.0 1248.5 1365.5 1248.5 1367.2 1246.0 1368.7 1247.8 1369.7 1248.0 1370.7 1247.8 1371.7 1246.5 1371.7 1245.0 1369.7 1241.3 1365.7 1241.0 1364.5 1242.5 1364.2 1244.3 1363.7 1243.8 1364.0 1242.3 1362.7 1240.5 1360.7 1240.0 1359.7 1240.3ZM1373.7 1232.8 1372.0 1233.0 1371.0 1234.3 1371.2 1236.0 1373.2 1237.3 1374.7 1236.8 1375.7 1235.5 1375.5 1233.8ZM1387.7 1225.0 1386.0 1226.0 1385.7 1227.5 1386.7 1228.8 1388.0 1229.0 1389.7 1228.0 1390.0 1226.5 1389.0 1225.3ZM1404.0 1204.5 1403.0 1204.8 1401.5 1206.5 1401.7 1208.0 1403.5 1209.0 1404.5 1208.8 1406.0 1207.0 1405.7 1205.5ZM1418.5 1184.5 1416.2 1185.0 1415.5 1185.8 1415.2 1187.8 1416.2 1189.0 1418.2 1189.5 1420.0 1188.5 1420.5 1186.0 1419.5 1184.8Z" fill="#0000FF" fill-rule="evenodd"/><path d="M1072 1540.5h0m0 -11.5h0m0 18.5h0m0 -6h0m0.5 0h0m0 -0.5h0m0 9.5h0m0 -7.5h0m0 0h0m0 2.5h0m0 -12h0m0 4.5h0m0 -0.5h0m1 13.5h0m0 -19h0m0 3.5h0m0 -1h0m0.5 17h0m0.5 -2.5h0m0 -20h0m0.5 -0.5h0m0.5 19.5h0m0 -23.5h0m0 28.5h0m0 -25.5h0m0 -5h0m0.5 3h0m0.5 -4.5h0m0 -1.5h0m1 30.5h0m0 3.5h0m0.5 -35.5h0m0 35.5h0m0.5 -39.5h0m0.5 10h0m1 29.5h0m0 0h0m0 -53.5h0m0.5 12.5h0m0 43h0m0 -69.5h0m0.5 64h0m0 -34.5h0m0.5 1.5h0m0.5 31.5h0m0.5 4h0m0.5 -41h0m0 -6h0m0 3.5h0m1 -3.5h0m0 42h0m0 -42.5h0m0 -1h0m0 43.5h0m0.5 -48h0m0.5 8.5h0m2 48.5h0m0 -54h0m0 -5.5h0m0 4h0m0.5 4h0m1 -6.5h0m0 49h0m0 -48h0m0.5 -19h0m0 70.5h0m1 -5.5h0m0.5 11.5h0m0 -10.5h0m0 -48h0m0.5 47h0m0 -56h0m0 57.5h0m0 -54.5h0m0 -13h0m0 71.5h0m0.5 -55.5h0m0 59.5h0m0 -61.5h0m0 -47.5h0m0.5 48.5h0m0.5 -4.5h0m1 -40.5h0m0 94h0m0.5 3.5h0m0.5 -59h0m0 -4.5h0m0.5 64h0m0 -7.5h0m0 -58h0m0.5 2h0m0 6h0m0.5 -0.5h0m0 56h0m0.5 -78h0m0 18h0m0.5 -4h0m0 61.5h0m0.5 -76h0m0 76.5h0m0 -55.5h0m0 56h0m0 -3h0m0.5 -58.5h0m0 58.5h0m0 -63h0m0 60.5h0m0 -65h0m0.5 2h0m0 4.5h0m0 5.5h0m0 50h0m0.5 -51.5h0m0 -2h0m0 60.5h0m2 -3h0m0.5 -4.5h0m0.5 -58.5h0m0 57.5h0m0 2h0m0 1.5h0m0.5 -2h0m0 11h0m0 -8h0m0 -59h0m0 6.5h0m0.5 -12.5h0m0 6h0m0 -4.5h0m0.5 74h0m0 -82h0m0 1h0m0 0h0m0.5 74h0m1 -9.5h0m0.5 4.5h0m0 4h0m0.5 -64.5h0m0.5 55.5h0m0 -64.5h0m0.5 -5.5h0m0 6h0m0 63h0m0.5 -59h0m0 4.5h0m0 -4h0m0.5 3h0m0 -0.5h0m0 -5h0m0.5 -2h0m0 -13.5h0m0.5 8.5h0m0 69h0m0.5 -63h0m0.5 64h0m0 -1h0m0.5 5h0m0 10.5h0m0.5 -75.5h0m0 59.5h0m0 1.5h0m0 -64h0m0 -2.5h0m0 -23h0m0 20.5h0m0 65h0m0 0h0m0.5 -2h0m0 -60h0m0 77h0m0 -15.5h0m0.5 13h0m0.5 -1h0m0 -75h0m0.5 4.5h0m0.5 -33.5h0m0 91.5h0m0 3.5h0m0.5 -83.5h0m0.5 86.5h0m0 -75h0m0 66h0m0.5 22h0m0 -87h0m0 -5h0m0.5 1.5h0m0 11.5h0m0 57h0m0.5 -86.5h0m0.5 27h0m0 58.5h0m0 -1h0m0 0.5h0m0.5 -2h0m0 -118.5h0m0 61.5h0m1 -3.5h0m0 2h0m0.5 64.5h0m0 -60h0m0.5 -14.5h0m0.5 1h0m0 -40.5h0m0.5 41h0m0 1h0m0 64h0m0.5 -63h0m0 1.5h0m0 -2h0m0 -2h0m0 67.5h0m1 6h0m0 -7.5h0m0 -61h0m0.5 0h0m0.5 -9h0m0 -6h0m0 11h0m0.5 71.5h0m0.5 -67h0m0 -3h0m0.5 -11.5h0m0.5 72h0m0 -3h0m0.5 -58.5h0m0 64h0m0 -6h0m0 9.5h0m0 -67.5h0m0 88.5h0m0.5 -33.5h0m0 0h0m0 -52h0m0.5 -72h0m0 69.5h0m0 -14.5h0m0 10.5h0m0 -8h0m0.5 4.5h0m0.5 85h0m0 -15h0m0.5 -67.5h0m0 75h0m0.5 -81h0m0 71.5h0m0 -2h0m0.5 -71h0m0 66.5h0m0.5 -69.5h0m0 72h0m0 -105.5h0m0 105h0m0 -66.5h0m0.5 -8.5h0m0 2.5h0m0.5 -6.5h0m0 78h0m0.5 -90h0m0 27.5h0m0 -27h0m0 29h0m0.5 3.5h0m0 64h0m0 -64h0m0 -5.5h0m0.5 72.5h0m0.5 3h0m0 -123.5h0m0.5 45h0m0.5 69h0m0 -5h0m0 -98.5h0m0 116h0m0.5 -87h0m0 3.5h0m0 80.5h0m0.5 -17h0m0 -83.5h0m0.5 12h0m0 18.5h0m0 -7h0m0 -26.5h0m0 88h0m0 -105h0m0.5 97h0m0 -74.5h0m0 86h0m0.5 9h0m0 -79h0m0 63.5h0m0 -68h0m0.5 -48h0m1 114h0m0 -62h0m0 -30h0m0 35h0m0.5 64.5h0m0.5 -9.5h0m0 -83.5h0m0 -8h0m0 90.5h0m0 -56.5h0m0.5 -5.5h0m0 6.5h0m0.5 -9h0m0.5 70.5h0m0 -102h0m0 25.5h0m0 -1h0m0 69h0m0.5 -105.5h0m0 40h0m0 70h0m0.5 -68h0m0 65.5h0m0.5 0.5h0m0.5 -63.5h0m0 -10h0m0 18.5h0m0 84.5h0m0.5 -93h0m0 7h0m0 0h0m0.5 56h0m0 2h0m0 1.5h0m0.5 5.5h0m0 -73h0m0 -67.5h0m0 128.5h0m0 2.5h0m1 -69.5h0m0.5 73h0m0.5 -139.5h0m0.5 74.5h0m0 58.5h0m0.5 -1h0m0.5 -62.5h0m0 69.5h0m0 -9h0m0.5 -92.5h0m0.5 5h0m0 17.5h0m0 68.5h0m0.5 -60.5h0m0 -26.5h0m0.5 95.5h0m0 -68.5h0m0 58h0m0.5 -60h0m0 -38.5h0m0.5 39h0m0 -28h0m0 27.5h0m0.5 63h0m0 -72.5h0m0 1.5h0m0.5 -14.5h0m0 14.5h0m0 7h0m0 -13.5h0m1 104h0m0 -83h0m0 78h0m0.5 -83.5h0m0 0h0m0 59.5h0m0.5 -0.5h0m0 -62.5h0m0.5 -15.5h0m0 6h0m0.5 8.5h0m0 63.5h0m0.5 -1h0m0 -60.5h0m0.5 58h0m0.5 6.5h0m0.5 -78.5h0m0 10.5h0m0 -14.5h0m0 83h0m0.5 28.5h0m0.5 -26h0m0 -12h0m0 -78h0m0.5 10h0m0 13.5h0m0.5 -7h0m0 0.5h0m0 -21h0m0.5 0h0m0 15h0m0 87.5h0m0 -124h0m0 107h0m0.5 -119h0m0 52.5h0m0 -11.5h0m0.5 74h0m0 -78.5h0m1 115.5h0m0.5 -110.5h0m0 102h0m0 -32h0m0.5 -62h0m0 72h0m0 20h0m0 -103.5h0m0.5 6.5h0m0.5 63.5h0m0.5 -60h0m0 -6.5h0m0 5h0m0 63h0m0 -78h0m0.5 83h0m0.5 -8.5h0m0 -85.5h0m0 85h0m0.5 -63.5h0m0 99h0m0 -93.5h0m0.5 2.5h0m0 59.5h0m0 10.5h0m0 -10h0m0.5 -97h0m0 35.5h0m0.5 -7h0m0.5 62h0m0 -0.5h0m0 -71h0m0 74h0m0.5 -82h0m0 23.5h0m1 -10.5h0m0 9.5h0m0.5 -0.5h0m0 62h0m0 7.5h0m0 -65.5h0m0.5 52.5h0m0 -51h0m0 -66.5h0m0 116.5h0m0.5 -100h0m0 101h0m0 -2.5h0m1 -56.5h0m0 0h0m0 -27.5h0m0 -34h0m0.5 113.5h0m0.5 -63h0m0.5 -1h0m0 72.5h0m0 -6.5h0m0 5h0m0.5 -64h0m0.5 4h0m0 49h0m0.5 57h0m0 -139.5h0m0.5 93.5h0m0 -60.5h0m0 0h0m0.5 51.5h0m0.5 -85.5h0m0 87.5h0m0 -6h0m0.5 16h0m0.5 -6h0m0 -60.5h0m0.5 -3h0m0 101h0m0 -128h0m0 83h0m0 -58h0m0.5 7.5h0m0 -5.5h0m0 5.5h0m0.5 -8.5h0m0 7.5h0m0.5 61.5h0m0 -4.5h0m0.5 -63h0m0.5 6h0m0 -9.5h0m0.5 -4h0m0 -2.5h0m0 11.5h0m0 4h0m0 55h0m0.5 -63h0m0 -14.5h0m0 -16h0m0.5 31.5h0m0.5 59.5h0m0 14.5h0m0 -18.5h0m0.5 2h0m0 -57h0m0.5 54h0m0 9h0m0.5 -77h0m0 72h0m0.5 -53.5h0m0 -8.5h0m0 3.5h0m0.5 1.5h0m0 -7.5h0m1 60.5h0m0.5 1h0m0 21.5h0m0 -77.5h0m0 53h0m0 -56.5h0m0.5 56.5h0m0 -103.5h0m0.5 7h0m0 99.5h0m0.5 -60h0m0 63h0m0.5 -72.5h0m0.5 -45h0m0 56.5h0m0 1.5h0m0 -2h0m0.5 61h0m0 14h0m0 -10.5h0m0 -99h0m0.5 86h0m0 2h0m1 0.5h0m0.5 10h0m0 -10.5h0m0.5 -6.5h0m0 1.5h0m0 1.5h0m0.5 -57.5h0m0 114h0m0 -118h0m0 10h0m0 55h0m0.5 31.5h0m0 -39.5h0m0 -68h0m0.5 0h0m0 -1.5h0m0 16.5h0m0.5 -5.5h0m0 64.5h0m0 35.5h0m0 -106.5h0m0 16h0m0 -4h0m0 2h0m0.5 3h0m0.5 -8h0m0 0h0m0 2h0m0.5 58h0m0 -1.5h0m0.5 -72.5h0m1 72h0m0.5 -57.5h0m0 58h0m0 25.5h0m0 -29h0m0.5 -1h0m0 -51.5h0m0.5 -1h0m0.5 -9h0m0 9h0m0.5 50.5h0m0.5 -62.5h0m0 96.5h0m0.5 -85h0m0 -0.5h0m0.5 50h0m0 -64.5h0m0 69.5h0m0 -52h0m0 -7h0m0 63h0m0 -56h0m0 -1.5h0m0.5 -8.5h0m0 -11h0m0 -3.5h0m0 -14h0m0.5 32.5h0m0 1.5h0m0 47.5h0m0.5 14h0m0.5 -3.5h0m0 -76.5h0m0 64h0m0 -50h0m0 56.5h0m0 -3h0m1 0.5h0m0 -51.5h0m0.5 -4.5h0m1 -2.5h0m0 -31h0m0.5 28.5h0m0 57.5h0m0 36.5h0m0.5 -44.5h0m0 -40.5h0m0.5 49.5h0m0 -54h0m0.5 0.5h0m0 -3.5h0m0 60h0m0.5 5h0m0 -10h0m0.5 4.5h0m0.5 7.5h0m0 -9.5h0m0 -98h0m0 37h0m0.5 56h0m0 -66.5h0m0.5 14h0m0 -21h0m0.5 68h0m0 -44.5h0m0 -1.5h0m0 1.5h0m0.5 1h0m0 -3.5h0m1 54h0m0 -59.5h0m0.5 60.5h0m0 0.5h0m0 -61.5h0m0 73h0m0.5 -13.5h0m0 -60.5h0m0 -4h0m0.5 13h0m0 88.5h0m0 -92.5h0m0.5 56.5h0m0.5 -62.5h0m0 3h0m0 3.5h0m0 42.5h0m0.5 49.5h0m0 -48.5h0m0 18.5h0m0.5 -60.5h0m0.5 40h0m0 10h0m0.5 3h0m0 -5.5h0m0 41h0m0.5 -98.5h0m0 7.5h0m0 -6h0m0.5 -0.5h0m0 53h0m0.5 -42.5h0m0 -43.5h0m0.5 27h0m0 61h0m0.5 -8h0m0.5 7h0m0 -50.5h0m0.5 2h0m0.5 -8h0m0 53.5h0m0 -50.5h0m0 48.5h0m0 0.5h0m0 -48.5h0m0.5 48h0m0 -4.5h0m0 5.5h0m0.5 4.5h0m1 -54.5h0m0 2.5h0m0 -5.5h0m0.5 -8h0m0.5 7.5h0m0.5 52.5h0m0 33.5h0m0 -113.5h0m0 69.5h0m0.5 6h0m0 -7h0m0.5 38.5h0m0.5 -28.5h0m0 -53h0m0 51.5h0m0.5 -46h0m0 -8.5h0m0 55h0m0.5 -44.5h0m0 -18.5h0m0 57h0m0.5 1h0m0 -5h0m0 -46.5h0m0 8.5h0m0.5 38.5h0m0 1.5h0m0.5 -1h0m0 12.5h0m0 -64h0m0 5h0m0 -0.5h0m0 0.5h0m0 -16h0m0.5 63h0m0 1h0m0.5 17h0m0 -59.5h0m0.5 -17h0m0 60.5h0m0 5h0m0 -50h0m0.5 -6.5h0m0 2h0m0 51.5h0m0 4.5h0m0.5 -10.5h0m0.5 -49h0m0.5 -1.5h0m0 57.5h0m0 6.5h0m0 -12h0m0 -4.5h0m0 -41.5h0m0.5 -6.5h0m0 57h0m0 -52h0m0 48h0m0 -67h0m0 64.5h0m0.5 -45.5h0m0 44h0m0 0.5h0m0.5 5.5h0m0 -54.5h0m0 55.5h0m1 -7h0m0.5 13.5h0m0 -62h0m0 2.5h0m0 4h0m0.5 41.5h0m0 -52.5h0m0 48.5h0m0 -49h0m0 48h0m0.5 -0.5h0m0 4.5h0m1.5 -84h0m0 33.5h0m0 51.5h0m0 -11h0m0.5 -38.5h0m0 38.5h0m0.5 -32.5h0m0 -13h0m0 61.5h0m0 -49h0m0 39h0m0 -59.5h0m0.5 66h0m0 9.5h0m0 -10.5h0m0.5 -53h0m1 4.5h0m0 -3h0m0 -3.5h0m0 45.5h0m0 -1h0m0.5 -37h0m0 40.5h0m0.5 -53.5h0m0 3.5h0m0 6.5h0m0 -16.5h0m0.5 64h0m0.5 -9.5h0m1 5h0m0 -7.5h0m0.5 -50.5h0m0.5 13.5h0m0 36h0m0.5 -37.5h0m0.5 41h0m0 -43.5h0m0.5 46.5h0m0 0.5h0m0.5 2.5h0m0 -6h0m0.5 -49h0m0 8.5h0m0 0.5h0m0.5 -17h0m0 53h0m0 -38h0m0.5 51.5h0m0 26h0m0 -32.5h0m0.5 -50.5h0m0 0.5h0m0 44h0m0.5 -6.5h0m0 -35h0m0.5 52h0m0 -53h0m0 0.5h0m0 -4.5h0m0 43.5h0m0.5 3.5h0m0 1h0m0.5 -48.5h0m0.5 -0.5h0m0 -5.5h0m0 13.5h0m0.5 -7h0m0 42h0m0 -52h0m0.5 55h0m0 -41h0m0 69h0m0 -71h0m0 6h0m0 31h0m0 5.5h0m0.5 -37h0m0 0.5h0m0 -5h0m0 41.5h0m0 -46h0m0 -5.5h0m0 9.5h0m0.5 49h0m0 -59h0m0 50h0m0.5 -39h0m0 -15.5h0m0 4h0m0 56h0m0 -42.5h0m0 0h0m0.5 -6h0m0 64.5h0m0 -62h0m0.5 -7.5h0m0.5 41.5h0m0.5 2h0m0 -44.5h0m0.5 6.5h0m0.5 3h0m0 -34h0m0 28h0m0 -1h0m0 43h0m0 4h0m0.5 -61h0m0 53.5h0m0 -1h0m0 -53h0m0 22h0m0 -4h0m0.5 -0.5h0m0 42.5h0m0 -50.5h0m0 1h0m0.5 2h0m0 39.5h0m0.5 -42h0m0.5 10h0m0 0.5h0m1 64h0m0.5 -79.5h0m0 48.5h0m0 11.5h0m0 -54h0m0 63.5h0m1 -20h0m0 -67.5h0m0 65.5h0m0.5 -21h0m0 25.5h0m0 -46.5h0m0 34h0m0.5 0h0m0.5 3h0m1 -8.5h0m0.5 -33.5h0m0 -7.5h0m0 51.5h0m0 1.5h0m0 -19.5h0m0 10h0m0 -37h0m0.5 2.5h0m0 36h0m0 -32h0m0 -5.5h0m1 39h0m0 17.5h0m0 -6h0m0.5 -12.5h0m0 7.5h0m0.5 -6h0m0 6h0m0 -43.5h0m0 31.5h0m0.5 0.5h0m0 -37h0m0 -0.5h0m0.5 3h0m0.5 37.5h0m0 3.5h0m0 6h0m0.5 -50h0m0 -0.5h0m0 7h0m0.5 33h0m0 11h0m0.5 -3.5h0m0 -65.5h0m0 26.5h0m0.5 -14h0m1 11h0m0 -9h0m0 -2h0m0.5 43.5h0m0 1.5h0m1.5 10.5h0m0 -47.5h0m0 40.5h0m0 -39.5h0m0.5 -12h0m0 -4h0m0.5 49.5h0m0 -37h0m0.5 -8.5h0m0 35.5h0m0.5 -28.5h0m0 -11h0m0 46h0m0.5 -38.5h0m0 40.5h0m0 18h0m0 -21.5h0m0 -34.5h0m1 -3.5h0m0.5 34h0m0.5 1.5h0m0 -46h0m0 49h0m0 -42.5h0m0.5 9h0m0.5 44.5h0m0 -18.5h0m0 4.5h0m0 -41h0m0 6.5h0m1 36h0m0 -1.5h0m1 -48.5h0m0 50h0m0.5 -40.5h0m0 37h0m1 -40.5h0m0 -1.5h0m0.5 40.5h0m0 -31h0m0.5 2.5h0m0 -3h0m0 -5h0m0.5 -12h0m0 17h0m0 4h0m0 19.5h0m0 7.5h0m0 -2.5h0m0 -7h0m0.5 11h0m0 -32h0m0.5 25.5h0m0 -51h0m0.5 50.5h0m0 -44h0m0 15.5h0m0 14.5h0m0 0.5h0m0.5 -25h0m0 1h0m0 43h0m0 -34.5h0m0.5 -5h0m0 -9h0m0.5 46.5h0m0 -26.5h0m0 1h0m0.5 -18h0m0 38h0m0 -42.5h0m0 9h0m0 -8h0m0 52.5h0m0.5 -54h0m0 12.5h0m0 31h0m0.5 0h0m0 -0.5h0m0 -36.5h0m0.5 39h0m0 17h0m0 -47.5h0m0.5 33.5h0m0 -1h0m0 -38h0m0.5 3h0m0 -8.5h0m0 27.5h0m0 -18.5h0m0.5 29h0m0 4h0m1 -37h0m0 4.5h0m0 -7h0m0 32.5h0m0.5 -25.5h0m0 -9h0m0 67.5h0m0 -65h0m0.5 1.5h0m0.5 2.5h0m0.5 -1h0m0 0.5h0m0 65h0m0.5 -50h0m0 15.5h0m0.5 -4h0m0.5 -31.5h0m0.5 33.5h0m0 -33.5h0m0 -4h0m0.5 2h0m0 19.5h0m0 -20.5h0m0.5 37.5h0m0 -31h0m0.5 -5h0m0 34.5h0m0 -9.5h0m0 5h0m0.5 -4.5h0m0 -4.5h0m0.5 7.5h0m0 -1h0m0.5 -27.5h0m0 3h0m0 -20h0m0 13h0m0.5 3h0m0.5 10.5h0m0 0h0m0 23h0m0.5 -15.5h0m0 -1h0m0 9h0m0 -6.5h0m0 -36h0m0.5 44h0m0 -4.5h0m0 -3.5h0m0 -6.5h0m0.5 -13.5h0m0 35.5h0m0.5 -13h0m0.5 3h0m0 -32.5h0m0.5 7h0m0 10h0m0 -25h0m0.5 10.5h0m0 26.5h0m0.5 -22.5h0m0 -12h0m0.5 33.5h0m0 -7.5h0m0 5h0m0 -19.5h0m0.5 21.5h0m0 -2h0m0 -25.5h0m0.5 4h0m0 22h0m0 3.5h0m0 -18.5h0m0.5 1.5h0m0 -9.5h0m1 -5.5h0m0 3h0m0.5 22.5h0m0.5 -30h0m0 37.5h0m0.5 -45h0m0.5 18h0m0 -0.5h0m0 14.5h0m0.5 32.5h0m0.5 -48.5h0m0 31.5h0m0 -40.5h0m0.5 7h0m0 20h0m0.5 9.5h0m0.5 -9h0m0 -24h0m0 -0.5h0m0 4.5h0m0.5 30.5h0m0 -28.5h0m0 14h0m0 -22h0m0.5 26h0m0 -14.5h0m0 4h0m0 15.5h0m0 -26.5h0m0.5 -5.5h0m0 23.5h0m0.5 4.5h0m0 -25.5h0m0 27h0m0.5 -31h0m0.5 16.5h0m0.5 -11h0m0 4.5h0m0 -1h0m0 16h0m0 3h0m0.5 0.5h0m0 -1h0m0 -2.5h0m0 -25h0m0 33h0m0.5 -6h0m0 7h0m0 -0.5h0m0 -36h0m0 25h0m0.5 -0.5h0m0 1h0m0 -20h0m0 -5.5h0m0 25h0m1 -3h0m0 -12.5h0m0 7.5h0m0 14h0m0 -33.5h0m0 34.5h0m0 -13h0m0.5 -8h0m1 16.5h0m0 3h0m0 -26.5h0m0.5 -15.5h0m0.5 2.5h0m0 29h0m0 -4.5h0m0 9h0m0.5 -24.5h0m0 12h0m0 12.5h0m0 -21.5h0m0 17.5h0m0 -6.5h0m0.5 -18h0m0 22h0m0 0.5h0m0.5 0h0m0.5 -25h0m0 33.5h0m0 -16.5h0m1 4.5h0m0 -26h0m0.5 27h0m0 -13h0m0 -3h0m0 -9h0m0 -4.5h0m0 15.5h0m0.5 -7h0m0 30.5h0m0 -30.5h0m0.5 4h0m0 4h0m0.5 -5.5h0m0 -7h0m0 0.5h0m0 -3h0m0.5 7.5h0m0 -0.5h0m0.5 20.5h0m0 -1h0m0.5 0h0m0.5 -24h0m0 -7.5h0m0.5 34h0m0 -30h0m0 27.5h0m0 -2.5h0m0.5 2h0m0 -40h0m0 53h0m0 -23h0m0 -1h0m0 -16.5h0m0.5 3h0m0 13.5h0m0 -12.5h0m0.5 15h0m0 -1h0m0.5 -12.5h0m0 17.5h0m0 -33h0m0 16.5h0m0 84.5h0m0 -93h0m0.5 24h0m0.5 -13.5h0m0 -14h0m0 27h0m0 -26h0m0.5 9h0m0.5 -3.5h0m0 -2.5h0m0.5 21h0m0 -6h0m0 0h0m0 6.5h0m0 8.5h0m0 -13h0m0 -21.5h0m0 26.5h0m0 -5.5h0m0.5 -17h0m0 18h0m0 -18h0m0 21h0m0 -15.5h0m0 11.5h0m0 20h0m0.5 -2h0m0 -1h0m0 -11h0m0 -4h0m0.5 -16h0m0 -8h0m0.5 29h0m0 -23.5h0m0 10.5h0m0 -3h0m0 15h0m0.5 -5h0m0.5 7h0m0.5 0.5h0m0 -2.5h0m0 -7.5h0m0 1h0m0 5h0m0.5 -0.5h0m0 -30h0m0 0.5h0m0 0.5h0m0.5 12h0m0.5 17.5h0m0 -29h0m0.5 25.5h0m0.5 -7.5h0m0 1.5h0m0 -16.5h0m0 31.5h0m0 -28h0m0.5 -3h0m0 -11.5h0m0.5 33.5h0m0 -27h0m0 16h0m0.5 -5h0m0 -4h0m0 6h0m0 -11.5h0m0.5 32h0m0 -22.5h0m0 -8.5h0m0.5 11.5h0m0 7.5h0m0.5 12h0m0 -6.5h0m0 2h0m0 -17.5h0m0 31h0m0.5 -34.5h0m0 12h0m0.5 -4.5h0m0 -7.5h0m0.5 15.5h0m0 -25.5h0m0 26h0m0 -13h0m0 17h0m0 -28.5h0m0.5 1h0m0 7.5h0m0 2h0m0 3.5h0m0.5 17h0m0 -30h0m0 38h0m0 -31h0m0 20.5h0m0.5 -15h0m0 -13h0m0.5 26.5h0m0 -18h0m0 -21.5h0m0.5 39h0m0 -20h0m0 14.5h0m0.5 -0.5h0m0 -22.5h0m0.5 8.5h0m0 -1.5h0m0 0h0m0 18.5h0m0 -1.5h0m0 -10.5h0m0 3.5h0m0.5 1.5h0m0.5 -3.5h0m0 4h0m0 -6.5h0m0 -9h0m0.5 6.5h0m0 12.5h0m0 -18.5h0m0.5 23.5h0m0 -22.5h0m0 15.5h0m0 -5.5h0m0.5 -8h0m0 -6h0m0.5 -3.5h0m0 -8h0m0 -3.5h0m0.5 25.5h0m0 10h0m0 -6h0m0 -16h0m0 17h0m0.5 -6h0m0 8h0m0.5 -0.5h0m0 0.5h0m0.5 4.5h0m0 -7.5h0m0 -6.5h0m0 -11.5h0m0.5 5h0m0 17.5h0m0 0.5h0m0.5 -17.5h0m0 13h0m0.5 -10.5h0m0 -4.5h0m0 -5.5h0m0 16h0m0.5 1.5h0m0.5 7h0m0 -20.5h0m0.5 15.5h0m0.5 -13.5h0m0.5 11.5h0m0 -5.5h0m0.5 3h0m0 -14h0m0 4h0m0 -3h0m0 -1h0m0 9.5h0m0.5 -16h0m0 11.5h0m0 2.5h0m0 -5.5h0m0 5.5h0m0.5 -2h0m0 4h0m0.5 -1.5h0m0 -1.5h0m0.5 -21h0m0 16h0m0 4.5h0m0.5 -4h0m0 13h0m0.5 -21.5h0m0 7.5h0m0.5 13h0m0 -23.5h0m0.5 27.5h0m0 -23h0m0 -7.5h0m0 26h0m0 13h0m0 -22.5h0m0.5 -26h0m0 33.5h0m0 -12h0m0.5 -3.5h0m0 24.5h0m0 -10.5h0m0.5 -6h0m0 1h0m0 -7h0m0 -7.5h0m1 -0.5h0m0 16.5h0m1 -5.5h0m0 -5h0m0 19.5h0m0 -27h0m0.5 11.5h0m0.5 -7h0m0 -2h0m0.5 12.5h0m0 -14.5h0m0 16.5h0m0.5 1h0m0 -12h0m0 -5h0m0 19h0m0.5 -18.5h0m0.5 8.5h0m0 1.5h0m0 4h0m0 8h0m0.5 -17.5h0m0.5 6h0m0 14.5h0m0 -12h0m0.5 7h0m0 -14.5h0m0 -0.5h0m1 -1h0m0 -20.5h0m0 17h0m0.5 1.5h0m0 1h0m0 7h0m0 -12.5h0m0 20.5h0m0.5 -7.5h0m0 -11h0m1 6.5h0m0 -17h0m0.5 7.5h0m0 -10.5h0m0 10h0m0.5 9h0m0 -8.5h0m0.5 7.5h0m0 -9h0m0 5h0m0.5 4.5h0m0 -3.5h0m0 -2h0m0.5 0.5h0m0.5 3h0m0.5 -5.5h0m0 -11.5h0m0 10.5h0m0.5 8h0m0 -12.5h0m0.5 0.5h0m0 -11.5h0m0 8h0m0 -10h0m0.5 16h0m0 -7.5h0m0 19.5h0m0.5 -15h0m0 13h0m0 -10h0m0.5 6h0m0 11.5h0m0.5 -12.5h0m0 -16h0m0.5 9h0m0.5 5.5h0m0 5h0m0 -10h0m0.5 -13h0m0 10h0m0.5 6.5h0m0.5 0h0m0 -14h0m0 5h0m0 10.5h0m0.5 2.5h0m0 -28h0m0 26h0m0.5 -9.5h0m0 5.5h0m0.5 -7h0m0.5 3h0m0.5 -0.5h0m0 1.5h0m0.5 -26.5h0m0 28h0m0 -21.5h0m0.5 11h0m0.5 13.5h0m0 -15.5h0m0 11h0m0.5 9.5h0m0 -6.5h0m0 -10.5h0m0.5 10h0m0 -9h0m0 2h0m0 -0.5h0m1 -3.5h0m1 -4h0m1 -9.5h0m0 8.5h0m0 -4.5h0m0 16.5h0m0.5 -2h0m0.5 -14.5h0m0 5.5h0m0 19.5h0m0 -16.5h0m0.5 2h0m0.5 -10.5h0m0 4.5h0m0 4h0m0.5 5h0m0 -2.5h0m0.5 -8.5h0m0.5 21h0m0 -33.5h0m0.5 26h0m0 -5.5h0m0 1h0m0.5 -8.5h0m0 -4.5h0m0.5 0h0m0 0.5h0m1 2h0m0 -3h0m0.5 8.5h0m0 11h0m0 0.5h0m0 -25.5h0m0.5 13.5h0m0 2.5h0m0.5 -12.5h0m0 11h0m0 -16h0m0 17h0m0 0h0m0.5 3.5h0m0 -6.5h0m0.5 -3.5h0m0.5 -4h0m0.5 15h0m1 -4.5h0m0 -16h0m0.5 17.5h0m0 -12h0m0.5 -3.5h0m0 9h0m0.5 0.5h0m0 2.5h0m0.5 -4h0m0.5 -13h0m1 9.5h0m0 12h0m0.5 -22h0m0.5 5.5h0m0.5 9.5h0m0 2.5h0m0.5 -5.5h0m0.5 -14h0m0 1h0m0.5 9.5h0m0.5 1.5h0m0 -12h0m0.5 0.5h0m0 8h0m0.5 -3h0m0 -1.5h0m0 -10.5h0m0 17h0m0.5 -10h0m0 5h0m0.5 -3h0m1 -5h0m0.5 7h0m0.5 5h0m0 -18h0m0.5 23h0m0 -10h0m0 -8h0m0 5h0m0.5 4h0m0 -7h0m0.5 14.5h0m0.5 -23h0m0 -2.5h0m0 20h0m0.5 -11h0m0.5 0h0m0 -9h0m0.5 21h0m0 -4.5h0m0.5 -10.5h0m0.5 4h0m0 0.5h0m0.5 -16h0m0 16.5h0m0.5 -7h0m0.5 3.5h0m0.5 -18h0m1 22.5h0m0 2h0m1.5 -12h0m0.5 -6.5h0m0 3.5h0m0.5 7h0m0.5 5h0m0 -13h0m0.5 9.5h0m0 3.5h0m0 -7.5h0m0 3h0m1 -10.5h0m0.5 2.5h0m0 12h0m0.5 -0.5h0m0 -13h0m0 -1h0m0.5 12.5h0m0.5 -9.5h0m0.5 -4.5h0m0 -7h0m1 13h0m0.5 0.5h0m0.5 -0.5h0m1 10.5h0m1 -0.5h0m0 -11h0m0.5 -1h0m0.5 -1.5h0m0 1h0m1 -4.5h0m0.5 8h0m1 -1.5h0" stroke="#0000FF" stroke-width="3.1" stroke-linecap="round" fill="none"/>
<line x1="1054.40" y1="1562.73" x2="1439.64" y2="1173.50" stroke="#000" stroke-width="1.1"/>
<rect x="1054.40" y="1173.50" width="388.50" height="390.80" fill="none" stroke="#707070" stroke-width="1.4"/>
<line x1="1067.00" y1="1565.00" x2="1067.00" y2="1567.50" stroke="#444" stroke-width="1"/>
<text x="1063.12" y="1582.20" font-family='"Liberation Sans", sans-serif' font-size="14" fill="#000">2</text>
<line x1="1148.16" y1="1565.00" x2="1148.16" y2="1567.50" stroke="#444" stroke-width="1"/>
<text x="1144.35" y="1582.20" font-family='"Liberation Sans", sans-serif' font-size="14" fill="#000">4</text>
<line x1="1229.32" y1="1565.00" x2="1229.32" y2="1567.50" stroke="#444" stroke-width="1"/>
<text x="1225.36" y="1582.20" font-family='"Liberation Sans", sans-serif' font-size="14" fill="#000">6</text>
<line x1="1310.48" y1="1565.00" x2="1310.48" y2="1567.50" stroke="#444" stroke-width="1"/>
<text x="1306.56" y="1582.20" font-family='"Liberation Sans", sans-serif' font-size="14" fill="#000">8</text>
<line x1="1391.64" y1="1565.00" x2="1391.64" y2="1567.50" stroke="#444" stroke-width="1"/>
<text x="1383.59" y="1582.20" font-family='"Liberation Sans", sans-serif' font-size="14" fill="#000">10</text>
<line x1="1051.20" y1="1550.00" x2="1053.70" y2="1550.00" stroke="#444" stroke-width="1"/>
<text x="1042.63" y="1555.00" font-family='"Liberation Sans", sans-serif' font-size="14" fill="#000">2</text>
<line x1="1051.20" y1="1468.00" x2="1053.70" y2="1468.00" stroke="#444" stroke-width="1"/>
<text x="1042.35" y="1473.00" font-family='"Liberation Sans", sans-serif' font-size="14" fill="#000">4</text>
<line x1="1051.20" y1="1386.00" x2="1053.70" y2="1386.00" stroke="#444" stroke-width="1"/>
<text x="1042.49" y="1391.00" font-family='"Liberation Sans", sans-serif' font-size="14" fill="#000">6</text>
<line x1="1051.20" y1="1304.00" x2="1053.70" y2="1304.00" stroke="#444" stroke-width="1"/>
<text x="1042.49" y="1309.00" font-family='"Liberation Sans", sans-serif' font-size="14" fill="#000">8</text>
<line x1="1051.20" y1="1222.00" x2="1053.70" y2="1222.00" stroke="#444" stroke-width="1"/>
<text x="1034.65" y="1227.00" font-family='"Liberation Sans", sans-serif' font-size="14" fill="#000">10</text>
<text x="1060.18" y="1201.30" font-family='"Liberation Sans", sans-serif' font-size="22.8" fill="#000">MSE=0.075</text>
<text x="1060.56" y="1233.90" font-family='"Liberation Sans", sans-serif' font-size="22.8" fill="#000">COR=0.983</text>
<text x="1094.72" y="1627.60" font-family='"Liberation Sans", sans-serif' font-size="28.8" fill="#000" textLength="301.89" lengthAdjust="spacingAndGlyphs">ESC Replicate 1 GEP</text>
<text transform="translate(1028.60,1521.50) rotate(-90)" x="-2.43" y="0" font-family='"Liberation Sans", sans-serif' font-size="32.8" fill="#000" textLength="293.48" lengthAdjust="spacingAndGlyphs">ESC Replicate 1 REP</text>
<rect x="120.65" y="1737.85" width="375.30" height="478.80" fill="none" stroke="#333" stroke-width="1.3"/>
<line x1="115.20" y1="1758.20" x2="120.00" y2="1758.20" stroke="#333" stroke-width="1.2"/>
<text x="74.09" y="1768.10" font-family='"Liberation Sans", sans-serif' font-size="26.5" fill="#000">1.0</text>
<line x1="115.20" y1="1902.30" x2="120.00" y2="1902.30" stroke="#333" stroke-width="1.2"/>
<text x="74.36" y="1912.20" font-family='"Liberation Sans", sans-serif' font-size="26.5" fill="#000">0.9</text>
<line x1="115.20" y1="2046.40" x2="120.00" y2="2046.40" stroke="#333" stroke-width="1.2"/>
<text x="74.22" y="2056.30" font-family='"Liberation Sans", sans-serif' font-size="26.5" fill="#000">0.8</text>
<line x1="115.20" y1="2190.50" x2="120.00" y2="2190.50" stroke="#333" stroke-width="1.2"/>
<text x="76.48" y="2200.40" font-family='"Liberation Sans", sans-serif' font-size="26.5" fill="#000">0.7</text>
<line x1="222.90" y1="2217.30" x2="222.90" y2="2222.00" stroke="#333" stroke-width="1.2"/>
<text x="158.03" y="2245.50" font-family='"Liberation Sans", sans-serif' font-size="27" fill="#000">GEP−GEP</text>
<line x1="394.40" y1="2217.30" x2="394.40" y2="2222.00" stroke="#333" stroke-width="1.2"/>
<text x="329.87" y="2245.50" font-family='"Liberation Sans", sans-serif' font-size="27" fill="#000">REP−GEP</text>
<text transform="translate(66.00,2225.85) rotate(-90)" x="-1.53" y="0" font-family='"Liberation Sans", sans-serif' font-size="34.5" fill="#000" textLength="500.78" lengthAdjust="spacingAndGlyphs">Spearman Correlation Coefficient</text>
<line x1="222.90" y1="1758.80" x2="222.90" y2="1774.90" stroke="#333" stroke-width="1.2"/>
<line x1="222.90" y1="1795.80" x2="222.90" y2="1824.60" stroke="#333" stroke-width="1.2"/>
<rect x="158.40" y="1774.90" width="129.00" height="20.90" fill="#FF0000" stroke="#333" stroke-width="1.3"/>
<line x1="158.40" y1="1782.40" x2="287.40" y2="1782.40" stroke="#333" stroke-width="2.6"/>
<g fill="#333"><circle cx="222.90" cy="1824.60" r="2.7"/><circle cx="222.90" cy="1827.09" r="2.7"/><circle cx="222.90" cy="1829.58" r="2.7"/><circle cx="222.90" cy="1832.07" r="2.7"/><circle cx="222.90" cy="1834.56" r="2.7"/><circle cx="222.90" cy="1837.04" r="2.7"/><circle cx="222.90" cy="1839.53" r="2.7"/><circle cx="222.90" cy="1842.02" r="2.7"/><circle cx="222.90" cy="1844.51" r="2.7"/><circle cx="222.90" cy="1847.00" r="2.7"/><circle cx="222.90" cy="1853.76" r="2.7"/><circle cx="222.90" cy="1858.90" r="2.7"/><circle cx="222.90" cy="1864.05" r="2.7"/><circle cx="222.90" cy="1870.91" r="2.7"/><circle cx="222.90" cy="1874.33" r="2.7"/><circle cx="222.90" cy="1877.76" r="2.7"/><circle cx="222.90" cy="1881.19" r="2.7"/><circle cx="222.90" cy="1886.34" r="2.7"/><circle cx="222.90" cy="1889.77" r="2.7"/><circle cx="222.90" cy="1896.63" r="2.7"/><circle cx="222.90" cy="1906.23" r="2.7"/><circle cx="222.90" cy="1916.52" r="2.7"/><circle cx="222.90" cy="1930.92" r="2.7"/><circle cx="222.90" cy="1948.07" r="2.7"/><circle cx="222.90" cy="1957.33" r="2.7"/><circle cx="222.90" cy="1966.24" r="2.7"/><circle cx="222.90" cy="2195.67" r="2.7"/></g>
<line x1="394.40" y1="1762.20" x2="394.40" y2="1771.50" stroke="#333" stroke-width="1.2"/>
<line x1="394.40" y1="1785.20" x2="394.40" y2="1802.30" stroke="#333" stroke-width="1.2"/>
<rect x="329.90" y="1771.50" width="128.90" height="13.70" fill="#0000FF" stroke="#333" stroke-width="1.3"/>
<line x1="329.90" y1="1776.60" x2="458.80" y2="1776.60" stroke="#333" stroke-width="2.6"/>
<g fill="#333"><circle cx="394.40" cy="1802.30" r="2.7"/><circle cx="394.40" cy="1805.61" r="2.7"/><circle cx="394.40" cy="1808.93" r="2.7"/><circle cx="394.40" cy="1812.24" r="2.7"/><circle cx="394.40" cy="1815.55" r="2.7"/><circle cx="394.40" cy="1818.87" r="2.7"/><circle cx="394.40" cy="1822.18" r="2.7"/><circle cx="394.40" cy="1825.49" r="2.7"/><circle cx="394.40" cy="1828.81" r="2.7"/><circle cx="394.40" cy="1832.12" r="2.7"/><circle cx="394.40" cy="1835.43" r="2.7"/><circle cx="394.40" cy="1838.75" r="2.7"/><circle cx="394.40" cy="1842.06" r="2.7"/><circle cx="394.40" cy="1845.37" r="2.7"/><circle cx="394.40" cy="1848.69" r="2.7"/><circle cx="394.40" cy="1852.00" r="2.7"/><circle cx="394.40" cy="1855.47" r="2.7"/><circle cx="394.40" cy="1858.90" r="2.7"/><circle cx="394.40" cy="1863.02" r="2.7"/><circle cx="394.40" cy="1868.50" r="2.7"/><circle cx="394.40" cy="1874.33" r="2.7"/><circle cx="394.40" cy="1890.45" r="2.7"/><circle cx="394.40" cy="1895.94" r="2.7"/><circle cx="394.40" cy="1897.65" r="2.7"/><circle cx="394.40" cy="1902.80" r="2.7"/><circle cx="394.40" cy="1964.87" r="2.7"/><circle cx="394.40" cy="2066.38" r="2.7"/></g>
<rect x="599.45" y="1738.05" width="386.10" height="478.60" fill="none" stroke="#333" stroke-width="1.3"/>
<line x1="594.00" y1="1880.60" x2="598.80" y2="1880.60" stroke="#333" stroke-width="1.2"/>
<text x="574.62" y="1890.50" font-family='"Liberation Sans", sans-serif' font-size="26.5" fill="#000">0</text>
<line x1="594.00" y1="2026.10" x2="598.80" y2="2026.10" stroke="#333" stroke-width="1.2"/>
<text x="559.38" y="2036.00" font-family='"Liberation Sans", sans-serif' font-size="26.5" fill="#000">−1</text>
<line x1="594.00" y1="2172.00" x2="598.80" y2="2172.00" stroke="#333" stroke-width="1.2"/>
<text x="559.51" y="2181.90" font-family='"Liberation Sans", sans-serif' font-size="26.5" fill="#000">−2</text>
<line x1="704.10" y1="2217.30" x2="704.10" y2="2222.00" stroke="#333" stroke-width="1.2"/>
<text x="639.23" y="2246.00" font-family='"Liberation Sans", sans-serif' font-size="27" fill="#000">GEP−GEP</text>
<line x1="880.90" y1="2217.30" x2="880.90" y2="2222.00" stroke="#333" stroke-width="1.2"/>
<text x="816.37" y="2246.00" font-family='"Liberation Sans", sans-serif' font-size="27" fill="#000">REP−GEP</text>
<text transform="translate(550.70,2066.55) rotate(-90)" x="-2.22" y="0" font-family='"Liberation Sans", sans-serif' font-size="33.4" fill="#000" textLength="180.55" lengthAdjust="spacingAndGlyphs">log10(MSE)</text>
<line x1="704.10" y1="1903.60" x2="704.10" y2="1993.50" stroke="#333" stroke-width="1.2"/>
<line x1="704.10" y1="2053.70" x2="704.10" y2="2135.70" stroke="#333" stroke-width="1.2"/>
<rect x="638.30" y="1993.50" width="132.30" height="60.20" fill="#FF0000" stroke="#333" stroke-width="1.3"/>
<line x1="638.30" y1="2029.70" x2="770.60" y2="2029.70" stroke="#333" stroke-width="2.6"/>
<g fill="#333"><circle cx="704.10" cy="1798.93" r="2.7"/><circle cx="704.10" cy="1824.61" r="2.7"/><circle cx="704.10" cy="1850.29" r="2.7"/><circle cx="704.10" cy="1870.70" r="2.7"/><circle cx="704.10" cy="1873.99" r="2.7"/><circle cx="704.10" cy="1877.28" r="2.7"/><circle cx="704.10" cy="1879.92" r="2.7"/><circle cx="704.10" cy="1882.55" r="2.7"/><circle cx="704.10" cy="1885.19" r="2.7"/><circle cx="704.10" cy="1887.82" r="2.7"/><circle cx="704.10" cy="1890.45" r="2.7"/><circle cx="704.10" cy="1893.09" r="2.7"/><circle cx="704.10" cy="1895.72" r="2.7"/><circle cx="704.10" cy="1898.35" r="2.7"/><circle cx="704.10" cy="1900.99" r="2.7"/><circle cx="704.10" cy="1902.96" r="2.7"/><circle cx="704.10" cy="2158.77" r="2.7"/><circle cx="704.10" cy="2163.70" r="2.7"/><circle cx="704.10" cy="2168.64" r="2.7"/><circle cx="704.10" cy="2177.53" r="2.7"/><circle cx="704.10" cy="2191.69" r="2.7"/><circle cx="704.10" cy="2196.63" r="2.7"/></g>
<line x1="880.90" y1="1945.80" x2="880.90" y2="2023.50" stroke="#333" stroke-width="1.2"/>
<line x1="880.90" y1="2074.20" x2="880.90" y2="2144.60" stroke="#333" stroke-width="1.2"/>
<rect x="814.40" y="2023.50" width="132.60" height="50.70" fill="#0000FF" stroke="#333" stroke-width="1.3"/>
<line x1="814.40" y1="2050.80" x2="947.00" y2="2050.80" stroke="#333" stroke-width="2.6"/>
<g fill="#333"><circle cx="880.90" cy="1758.11" r="2.7"/><circle cx="880.90" cy="1823.29" r="2.7"/><circle cx="880.90" cy="1869.05" r="2.7"/><circle cx="880.90" cy="1873.33" r="2.7"/><circle cx="880.90" cy="1889.47" r="2.7"/><circle cx="880.90" cy="1894.40" r="2.7"/><circle cx="880.90" cy="1897.70" r="2.7"/><circle cx="880.90" cy="1904.28" r="2.7"/><circle cx="880.90" cy="1908.56" r="2.7"/><circle cx="880.90" cy="1910.75" r="2.7"/><circle cx="880.90" cy="1912.94" r="2.7"/><circle cx="880.90" cy="1915.12" r="2.7"/><circle cx="880.90" cy="1917.31" r="2.7"/><circle cx="880.90" cy="1919.50" r="2.7"/><circle cx="880.90" cy="1921.69" r="2.7"/><circle cx="880.90" cy="1923.88" r="2.7"/><circle cx="880.90" cy="1926.07" r="2.7"/><circle cx="880.90" cy="1928.25" r="2.7"/><circle cx="880.90" cy="1930.44" r="2.7"/><circle cx="880.90" cy="1932.63" r="2.7"/><circle cx="880.90" cy="1934.82" r="2.7"/><circle cx="880.90" cy="1937.01" r="2.7"/><circle cx="880.90" cy="1939.20" r="2.7"/><circle cx="880.90" cy="1941.38" r="2.7"/><circle cx="880.90" cy="1943.57" r="2.7"/><circle cx="880.90" cy="1945.76" r="2.7"/></g>
<rect x="1123.10" y="1718.90" width="25.40" height="402.50" fill="#0000FF"/>
<text x="1124.85" y="1712.90" font-family='"Liberation Serif", serif' font-size="21.8" fill="#0000FF">35</text>
<rect x="1181.30" y="1718.90" width="25.40" height="402.50" fill="#0000FF"/>
<text x="1174.76" y="1712.90" font-family='"Liberation Serif", serif' font-size="21.8" fill="#0000FF">25.6</text>
<rect x="1239.90" y="1890.92" width="25.40" height="230.48" fill="#0000FF"/>
<text x="1227.80" y="1884.92" font-family='"Liberation Serif", serif' font-size="21.8" fill="#0000FF">0.344</text>
<rect x="1298.30" y="2016.88" width="25.40" height="104.52" fill="#0000FF"/>
<text x="1286.37" y="2010.88" font-family='"Liberation Serif", serif' font-size="21.8" fill="#0000FF">0.156</text>
<rect x="1356.90" y="2022.24" width="25.40" height="99.16" fill="#0000FF"/>
<text x="1345.07" y="2016.24" font-family='"Liberation Serif", serif' font-size="21.8" fill="#0000FF">0.148</text>
<rect x="1415.30" y="2048.37" width="25.40" height="73.03" fill="#0000FF"/>
<text x="1403.47" y="2042.37" font-family='"Liberation Serif", serif' font-size="21.8" fill="#0000FF">0.109</text>
<path d="M1122.3 1771.8 C1127.8 1771.8 1129.8 1767.2 1134.8 1767.2 C1139.8 1767.2 1141.8 1771.6 1149.3 1771.6" fill="none" stroke="#fff" stroke-width="2.6"/>
<path d="M1180.5 1771.8 C1186.0 1771.8 1188.0 1767.2 1193.0 1767.2 C1198.0 1767.2 1200.0 1771.6 1207.5 1771.6" fill="none" stroke="#fff" stroke-width="2.6"/>
<line x1="1106.50" y1="1786.40" x2="1106.50" y2="2122.00" stroke="#444" stroke-width="1.2"/>
<line x1="1106.50" y1="2121.40" x2="1458.00" y2="2121.40" stroke="#444" stroke-width="1.3"/>
<line x1="1106.50" y1="2121.40" x2="1114.60" y2="2121.40" stroke="#666" stroke-width="1.0"/>
<text x="1088.08" y="2128.80" font-family='"Liberation Serif", serif' font-size="22" fill="#000">0</text>
<line x1="1106.50" y1="2054.40" x2="1114.60" y2="2054.40" stroke="#666" stroke-width="1.0"/>
<text x="1072.02" y="2061.80" font-family='"Liberation Serif", serif' font-size="22" fill="#000">0.1</text>
<line x1="1106.50" y1="1987.40" x2="1114.60" y2="1987.40" stroke="#666" stroke-width="1.0"/>
<text x="1071.91" y="1994.80" font-family='"Liberation Serif", serif' font-size="22" fill="#000">0.2</text>
<line x1="1106.50" y1="1920.40" x2="1114.60" y2="1920.40" stroke="#666" stroke-width="1.0"/>
<text x="1071.58" y="1927.80" font-family='"Liberation Serif", serif' font-size="22" fill="#000">0.3</text>
<line x1="1106.50" y1="1853.40" x2="1114.60" y2="1853.40" stroke="#666" stroke-width="1.0"/>
<text x="1071.03" y="1860.80" font-family='"Liberation Serif", serif' font-size="22" fill="#000">0.4</text>
<line x1="1106.50" y1="1786.40" x2="1114.60" y2="1786.40" stroke="#666" stroke-width="1.0"/>
<text x="1071.58" y="1793.80" font-family='"Liberation Serif", serif' font-size="22" fill="#000">0.5</text>
<line x1="1135.80" y1="2121.40" x2="1135.80" y2="2130.50" stroke="#999" stroke-width="1.0"/>
<line x1="1194.00" y1="2121.40" x2="1194.00" y2="2130.50" stroke="#999" stroke-width="1.0"/>
<line x1="1252.60" y1="2121.40" x2="1252.60" y2="2130.50" stroke="#999" stroke-width="1.0"/>
<line x1="1311.00" y1="2121.40" x2="1311.00" y2="2130.50" stroke="#999" stroke-width="1.0"/>
<line x1="1369.60" y1="2121.40" x2="1369.60" y2="2130.50" stroke="#999" stroke-width="1.0"/>
<line x1="1428.00" y1="2121.40" x2="1428.00" y2="2130.50" stroke="#999" stroke-width="1.0"/>
<text transform="translate(1039.00,2132.10) rotate(-90)" x="-1.37" y="0" font-family='"Liberation Sans", sans-serif' font-size="28.7" fill="#000" textLength="364.23" lengthAdjust="spacingAndGlyphs">GEP-REP Mean Square Error</text>
<text transform="translate(1136.70,2151.3) rotate(-45)" text-anchor="end" font-family='"Liberation Sans", sans-serif' font-size="25.5">Poly-Kernel PCA</text>
<text transform="translate(1194.90,2151.3) rotate(-45)" text-anchor="end" font-family='"Liberation Sans", sans-serif' font-size="25.5">Cos-Kernel PCA</text>
<text transform="translate(1253.50,2151.3) rotate(-45)" text-anchor="end" font-family='"Liberation Sans", sans-serif' font-size="25.5">RBF-Kernel PCA</text>
<text transform="translate(1311.90,2151.3) rotate(-45)" text-anchor="end" font-family='"Liberation Sans", sans-serif' font-size="25.5">NMF</text>
<text transform="translate(1370.50,2151.3) rotate(-45)" text-anchor="end" font-family='"Liberation Sans", sans-serif' font-size="25.5">PCA</text>
<text transform="translate(1428.90,2151.3) rotate(-45)" text-anchor="end" font-family='"Liberation Sans", sans-serif' font-size="25.5">CIC</text>
</svg>
</body></html>
